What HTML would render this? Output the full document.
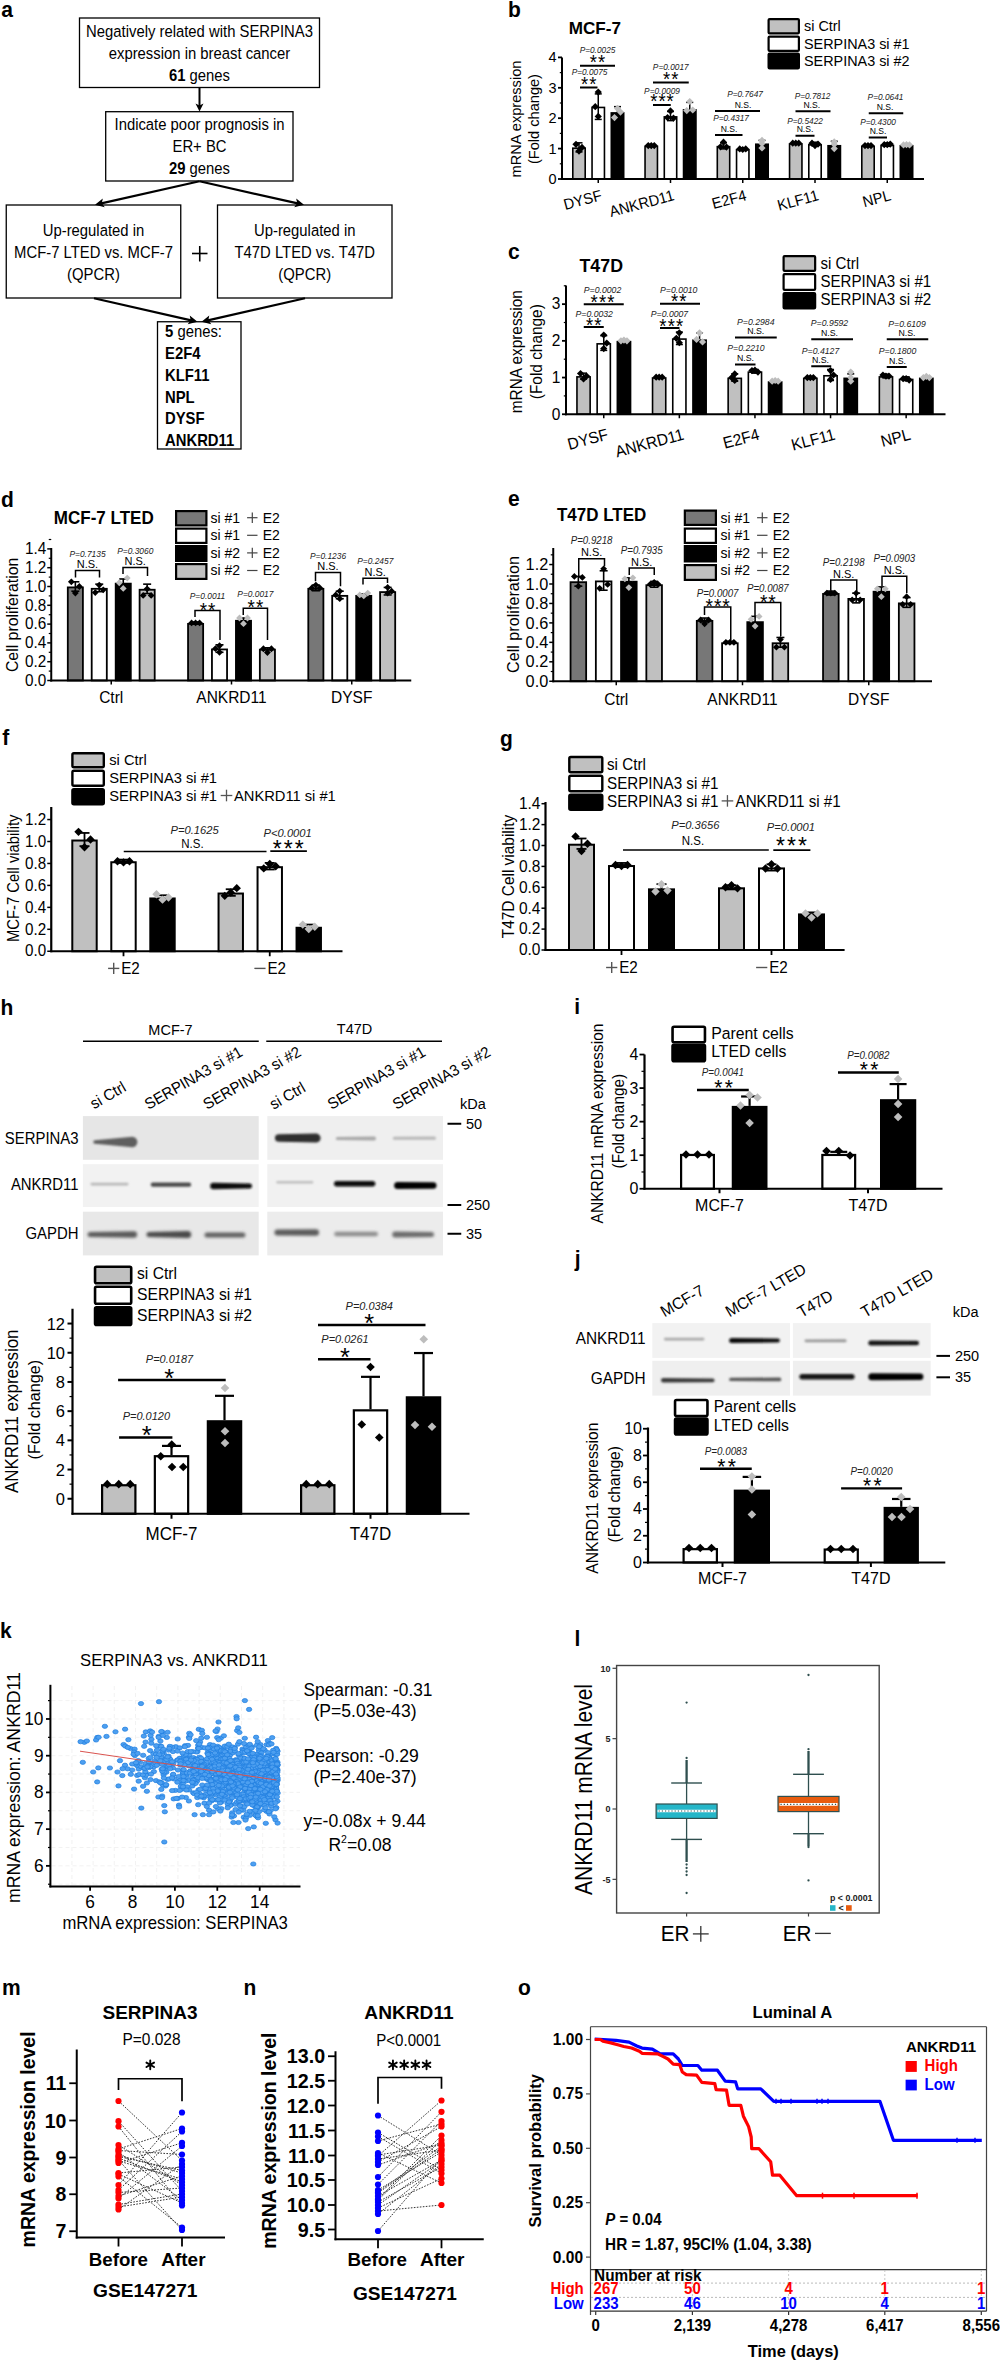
<!DOCTYPE html><html><head><meta charset="utf-8"><title>Figure</title><style>html,body{margin:0;padding:0;background:#fff;}body{width:1000px;height:2363px;overflow:hidden;font-family:"Liberation Sans",sans-serif;}svg{display:block;}</style></head><body><svg width="1000" height="2363" viewBox="0 0 1000 2363" font-family="'Liberation Sans', sans-serif"><defs><filter id="bl8" x="-20%" y="-100%" width="140%" height="300%"><feGaussianBlur stdDeviation="0.8"/></filter><filter id="bl9" x="-20%" y="-100%" width="140%" height="300%"><feGaussianBlur stdDeviation="0.9"/></filter><filter id="bl10" x="-20%" y="-100%" width="140%" height="300%"><feGaussianBlur stdDeviation="1.0"/></filter><filter id="bl12" x="-20%" y="-100%" width="140%" height="300%"><feGaussianBlur stdDeviation="1.2"/></filter><filter id="bl14" x="-20%" y="-100%" width="140%" height="300%"><feGaussianBlur stdDeviation="1.4"/></filter><filter id="bl15" x="-20%" y="-100%" width="140%" height="300%"><feGaussianBlur stdDeviation="1.5"/></filter><filter id="bl16" x="-20%" y="-100%" width="140%" height="300%"><feGaussianBlur stdDeviation="1.6"/></filter></defs><text x="1.20" y="16.80" font-size="21" font-weight="bold" transform="matrix(1 0 0 1.05 0 -0.840)">a</text>
<rect x="79.50" y="18.00" width="240.00" height="69.50" fill="none" stroke="#000" stroke-width="1.3"/>
<text x="199.50" y="37.50" font-size="14.85" text-anchor="middle" transform="matrix(1 0 0 1.05 0 -1.875)">Negatively related with SERPINA3</text>
<text x="199.50" y="59.50" font-size="14.85" text-anchor="middle" transform="matrix(1 0 0 1.05 0 -2.975)">expression in breast cancer</text>
<text x="199.5" y="81.5" font-size="14.85" text-anchor="middle" transform="matrix(1 0 0 1.05 0 -4.075)"><tspan font-weight="bold">61</tspan> genes</text>
<line x1="199.50" y1="87.50" x2="199.50" y2="106.70" stroke="#000" stroke-width="2"/>
<path d="M199.50 111.50L195.50 103.50L199.50 105.50L203.50 103.50Z" fill="#000"/>
<rect x="105.70" y="111.70" width="187.30" height="69.30" fill="none" stroke="#000" stroke-width="1.3"/>
<text x="199.50" y="130.50" font-size="14.85" text-anchor="middle" transform="matrix(1 0 0 1.05 0 -6.525)">Indicate poor prognosis in</text>
<text x="199.50" y="152.50" font-size="14.85" text-anchor="middle" transform="matrix(1 0 0 1.05 0 -7.625)">ER+ BC</text>
<text x="199.5" y="174.3" font-size="14.85" text-anchor="middle" transform="matrix(1 0 0 1.05 0 -8.715)"><tspan font-weight="bold">29</tspan> genes</text>
<line x1="199.50" y1="181.30" x2="100.27" y2="203.62" stroke="#000" stroke-width="2.2"/>
<path d="M95.00 204.80L102.79 198.44L101.83 203.26L104.77 207.22Z" fill="#000"/>
<line x1="199.50" y1="181.30" x2="298.73" y2="203.62" stroke="#000" stroke-width="2.2"/>
<path d="M304.00 204.80L294.23 207.22L297.17 203.26L296.21 198.44Z" fill="#000"/>
<rect x="6.25" y="205.00" width="174.50" height="93.00" fill="none" stroke="#000" stroke-width="1.3"/>
<rect x="217.50" y="205.00" width="174.50" height="93.00" fill="none" stroke="#000" stroke-width="1.3"/>
<text x="93.50" y="236.00" font-size="14.85" text-anchor="middle" transform="matrix(1 0 0 1.05 0 -11.800)">Up-regulated in</text>
<text x="93.50" y="258.00" font-size="14.85" text-anchor="middle" transform="matrix(1 0 0 1.05 0 -12.900)">MCF-7 LTED vs. MCF-7</text>
<text x="93.50" y="280.00" font-size="14.85" text-anchor="middle" transform="matrix(1 0 0 1.05 0 -14.000)">(QPCR)</text>
<text x="304.75" y="236.00" font-size="14.85" text-anchor="middle" transform="matrix(1 0 0 1.05 0 -11.800)">Up-regulated in</text>
<text x="304.75" y="258.00" font-size="14.85" text-anchor="middle" transform="matrix(1 0 0 1.05 0 -12.900)">T47D LTED vs. T47D</text>
<text x="304.75" y="280.00" font-size="14.85" text-anchor="middle" transform="matrix(1 0 0 1.05 0 -14.000)">(QPCR)</text>
<line x1="192.00" y1="253.50" x2="207.50" y2="253.50" stroke="#000" stroke-width="1.6"/>
<line x1="199.75" y1="246.00" x2="199.75" y2="261.50" stroke="#000" stroke-width="1.6"/>
<line x1="94.00" y1="298.20" x2="192.24" y2="320.60" stroke="#000" stroke-width="2.2"/>
<path d="M197.50 321.80L187.72 324.19L190.68 320.24L189.73 315.41Z" fill="#000"/>
<line x1="305.00" y1="298.20" x2="206.76" y2="320.60" stroke="#000" stroke-width="2.2"/>
<path d="M201.50 321.80L209.27 315.41L208.32 320.24L211.28 324.19Z" fill="#000"/>
<rect x="157.50" y="321.75" width="83.50" height="127.25" fill="none" stroke="#000" stroke-width="1.3"/>
<text x="165" y="337" font-size="14.85" transform="matrix(1 0 0 1.05 0 -16.850)"><tspan font-weight="bold">5</tspan> genes:</text>
<text x="165.00" y="359.00" font-size="14.85" font-weight="bold" transform="matrix(1 0 0 1.05 0 -17.950)">E2F4</text>
<text x="165.00" y="380.80" font-size="14.85" font-weight="bold" transform="matrix(1 0 0 1.05 0 -19.040)">KLF11</text>
<text x="165.00" y="402.60" font-size="14.85" font-weight="bold" transform="matrix(1 0 0 1.05 0 -20.130)">NPL</text>
<text x="165.00" y="424.40" font-size="14.85" font-weight="bold" transform="matrix(1 0 0 1.05 0 -21.220)">DYSF</text>
<text x="165.00" y="446.20" font-size="14.85" font-weight="bold" transform="matrix(1 0 0 1.05 0 -22.310)">ANKRD11</text>
<rect x="572.80" y="148.18" width="12.40" height="30.82" fill="#c0c0c0" stroke="#000" stroke-width="1.6"/>
<line x1="579.00" y1="151.94" x2="579.00" y2="142.82" stroke="#000" stroke-width="1.5"/>
<line x1="575.50" y1="142.82" x2="582.50" y2="142.82" stroke="#000" stroke-width="1.5"/>
<line x1="575.50" y1="151.94" x2="582.50" y2="151.94" stroke="#000" stroke-width="1.5"/>
<path d="M576.00 140.74L579.60 144.34L576.00 147.94L572.40 144.34Z" fill="#000"/>
<path d="M582.00 143.78L585.60 147.38L582.00 150.98L578.40 147.38Z" fill="#000"/>
<path d="M579.00 147.43L582.60 151.03L579.00 154.63L575.40 151.03Z" fill="#000"/>
<rect x="592.05" y="107.45" width="12.40" height="71.55" fill="#fff" stroke="#000" stroke-width="1.6"/>
<line x1="598.25" y1="119.42" x2="598.25" y2="93.88" stroke="#000" stroke-width="1.5"/>
<line x1="594.75" y1="93.88" x2="601.75" y2="93.88" stroke="#000" stroke-width="1.5"/>
<line x1="594.75" y1="119.42" x2="601.75" y2="119.42" stroke="#000" stroke-width="1.5"/>
<path d="M598.25 88.46L601.85 92.06L598.25 95.66L594.65 92.06Z" fill="#000"/>
<path d="M595.25 103.05L598.85 106.65L595.25 110.25L591.65 106.65Z" fill="#000"/>
<path d="M598.25 112.78L601.85 116.38L598.25 119.98L594.65 116.38Z" fill="#000"/>
<rect x="611.30" y="112.92" width="12.40" height="66.08" fill="#000" stroke="#000" stroke-width="1.6"/>
<line x1="617.50" y1="117.59" x2="617.50" y2="106.65" stroke="#000" stroke-width="1.5"/>
<line x1="614.00" y1="106.65" x2="621.00" y2="106.65" stroke="#000" stroke-width="1.5"/>
<line x1="614.00" y1="117.59" x2="621.00" y2="117.59" stroke="#000" stroke-width="1.5"/>
<path d="M617.50 104.87L621.10 108.47L617.50 112.07L613.90 108.47Z" fill="#bdbdbd"/>
<path d="M620.50 108.52L624.10 112.12L620.50 115.72L616.90 112.12Z" fill="#bdbdbd"/>
<path d="M614.50 113.99L618.10 117.59L614.50 121.19L610.90 117.59Z" fill="#bdbdbd"/>
<rect x="645.05" y="146.36" width="12.40" height="32.64" fill="#c0c0c0" stroke="#000" stroke-width="1.6"/>
<line x1="651.25" y1="146.17" x2="651.25" y2="144.95" stroke="#000" stroke-width="1.5"/>
<line x1="647.75" y1="144.95" x2="654.75" y2="144.95" stroke="#000" stroke-width="1.5"/>
<line x1="647.75" y1="146.17" x2="654.75" y2="146.17" stroke="#000" stroke-width="1.5"/>
<path d="M648.25 141.96L651.85 145.56L648.25 149.16L644.65 145.56Z" fill="#000"/>
<path d="M651.25 141.96L654.85 145.56L651.25 149.16L647.65 145.56Z" fill="#000"/>
<path d="M654.25 141.96L657.85 145.56L654.25 149.16L650.65 145.56Z" fill="#000"/>
<rect x="664.30" y="116.87" width="12.40" height="62.13" fill="#fff" stroke="#000" stroke-width="1.6"/>
<line x1="670.50" y1="120.63" x2="670.50" y2="111.51" stroke="#000" stroke-width="1.5"/>
<line x1="667.00" y1="111.51" x2="674.00" y2="111.51" stroke="#000" stroke-width="1.5"/>
<line x1="667.00" y1="120.63" x2="674.00" y2="120.63" stroke="#000" stroke-width="1.5"/>
<path d="M670.50 107.30L674.10 110.90L670.50 114.50L666.90 110.90Z" fill="#000"/>
<path d="M667.50 113.99L671.10 117.59L667.50 121.19L663.90 117.59Z" fill="#000"/>
<path d="M673.50 114.60L677.10 118.20L673.50 121.80L669.90 118.20Z" fill="#000"/>
<rect x="683.55" y="109.88" width="12.40" height="69.12" fill="#000" stroke="#000" stroke-width="1.6"/>
<line x1="689.75" y1="115.77" x2="689.75" y2="102.39" stroke="#000" stroke-width="1.5"/>
<line x1="686.25" y1="102.39" x2="693.25" y2="102.39" stroke="#000" stroke-width="1.5"/>
<line x1="686.25" y1="115.77" x2="693.25" y2="115.77" stroke="#000" stroke-width="1.5"/>
<path d="M689.75 97.88L693.35 101.48L689.75 105.08L686.15 101.48Z" fill="#bdbdbd"/>
<path d="M686.75 107.00L690.35 110.60L686.75 114.20L683.15 110.60Z" fill="#bdbdbd"/>
<path d="M692.75 106.39L696.35 109.99L692.75 113.59L689.15 109.99Z" fill="#bdbdbd"/>
<rect x="717.30" y="146.66" width="12.40" height="32.34" fill="#c0c0c0" stroke="#000" stroke-width="1.6"/>
<line x1="723.50" y1="148.90" x2="723.50" y2="142.82" stroke="#000" stroke-width="1.5"/>
<line x1="720.00" y1="142.82" x2="727.00" y2="142.82" stroke="#000" stroke-width="1.5"/>
<line x1="720.00" y1="148.90" x2="727.00" y2="148.90" stroke="#000" stroke-width="1.5"/>
<path d="M723.50 138.62L727.10 142.22L723.50 145.82L719.90 142.22Z" fill="#000"/>
<path d="M720.50 143.18L724.10 146.78L720.50 150.38L716.90 146.78Z" fill="#000"/>
<path d="M726.50 143.48L730.10 147.08L726.50 150.68L722.90 147.08Z" fill="#000"/>
<rect x="736.55" y="149.70" width="12.40" height="29.30" fill="#fff" stroke="#000" stroke-width="1.6"/>
<line x1="742.75" y1="149.82" x2="742.75" y2="147.99" stroke="#000" stroke-width="1.5"/>
<line x1="739.25" y1="147.99" x2="746.25" y2="147.99" stroke="#000" stroke-width="1.5"/>
<line x1="739.25" y1="149.82" x2="746.25" y2="149.82" stroke="#000" stroke-width="1.5"/>
<path d="M739.75 145.30L743.35 148.90L739.75 152.50L736.15 148.90Z" fill="#000"/>
<path d="M742.75 145.91L746.35 149.51L742.75 153.11L739.15 149.51Z" fill="#000"/>
<path d="M745.75 145.30L749.35 148.90L745.75 152.50L742.15 148.90Z" fill="#000"/>
<rect x="755.80" y="144.23" width="12.40" height="34.77" fill="#000" stroke="#000" stroke-width="1.6"/>
<line x1="762.00" y1="146.47" x2="762.00" y2="140.39" stroke="#000" stroke-width="1.5"/>
<line x1="758.50" y1="140.39" x2="765.50" y2="140.39" stroke="#000" stroke-width="1.5"/>
<line x1="758.50" y1="146.47" x2="765.50" y2="146.47" stroke="#000" stroke-width="1.5"/>
<path d="M762.00 136.79L765.60 140.39L762.00 143.99L758.40 140.39Z" fill="#bdbdbd"/>
<path d="M762.00 144.39L765.60 147.99L762.00 151.59L758.40 147.99Z" fill="#bdbdbd"/>
<path d="M762.00 139.83L765.60 143.43L762.00 147.03L758.40 143.43Z" fill="#bdbdbd"/>
<rect x="789.55" y="143.93" width="12.40" height="35.07" fill="#c0c0c0" stroke="#000" stroke-width="1.6"/>
<line x1="795.75" y1="144.04" x2="795.75" y2="142.22" stroke="#000" stroke-width="1.5"/>
<line x1="792.25" y1="142.22" x2="799.25" y2="142.22" stroke="#000" stroke-width="1.5"/>
<line x1="792.25" y1="144.04" x2="799.25" y2="144.04" stroke="#000" stroke-width="1.5"/>
<path d="M792.75 139.53L796.35 143.13L792.75 146.73L789.15 143.13Z" fill="#000"/>
<path d="M795.75 139.53L799.35 143.13L795.75 146.73L792.15 143.13Z" fill="#000"/>
<path d="M798.75 139.53L802.35 143.13L798.75 146.73L795.15 143.13Z" fill="#000"/>
<rect x="808.80" y="144.84" width="12.40" height="34.16" fill="#fff" stroke="#000" stroke-width="1.6"/>
<line x1="815.00" y1="145.86" x2="815.00" y2="142.22" stroke="#000" stroke-width="1.5"/>
<line x1="811.50" y1="142.22" x2="818.50" y2="142.22" stroke="#000" stroke-width="1.5"/>
<line x1="811.50" y1="145.86" x2="818.50" y2="145.86" stroke="#000" stroke-width="1.5"/>
<path d="M812.00 139.53L815.60 143.13L812.00 146.73L808.40 143.13Z" fill="#000"/>
<path d="M815.00 141.96L818.60 145.56L815.00 149.16L811.40 145.56Z" fill="#000"/>
<path d="M818.00 140.44L821.60 144.04L818.00 147.64L814.40 144.04Z" fill="#000"/>
<rect x="828.05" y="145.75" width="12.40" height="33.25" fill="#000" stroke="#000" stroke-width="1.6"/>
<line x1="834.25" y1="148.60" x2="834.25" y2="141.30" stroke="#000" stroke-width="1.5"/>
<line x1="830.75" y1="141.30" x2="837.75" y2="141.30" stroke="#000" stroke-width="1.5"/>
<line x1="830.75" y1="148.60" x2="837.75" y2="148.60" stroke="#000" stroke-width="1.5"/>
<path d="M834.25 138.31L837.85 141.91L834.25 145.51L830.65 141.91Z" fill="#bdbdbd"/>
<path d="M834.25 145.00L837.85 148.60L834.25 152.20L830.65 148.60Z" fill="#bdbdbd"/>
<path d="M834.25 140.74L837.85 144.34L834.25 147.94L830.65 144.34Z" fill="#bdbdbd"/>
<rect x="861.80" y="146.36" width="12.40" height="32.64" fill="#c0c0c0" stroke="#000" stroke-width="1.6"/>
<line x1="868.00" y1="146.47" x2="868.00" y2="144.65" stroke="#000" stroke-width="1.5"/>
<line x1="864.50" y1="144.65" x2="871.50" y2="144.65" stroke="#000" stroke-width="1.5"/>
<line x1="864.50" y1="146.47" x2="871.50" y2="146.47" stroke="#000" stroke-width="1.5"/>
<path d="M865.00 141.96L868.60 145.56L865.00 149.16L861.40 145.56Z" fill="#000"/>
<path d="M868.00 141.96L871.60 145.56L868.00 149.16L864.40 145.56Z" fill="#000"/>
<path d="M871.00 141.96L874.60 145.56L871.00 149.16L867.40 145.56Z" fill="#000"/>
<rect x="881.05" y="145.45" width="12.40" height="33.55" fill="#fff" stroke="#000" stroke-width="1.6"/>
<line x1="887.25" y1="146.17" x2="887.25" y2="143.13" stroke="#000" stroke-width="1.5"/>
<line x1="883.75" y1="143.13" x2="890.75" y2="143.13" stroke="#000" stroke-width="1.5"/>
<line x1="883.75" y1="146.17" x2="890.75" y2="146.17" stroke="#000" stroke-width="1.5"/>
<path d="M884.25 141.05L887.85 144.65L884.25 148.25L880.65 144.65Z" fill="#000"/>
<path d="M887.25 141.05L890.85 144.65L887.25 148.25L883.65 144.65Z" fill="#000"/>
<path d="M890.25 140.44L893.85 144.04L890.25 147.64L886.65 144.04Z" fill="#000"/>
<rect x="900.30" y="145.75" width="12.40" height="33.25" fill="#000" stroke="#000" stroke-width="1.6"/>
<line x1="906.50" y1="145.86" x2="906.50" y2="144.04" stroke="#000" stroke-width="1.5"/>
<line x1="903.00" y1="144.04" x2="910.00" y2="144.04" stroke="#000" stroke-width="1.5"/>
<line x1="903.00" y1="145.86" x2="910.00" y2="145.86" stroke="#000" stroke-width="1.5"/>
<path d="M903.50 141.35L907.10 144.95L903.50 148.55L899.90 144.95Z" fill="#bdbdbd"/>
<path d="M906.50 141.05L910.10 144.65L906.50 148.25L902.90 144.65Z" fill="#bdbdbd"/>
<path d="M909.50 141.35L913.10 144.95L909.50 148.55L905.90 144.95Z" fill="#bdbdbd"/>
<line x1="562.00" y1="57.50" x2="562.00" y2="180.00" stroke="#000" stroke-width="2"/>
<line x1="561.00" y1="179.00" x2="924.00" y2="179.00" stroke="#000" stroke-width="2"/>
<line x1="558.00" y1="179.00" x2="562.00" y2="179.00" stroke="#000" stroke-width="1.8"/>
<text x="556.50" y="183.99" font-size="14.5" text-anchor="end" transform="matrix(1 0 0 1.05 0 -9.199)">0</text>
<line x1="559.80" y1="163.80" x2="562.00" y2="163.80" stroke="#000" stroke-width="1.2"/>
<line x1="558.00" y1="148.60" x2="562.00" y2="148.60" stroke="#000" stroke-width="1.8"/>
<text x="556.50" y="153.59" font-size="14.5" text-anchor="end" transform="matrix(1 0 0 1.05 0 -7.679)">1</text>
<line x1="559.80" y1="133.40" x2="562.00" y2="133.40" stroke="#000" stroke-width="1.2"/>
<line x1="558.00" y1="118.20" x2="562.00" y2="118.20" stroke="#000" stroke-width="1.8"/>
<text x="556.50" y="123.19" font-size="14.5" text-anchor="end" transform="matrix(1 0 0 1.05 0 -6.159)">2</text>
<line x1="559.80" y1="103.00" x2="562.00" y2="103.00" stroke="#000" stroke-width="1.2"/>
<line x1="558.00" y1="87.80" x2="562.00" y2="87.80" stroke="#000" stroke-width="1.8"/>
<text x="556.50" y="92.79" font-size="14.5" text-anchor="end" transform="matrix(1 0 0 1.05 0 -4.639)">3</text>
<line x1="559.80" y1="72.60" x2="562.00" y2="72.60" stroke="#000" stroke-width="1.2"/>
<line x1="558.00" y1="57.40" x2="562.00" y2="57.40" stroke="#000" stroke-width="1.8"/>
<text x="556.50" y="62.39" font-size="14.5" text-anchor="end" transform="matrix(1 0 0 1.05 0 -3.119)">4</text>
<line x1="598.25" y1="179.00" x2="598.25" y2="183.00" stroke="#000" stroke-width="1.5"/>
<line x1="670.50" y1="179.00" x2="670.50" y2="183.00" stroke="#000" stroke-width="1.5"/>
<line x1="742.75" y1="179.00" x2="742.75" y2="183.00" stroke="#000" stroke-width="1.5"/>
<line x1="815.00" y1="179.00" x2="815.00" y2="183.00" stroke="#000" stroke-width="1.5"/>
<line x1="887.25" y1="179.00" x2="887.25" y2="183.00" stroke="#000" stroke-width="1.5"/>
<text x="602.75" y="200.00" font-size="14.6" text-anchor="end" transform="rotate(-15 602.75 200.00) matrix(1 0 0 1.05 0 -10.000)">DYSF</text>
<text x="675.00" y="200.00" font-size="14.6" text-anchor="end" transform="rotate(-15 675.00 200.00) matrix(1 0 0 1.05 0 -10.000)">ANKRD11</text>
<text x="747.25" y="200.00" font-size="14.6" text-anchor="end" transform="rotate(-15 747.25 200.00) matrix(1 0 0 1.05 0 -10.000)">E2F4</text>
<text x="819.50" y="200.00" font-size="14.6" text-anchor="end" transform="rotate(-15 819.50 200.00) matrix(1 0 0 1.05 0 -10.000)">KLF11</text>
<text x="891.75" y="200.00" font-size="14.6" text-anchor="end" transform="rotate(-15 891.75 200.00) matrix(1 0 0 1.05 0 -10.000)">NPL</text>
<text x="521.00" y="119.00" font-size="14.6" text-anchor="middle" textLength="116.75" lengthAdjust="spacingAndGlyphs" transform="rotate(-90 521.00 119.00) matrix(1 0 0 1.05 0 -5.950)">mRNA expression</text>
<text x="539.50" y="119.00" font-size="14.6" text-anchor="middle" textLength="90.00" lengthAdjust="spacingAndGlyphs" transform="rotate(-90 539.50 119.00) matrix(1 0 0 1.05 0 -5.950)">(Fold change)</text>
<line x1="580.00" y1="87.50" x2="597.50" y2="87.50" stroke="#000" stroke-width="2"/>
<text x="589.25" y="90.58" font-size="18.4" text-anchor="middle" transform="matrix(1 0 0 1.05 0 -4.529)" letter-spacing="1.0">**</text>
<text x="589.50" y="75.50" font-size="8.3" text-anchor="middle" fill="#222" font-style="italic" transform="matrix(1 0 0 1.05 0 -3.775)">P=0.0075</text>
<line x1="580.00" y1="65.75" x2="615.00" y2="65.75" stroke="#000" stroke-width="2"/>
<text x="598.00" y="68.83" font-size="18.4" text-anchor="middle" transform="matrix(1 0 0 1.05 0 -3.441)" letter-spacing="1.0">**</text>
<text x="597.50" y="53.50" font-size="8.3" text-anchor="middle" fill="#222" font-style="italic" transform="matrix(1 0 0 1.05 0 -2.675)">P=0.0025</text>
<line x1="653.00" y1="105.00" x2="670.75" y2="105.00" stroke="#000" stroke-width="2"/>
<text x="662.50" y="108.08" font-size="18.4" text-anchor="middle" transform="matrix(1 0 0 1.05 0 -5.404)" letter-spacing="1.0">***</text>
<text x="662.00" y="94.00" font-size="8.3" text-anchor="middle" fill="#222" font-style="italic" transform="matrix(1 0 0 1.05 0 -4.700)">P=0.0009</text>
<line x1="653.00" y1="82.50" x2="688.75" y2="82.50" stroke="#000" stroke-width="2"/>
<text x="671.25" y="85.58" font-size="18.4" text-anchor="middle" transform="matrix(1 0 0 1.05 0 -4.279)" letter-spacing="1.0">**</text>
<text x="670.75" y="70.00" font-size="8.3" text-anchor="middle" fill="#222" font-style="italic" transform="matrix(1 0 0 1.05 0 -3.500)">P=0.0017</text>
<line x1="715.00" y1="135.00" x2="742.50" y2="135.00" stroke="#000" stroke-width="2"/>
<text x="729.00" y="132.00" font-size="8.6" text-anchor="middle" transform="matrix(1 0 0 1.05 0 -6.600)">N.S.</text>
<text x="731.00" y="121.50" font-size="8.3" text-anchor="middle" fill="#222" font-style="italic" transform="matrix(1 0 0 1.05 0 -6.075)">P=0.4317</text>
<line x1="715.00" y1="111.00" x2="760.00" y2="111.00" stroke="#000" stroke-width="2"/>
<text x="743.00" y="108.00" font-size="8.6" text-anchor="middle" transform="matrix(1 0 0 1.05 0 -5.400)">N.S.</text>
<text x="745.00" y="97.00" font-size="8.3" text-anchor="middle" fill="#222" font-style="italic" transform="matrix(1 0 0 1.05 0 -4.850)">P=0.7647</text>
<line x1="795.50" y1="135.75" x2="814.50" y2="135.75" stroke="#000" stroke-width="2"/>
<text x="805.00" y="132.50" font-size="8.6" text-anchor="middle" transform="matrix(1 0 0 1.05 0 -6.625)">N.S.</text>
<text x="805.00" y="123.75" font-size="8.3" text-anchor="middle" fill="#222" font-style="italic" transform="matrix(1 0 0 1.05 0 -6.188)">P=0.5422</text>
<line x1="795.50" y1="111.25" x2="830.50" y2="111.25" stroke="#000" stroke-width="2"/>
<text x="811.75" y="108.00" font-size="8.6" text-anchor="middle" transform="matrix(1 0 0 1.05 0 -5.400)">N.S.</text>
<text x="812.50" y="98.75" font-size="8.3" text-anchor="middle" fill="#222" font-style="italic" transform="matrix(1 0 0 1.05 0 -4.938)">P=0.7812</text>
<line x1="868.75" y1="137.50" x2="887.00" y2="137.50" stroke="#000" stroke-width="2"/>
<text x="878.00" y="134.25" font-size="8.6" text-anchor="middle" transform="matrix(1 0 0 1.05 0 -6.713)">N.S.</text>
<text x="878.00" y="125.00" font-size="8.3" text-anchor="middle" fill="#222" font-style="italic" transform="matrix(1 0 0 1.05 0 -6.250)">P=0.4300</text>
<line x1="868.75" y1="113.25" x2="903.25" y2="113.25" stroke="#000" stroke-width="2"/>
<text x="885.00" y="110.00" font-size="8.6" text-anchor="middle" transform="matrix(1 0 0 1.05 0 -5.500)">N.S.</text>
<text x="885.50" y="100.50" font-size="8.3" text-anchor="middle" fill="#222" font-style="italic" transform="matrix(1 0 0 1.05 0 -5.025)">P=0.0641</text>
<text x="508.10" y="16.90" font-size="21" font-weight="bold" transform="matrix(1 0 0 1.05 0 -0.845)">b</text>
<text x="568.75" y="33.75" font-size="16.5" font-weight="bold" textLength="52.25" lengthAdjust="spacingAndGlyphs" transform="matrix(1 0 0 1.05 0 -1.688)">MCF-7</text>
<rect x="768.60" y="19.10" width="30.30" height="14.30" fill="#c0c0c0" stroke="#000" stroke-width="2.2" rx="1"/>
<rect x="768.60" y="36.60" width="30.30" height="14.30" fill="#fff" stroke="#000" stroke-width="2.2" rx="1"/>
<rect x="768.60" y="53.60" width="30.30" height="14.80" fill="#000" stroke="#000" stroke-width="2.2" rx="1"/>
<text x="804.00" y="31.25" font-size="14.4" transform="matrix(1 0 0 1.05 0 -1.563)">si Ctrl</text>
<text x="804.00" y="48.75" font-size="14.4" transform="matrix(1 0 0 1.05 0 -2.438)">SERPINA3 si #1</text>
<text x="804.00" y="66.25" font-size="14.4" transform="matrix(1 0 0 1.05 0 -3.313)">SERPINA3 si #2</text>
<rect x="576.95" y="376.88" width="13.20" height="37.37" fill="#c0c0c0" stroke="#000" stroke-width="1.6"/>
<line x1="583.55" y1="379.02" x2="583.55" y2="373.15" stroke="#000" stroke-width="1.5"/>
<line x1="580.05" y1="373.15" x2="587.05" y2="373.15" stroke="#000" stroke-width="1.5"/>
<line x1="580.05" y1="379.02" x2="587.05" y2="379.02" stroke="#000" stroke-width="1.5"/>
<path d="M580.55 369.91L584.15 373.51L580.55 377.11L576.95 373.51Z" fill="#000"/>
<path d="M586.55 372.48L590.15 376.08L586.55 379.68L582.95 376.08Z" fill="#000"/>
<path d="M583.55 375.42L587.15 379.02L583.55 382.62L579.95 379.02Z" fill="#000"/>
<rect x="597.15" y="343.85" width="13.20" height="70.40" fill="#fff" stroke="#000" stroke-width="1.6"/>
<line x1="603.75" y1="350.39" x2="603.75" y2="335.71" stroke="#000" stroke-width="1.5"/>
<line x1="600.25" y1="335.71" x2="607.25" y2="335.71" stroke="#000" stroke-width="1.5"/>
<line x1="600.25" y1="350.39" x2="607.25" y2="350.39" stroke="#000" stroke-width="1.5"/>
<path d="M603.75 331.38L607.35 334.98L603.75 338.58L600.15 334.98Z" fill="#000"/>
<path d="M603.75 344.96L607.35 348.56L603.75 352.16L600.15 348.56Z" fill="#000"/>
<path d="M606.75 339.45L610.35 343.05L606.75 346.65L603.15 343.05Z" fill="#000"/>
<rect x="617.35" y="341.65" width="13.20" height="72.60" fill="#000" stroke="#000" stroke-width="1.6"/>
<line x1="623.95" y1="341.95" x2="623.95" y2="339.75" stroke="#000" stroke-width="1.5"/>
<line x1="620.45" y1="339.75" x2="627.45" y2="339.75" stroke="#000" stroke-width="1.5"/>
<line x1="620.45" y1="341.95" x2="627.45" y2="341.95" stroke="#000" stroke-width="1.5"/>
<path d="M623.95 336.52L627.55 340.12L623.95 343.72L620.35 340.12Z" fill="#bdbdbd"/>
<path d="M620.95 337.25L624.55 340.85L620.95 344.45L617.35 340.85Z" fill="#bdbdbd"/>
<path d="M626.95 337.25L630.55 340.85L626.95 344.45L623.35 340.85Z" fill="#bdbdbd"/>
<rect x="652.55" y="377.98" width="13.20" height="36.27" fill="#c0c0c0" stroke="#000" stroke-width="1.6"/>
<line x1="659.15" y1="377.92" x2="659.15" y2="376.45" stroke="#000" stroke-width="1.5"/>
<line x1="655.65" y1="376.45" x2="662.65" y2="376.45" stroke="#000" stroke-width="1.5"/>
<line x1="655.65" y1="377.92" x2="662.65" y2="377.92" stroke="#000" stroke-width="1.5"/>
<path d="M656.15 373.58L659.75 377.18L656.15 380.78L652.55 377.18Z" fill="#000"/>
<path d="M659.15 373.58L662.75 377.18L659.15 380.78L655.55 377.18Z" fill="#000"/>
<path d="M662.15 373.58L665.75 377.18L662.15 380.78L658.55 377.18Z" fill="#000"/>
<rect x="672.75" y="339.08" width="13.20" height="75.17" fill="#fff" stroke="#000" stroke-width="1.6"/>
<line x1="679.35" y1="344.52" x2="679.35" y2="332.04" stroke="#000" stroke-width="1.5"/>
<line x1="675.85" y1="332.04" x2="682.85" y2="332.04" stroke="#000" stroke-width="1.5"/>
<line x1="675.85" y1="344.52" x2="682.85" y2="344.52" stroke="#000" stroke-width="1.5"/>
<path d="M679.35 329.18L682.95 332.78L679.35 336.38L675.75 332.78Z" fill="#000"/>
<path d="M676.35 334.68L679.95 338.28L676.35 341.88L672.75 338.28Z" fill="#000"/>
<path d="M679.35 339.08L682.95 342.69L679.35 346.29L675.75 342.69Z" fill="#000"/>
<rect x="692.95" y="340.18" width="13.20" height="74.07" fill="#000" stroke="#000" stroke-width="1.6"/>
<line x1="699.55" y1="345.99" x2="699.55" y2="332.78" stroke="#000" stroke-width="1.5"/>
<line x1="696.05" y1="332.78" x2="703.05" y2="332.78" stroke="#000" stroke-width="1.5"/>
<line x1="696.05" y1="345.99" x2="703.05" y2="345.99" stroke="#000" stroke-width="1.5"/>
<path d="M699.55 329.18L703.15 332.78L699.55 336.38L695.95 332.78Z" fill="#bdbdbd"/>
<path d="M696.55 335.78L700.15 339.38L696.55 342.98L692.95 339.38Z" fill="#bdbdbd"/>
<path d="M702.55 338.35L706.15 341.95L702.55 345.55L698.95 341.95Z" fill="#bdbdbd"/>
<rect x="728.15" y="378.35" width="13.20" height="35.90" fill="#c0c0c0" stroke="#000" stroke-width="1.6"/>
<line x1="734.75" y1="381.22" x2="734.75" y2="373.88" stroke="#000" stroke-width="1.5"/>
<line x1="731.25" y1="373.88" x2="738.25" y2="373.88" stroke="#000" stroke-width="1.5"/>
<line x1="731.25" y1="381.22" x2="738.25" y2="381.22" stroke="#000" stroke-width="1.5"/>
<path d="M734.75 370.28L738.35 373.88L734.75 377.48L731.15 373.88Z" fill="#000"/>
<path d="M731.75 373.95L735.35 377.55L731.75 381.15L728.15 377.55Z" fill="#000"/>
<path d="M734.75 376.89L738.35 380.49L734.75 384.09L731.15 380.49Z" fill="#000"/>
<rect x="748.35" y="372.11" width="13.20" height="42.14" fill="#fff" stroke="#000" stroke-width="1.6"/>
<line x1="754.95" y1="373.15" x2="754.95" y2="369.48" stroke="#000" stroke-width="1.5"/>
<line x1="751.45" y1="369.48" x2="758.45" y2="369.48" stroke="#000" stroke-width="1.5"/>
<line x1="751.45" y1="373.15" x2="758.45" y2="373.15" stroke="#000" stroke-width="1.5"/>
<path d="M751.95 366.98L755.55 370.58L751.95 374.18L748.35 370.58Z" fill="#000"/>
<path d="M754.95 366.61L758.55 370.21L754.95 373.81L751.35 370.21Z" fill="#000"/>
<path d="M757.95 368.44L761.55 372.05L757.95 375.65L754.35 372.05Z" fill="#000"/>
<rect x="768.55" y="382.02" width="13.20" height="32.23" fill="#000" stroke="#000" stroke-width="1.6"/>
<line x1="775.15" y1="382.69" x2="775.15" y2="379.75" stroke="#000" stroke-width="1.5"/>
<line x1="771.65" y1="379.75" x2="778.65" y2="379.75" stroke="#000" stroke-width="1.5"/>
<line x1="771.65" y1="382.69" x2="778.65" y2="382.69" stroke="#000" stroke-width="1.5"/>
<path d="M772.15 377.62L775.75 381.22L772.15 384.82L768.55 381.22Z" fill="#bdbdbd"/>
<path d="M775.15 376.89L778.75 380.49L775.15 384.09L771.55 380.49Z" fill="#bdbdbd"/>
<path d="M778.15 377.62L781.75 381.22L778.15 384.82L774.55 381.22Z" fill="#bdbdbd"/>
<rect x="803.75" y="378.35" width="13.20" height="35.90" fill="#c0c0c0" stroke="#000" stroke-width="1.6"/>
<line x1="810.35" y1="378.28" x2="810.35" y2="376.82" stroke="#000" stroke-width="1.5"/>
<line x1="806.85" y1="376.82" x2="813.85" y2="376.82" stroke="#000" stroke-width="1.5"/>
<line x1="806.85" y1="378.28" x2="813.85" y2="378.28" stroke="#000" stroke-width="1.5"/>
<path d="M807.35 373.95L810.95 377.55L807.35 381.15L803.75 377.55Z" fill="#000"/>
<path d="M810.35 373.95L813.95 377.55L810.35 381.15L806.75 377.55Z" fill="#000"/>
<path d="M813.35 373.95L816.95 377.55L813.35 381.15L809.75 377.55Z" fill="#000"/>
<rect x="823.95" y="375.78" width="13.20" height="38.47" fill="#fff" stroke="#000" stroke-width="1.6"/>
<line x1="830.55" y1="380.49" x2="830.55" y2="369.48" stroke="#000" stroke-width="1.5"/>
<line x1="827.05" y1="369.48" x2="834.05" y2="369.48" stroke="#000" stroke-width="1.5"/>
<line x1="827.05" y1="380.49" x2="834.05" y2="380.49" stroke="#000" stroke-width="1.5"/>
<path d="M830.55 366.98L834.15 370.58L830.55 374.18L826.95 370.58Z" fill="#000"/>
<path d="M833.55 371.38L837.15 374.98L833.55 378.58L829.95 374.98Z" fill="#000"/>
<path d="M830.55 375.78L834.15 379.38L830.55 382.99L826.95 379.38Z" fill="#000"/>
<rect x="844.15" y="378.35" width="13.20" height="35.90" fill="#000" stroke="#000" stroke-width="1.6"/>
<line x1="850.75" y1="381.22" x2="850.75" y2="373.88" stroke="#000" stroke-width="1.5"/>
<line x1="847.25" y1="373.88" x2="854.25" y2="373.88" stroke="#000" stroke-width="1.5"/>
<line x1="847.25" y1="381.22" x2="854.25" y2="381.22" stroke="#000" stroke-width="1.5"/>
<path d="M850.75 368.44L854.35 372.05L850.75 375.65L847.15 372.05Z" fill="#bdbdbd"/>
<path d="M850.75 373.95L854.35 377.55L850.75 381.15L847.15 377.55Z" fill="#bdbdbd"/>
<path d="M850.75 377.62L854.35 381.22L850.75 384.82L847.15 381.22Z" fill="#bdbdbd"/>
<rect x="879.35" y="376.88" width="13.20" height="37.37" fill="#c0c0c0" stroke="#000" stroke-width="1.6"/>
<line x1="885.95" y1="377.92" x2="885.95" y2="374.25" stroke="#000" stroke-width="1.5"/>
<line x1="882.45" y1="374.25" x2="889.45" y2="374.25" stroke="#000" stroke-width="1.5"/>
<line x1="882.45" y1="377.92" x2="889.45" y2="377.92" stroke="#000" stroke-width="1.5"/>
<path d="M882.95 371.38L886.55 374.98L882.95 378.58L879.35 374.98Z" fill="#000"/>
<path d="M885.95 372.48L889.55 376.08L885.95 379.68L882.35 376.08Z" fill="#000"/>
<path d="M888.95 372.48L892.55 376.08L888.95 379.68L885.35 376.08Z" fill="#000"/>
<rect x="899.55" y="379.45" width="13.20" height="34.80" fill="#fff" stroke="#000" stroke-width="1.6"/>
<line x1="906.15" y1="380.49" x2="906.15" y2="376.82" stroke="#000" stroke-width="1.5"/>
<line x1="902.65" y1="376.82" x2="909.65" y2="376.82" stroke="#000" stroke-width="1.5"/>
<line x1="902.65" y1="380.49" x2="909.65" y2="380.49" stroke="#000" stroke-width="1.5"/>
<path d="M903.15 375.05L906.75 378.65L903.15 382.25L899.55 378.65Z" fill="#000"/>
<path d="M906.15 375.05L909.75 378.65L906.15 382.25L902.55 378.65Z" fill="#000"/>
<path d="M909.15 376.52L912.75 380.12L909.15 383.72L905.55 380.12Z" fill="#000"/>
<rect x="919.75" y="378.35" width="13.20" height="35.90" fill="#000" stroke="#000" stroke-width="1.6"/>
<line x1="926.35" y1="379.02" x2="926.35" y2="376.08" stroke="#000" stroke-width="1.5"/>
<line x1="922.85" y1="376.08" x2="929.85" y2="376.08" stroke="#000" stroke-width="1.5"/>
<line x1="922.85" y1="379.02" x2="929.85" y2="379.02" stroke="#000" stroke-width="1.5"/>
<path d="M923.35 373.95L926.95 377.55L923.35 381.15L919.75 377.55Z" fill="#bdbdbd"/>
<path d="M926.35 372.85L929.95 376.45L926.35 380.05L922.75 376.45Z" fill="#bdbdbd"/>
<path d="M929.35 373.95L932.95 377.55L929.35 381.15L925.75 377.55Z" fill="#bdbdbd"/>
<line x1="566.00" y1="285.50" x2="566.00" y2="415.25" stroke="#000" stroke-width="2"/>
<line x1="565.00" y1="414.25" x2="945.50" y2="414.25" stroke="#000" stroke-width="2"/>
<line x1="562.00" y1="414.25" x2="566.00" y2="414.25" stroke="#000" stroke-width="1.8"/>
<text x="560.50" y="419.58" font-size="15.5" text-anchor="end" transform="matrix(1 0 0 1.05 0 -20.979)">0</text>
<line x1="563.80" y1="395.90" x2="566.00" y2="395.90" stroke="#000" stroke-width="1.2"/>
<line x1="562.00" y1="377.55" x2="566.00" y2="377.55" stroke="#000" stroke-width="1.8"/>
<text x="560.50" y="382.88" font-size="15.5" text-anchor="end" transform="matrix(1 0 0 1.05 0 -19.144)">1</text>
<line x1="563.80" y1="359.20" x2="566.00" y2="359.20" stroke="#000" stroke-width="1.2"/>
<line x1="562.00" y1="340.85" x2="566.00" y2="340.85" stroke="#000" stroke-width="1.8"/>
<text x="560.50" y="346.18" font-size="15.5" text-anchor="end" transform="matrix(1 0 0 1.05 0 -17.309)">2</text>
<line x1="563.80" y1="322.50" x2="566.00" y2="322.50" stroke="#000" stroke-width="1.2"/>
<line x1="562.00" y1="304.15" x2="566.00" y2="304.15" stroke="#000" stroke-width="1.8"/>
<text x="560.50" y="309.48" font-size="15.5" text-anchor="end" transform="matrix(1 0 0 1.05 0 -15.474)">3</text>
<line x1="563.80" y1="285.80" x2="566.00" y2="285.80" stroke="#000" stroke-width="1.2"/>
<line x1="603.75" y1="414.25" x2="603.75" y2="418.25" stroke="#000" stroke-width="1.5"/>
<line x1="679.35" y1="414.25" x2="679.35" y2="418.25" stroke="#000" stroke-width="1.5"/>
<line x1="754.95" y1="414.25" x2="754.95" y2="418.25" stroke="#000" stroke-width="1.5"/>
<line x1="830.55" y1="414.25" x2="830.55" y2="418.25" stroke="#000" stroke-width="1.5"/>
<line x1="906.15" y1="414.25" x2="906.15" y2="418.25" stroke="#000" stroke-width="1.5"/>
<text x="609.25" y="439.25" font-size="15.5" text-anchor="end" transform="rotate(-15 609.25 439.25) matrix(1 0 0 1.05 0 -21.963)">DYSF</text>
<text x="684.85" y="439.25" font-size="15.5" text-anchor="end" transform="rotate(-15 684.85 439.25) matrix(1 0 0 1.05 0 -21.963)">ANKRD11</text>
<text x="760.45" y="439.25" font-size="15.5" text-anchor="end" transform="rotate(-15 760.45 439.25) matrix(1 0 0 1.05 0 -21.963)">E2F4</text>
<text x="836.05" y="439.25" font-size="15.5" text-anchor="end" transform="rotate(-15 836.05 439.25) matrix(1 0 0 1.05 0 -21.963)">KLF11</text>
<text x="911.65" y="439.25" font-size="15.5" text-anchor="end" transform="rotate(-15 911.65 439.25) matrix(1 0 0 1.05 0 -21.963)">NPL</text>
<text x="522.00" y="351.70" font-size="15.5" text-anchor="middle" textLength="123.00" lengthAdjust="spacingAndGlyphs" transform="rotate(-90 522.00 351.70) matrix(1 0 0 1.05 0 -17.585)">mRNA expression</text>
<text x="542.00" y="351.70" font-size="15.5" text-anchor="middle" textLength="95.00" lengthAdjust="spacingAndGlyphs" transform="rotate(-90 542.00 351.70) matrix(1 0 0 1.05 0 -17.585)">(Fold change)</text>
<line x1="583.75" y1="327.00" x2="603.75" y2="327.00" stroke="#000" stroke-width="2"/>
<text x="594.35" y="331.71" font-size="18.5" text-anchor="middle" transform="matrix(1 0 0 1.05 0 -16.586)" letter-spacing="1.2">**</text>
<text x="594.25" y="317.50" font-size="8.7" text-anchor="middle" fill="#222" font-style="italic" transform="matrix(1 0 0 1.05 0 -15.875)">P=0.0032</text>
<line x1="583.75" y1="304.25" x2="623.75" y2="304.25" stroke="#000" stroke-width="2"/>
<text x="603.10" y="308.96" font-size="18.5" text-anchor="middle" transform="matrix(1 0 0 1.05 0 -15.448)" letter-spacing="1.2">***</text>
<text x="602.50" y="293.00" font-size="8.7" text-anchor="middle" fill="#222" font-style="italic" transform="matrix(1 0 0 1.05 0 -14.650)">P=0.0002</text>
<line x1="660.00" y1="328.00" x2="679.50" y2="328.00" stroke="#000" stroke-width="2"/>
<text x="671.85" y="332.71" font-size="18.5" text-anchor="middle" transform="matrix(1 0 0 1.05 0 -16.636)" letter-spacing="1.2">***</text>
<text x="669.50" y="317.50" font-size="8.7" text-anchor="middle" fill="#222" font-style="italic" transform="matrix(1 0 0 1.05 0 -15.875)">P=0.0007</text>
<line x1="660.00" y1="303.75" x2="700.00" y2="303.75" stroke="#000" stroke-width="2"/>
<text x="679.35" y="308.46" font-size="18.5" text-anchor="middle" transform="matrix(1 0 0 1.05 0 -15.423)" letter-spacing="1.2">**</text>
<text x="678.75" y="293.00" font-size="8.7" text-anchor="middle" fill="#222" font-style="italic" transform="matrix(1 0 0 1.05 0 -14.650)">P=0.0010</text>
<line x1="735.00" y1="364.50" x2="755.50" y2="364.50" stroke="#000" stroke-width="2"/>
<text x="745.50" y="361.50" font-size="8.8" text-anchor="middle" transform="matrix(1 0 0 1.05 0 -18.075)">N.S.</text>
<text x="746.00" y="351.25" font-size="8.7" text-anchor="middle" fill="#222" font-style="italic" transform="matrix(1 0 0 1.05 0 -17.563)">P=0.2210</text>
<line x1="735.00" y1="337.50" x2="776.75" y2="337.50" stroke="#000" stroke-width="2"/>
<text x="755.75" y="334.50" font-size="8.8" text-anchor="middle" transform="matrix(1 0 0 1.05 0 -16.725)">N.S.</text>
<text x="755.75" y="325.00" font-size="8.7" text-anchor="middle" fill="#222" font-style="italic" transform="matrix(1 0 0 1.05 0 -16.250)">P=0.2984</text>
<line x1="811.25" y1="366.25" x2="831.25" y2="366.25" stroke="#000" stroke-width="2"/>
<text x="820.50" y="363.00" font-size="8.8" text-anchor="middle" transform="matrix(1 0 0 1.05 0 -18.150)">N.S.</text>
<text x="820.50" y="353.75" font-size="8.7" text-anchor="middle" fill="#222" font-style="italic" transform="matrix(1 0 0 1.05 0 -17.688)">P=0.4127</text>
<line x1="811.25" y1="339.25" x2="853.00" y2="339.25" stroke="#000" stroke-width="2"/>
<text x="829.50" y="336.25" font-size="8.8" text-anchor="middle" transform="matrix(1 0 0 1.05 0 -16.813)">N.S.</text>
<text x="829.50" y="326.25" font-size="8.7" text-anchor="middle" fill="#222" font-style="italic" transform="matrix(1 0 0 1.05 0 -16.313)">P=0.9592</text>
<line x1="886.75" y1="367.00" x2="906.75" y2="367.00" stroke="#000" stroke-width="2"/>
<text x="897.50" y="363.75" font-size="8.8" text-anchor="middle" transform="matrix(1 0 0 1.05 0 -18.188)">N.S.</text>
<text x="897.50" y="354.25" font-size="8.7" text-anchor="middle" fill="#222" font-style="italic" transform="matrix(1 0 0 1.05 0 -17.713)">P=0.1800</text>
<line x1="886.75" y1="339.25" x2="928.25" y2="339.25" stroke="#000" stroke-width="2"/>
<text x="907.00" y="336.25" font-size="8.8" text-anchor="middle" transform="matrix(1 0 0 1.05 0 -16.813)">N.S.</text>
<text x="907.00" y="327.00" font-size="8.7" text-anchor="middle" fill="#222" font-style="italic" transform="matrix(1 0 0 1.05 0 -16.350)">P=0.6109</text>
<text x="507.90" y="259.30" font-size="21" font-weight="bold" transform="matrix(1 0 0 1.05 0 -12.965)">c</text>
<text x="579.50" y="272.50" font-size="17.5" font-weight="bold" textLength="43.50" lengthAdjust="spacingAndGlyphs" transform="matrix(1 0 0 1.05 0 -13.625)">T47D</text>
<rect x="783.60" y="256.10" width="31.55" height="14.80" fill="#c0c0c0" stroke="#000" stroke-width="2.2" rx="1"/>
<rect x="783.60" y="274.10" width="31.55" height="15.80" fill="#fff" stroke="#000" stroke-width="2.2" rx="1"/>
<rect x="783.60" y="293.10" width="31.55" height="15.30" fill="#000" stroke="#000" stroke-width="2.2" rx="1"/>
<text x="820.50" y="268.75" font-size="15.1" transform="matrix(1 0 0 1.05 0 -13.438)">si Ctrl</text>
<text x="820.50" y="287.00" font-size="15.1" transform="matrix(1 0 0 1.05 0 -14.350)">SERPINA3 si #1</text>
<text x="820.50" y="305.00" font-size="15.1" transform="matrix(1 0 0 1.05 0 -15.250)">SERPINA3 si #2</text>
<rect x="67.80" y="587.40" width="15.10" height="93.10" fill="#777777" stroke="#000" stroke-width="1.8"/>
<line x1="75.35" y1="591.20" x2="75.35" y2="581.80" stroke="#000" stroke-width="1.6"/>
<line x1="71.35" y1="581.80" x2="79.35" y2="581.80" stroke="#000" stroke-width="1.6"/>
<line x1="71.35" y1="591.20" x2="79.35" y2="591.20" stroke="#000" stroke-width="1.6"/>
<path d="M71.35 578.40L74.75 581.80L71.35 585.20L67.95 581.80Z" fill="#000"/>
<path d="M75.35 589.68L78.75 593.08L75.35 596.48L71.95 593.08Z" fill="#000"/>
<path d="M79.35 583.10L82.75 586.50L79.35 589.90L75.95 586.50Z" fill="#000"/>
<rect x="91.70" y="588.81" width="15.10" height="91.69" fill="#fff" stroke="#000" stroke-width="1.8"/>
<line x1="99.25" y1="591.67" x2="99.25" y2="584.15" stroke="#000" stroke-width="1.6"/>
<line x1="95.25" y1="584.15" x2="103.25" y2="584.15" stroke="#000" stroke-width="1.6"/>
<line x1="95.25" y1="591.67" x2="103.25" y2="591.67" stroke="#000" stroke-width="1.6"/>
<path d="M95.25 589.21L98.65 592.61L95.25 596.01L91.85 592.61Z" fill="#000"/>
<path d="M99.25 581.69L102.65 585.09L99.25 588.49L95.85 585.09Z" fill="#000"/>
<path d="M103.25 586.39L106.65 589.79L103.25 593.19L99.85 589.79Z" fill="#000"/>
<rect x="115.70" y="583.64" width="15.10" height="96.86" fill="#000" stroke="#000" stroke-width="1.8"/>
<line x1="123.25" y1="586.50" x2="123.25" y2="578.98" stroke="#000" stroke-width="1.6"/>
<line x1="119.25" y1="578.98" x2="127.25" y2="578.98" stroke="#000" stroke-width="1.6"/>
<line x1="119.25" y1="586.50" x2="127.25" y2="586.50" stroke="#000" stroke-width="1.6"/>
<path d="M119.25 579.34L122.65 582.74L119.25 586.14L115.85 582.74Z" fill="#bdbdbd"/>
<path d="M123.25 584.98L126.65 588.38L123.25 591.78L119.85 588.38Z" fill="#bdbdbd"/>
<path d="M127.25 574.64L130.65 578.04L127.25 581.44L123.85 578.04Z" fill="#bdbdbd"/>
<rect x="139.60" y="589.75" width="15.10" height="90.75" fill="#c0c0c0" stroke="#000" stroke-width="1.8"/>
<line x1="147.15" y1="593.55" x2="147.15" y2="584.15" stroke="#000" stroke-width="1.6"/>
<line x1="143.15" y1="584.15" x2="151.15" y2="584.15" stroke="#000" stroke-width="1.6"/>
<line x1="143.15" y1="593.55" x2="151.15" y2="593.55" stroke="#000" stroke-width="1.6"/>
<path d="M143.15 592.03L146.55 595.43L143.15 598.83L139.75 595.43Z" fill="#000"/>
<path d="M147.15 585.45L150.55 588.85L147.15 592.25L143.75 588.85Z" fill="#000"/>
<path d="M151.15 592.03L154.55 595.43L151.15 598.83L147.75 595.43Z" fill="#000"/>
<rect x="188.05" y="623.87" width="15.10" height="56.63" fill="#777777" stroke="#000" stroke-width="1.8"/>
<line x1="195.60" y1="623.91" x2="195.60" y2="622.03" stroke="#000" stroke-width="1.6"/>
<line x1="191.60" y1="622.03" x2="199.60" y2="622.03" stroke="#000" stroke-width="1.6"/>
<line x1="191.60" y1="623.91" x2="199.60" y2="623.91" stroke="#000" stroke-width="1.6"/>
<path d="M191.60 619.57L195.00 622.97L191.60 626.37L188.20 622.97Z" fill="#000"/>
<path d="M195.60 619.57L199.00 622.97L195.60 626.37L192.20 622.97Z" fill="#000"/>
<path d="M199.60 619.57L203.00 622.97L199.60 626.37L196.20 622.97Z" fill="#000"/>
<rect x="211.95" y="649.44" width="15.10" height="31.06" fill="#fff" stroke="#000" stroke-width="1.8"/>
<line x1="219.50" y1="652.30" x2="219.50" y2="644.78" stroke="#000" stroke-width="1.6"/>
<line x1="215.50" y1="644.78" x2="223.50" y2="644.78" stroke="#000" stroke-width="1.6"/>
<line x1="215.50" y1="652.30" x2="223.50" y2="652.30" stroke="#000" stroke-width="1.6"/>
<path d="M219.50 642.32L222.90 645.72L219.50 649.12L216.10 645.72Z" fill="#000"/>
<path d="M215.50 645.14L218.90 648.54L215.50 651.94L212.10 648.54Z" fill="#000"/>
<path d="M219.50 648.90L222.90 652.30L219.50 655.70L216.10 652.30Z" fill="#000"/>
<rect x="235.95" y="620.77" width="15.10" height="59.73" fill="#000" stroke="#000" stroke-width="1.8"/>
<line x1="243.50" y1="621.75" x2="243.50" y2="617.99" stroke="#000" stroke-width="1.6"/>
<line x1="239.50" y1="617.99" x2="247.50" y2="617.99" stroke="#000" stroke-width="1.6"/>
<line x1="239.50" y1="621.75" x2="247.50" y2="621.75" stroke="#000" stroke-width="1.6"/>
<path d="M239.50 614.59L242.90 617.99L239.50 621.39L236.10 617.99Z" fill="#bdbdbd"/>
<path d="M243.50 620.23L246.90 623.63L243.50 627.03L240.10 623.63Z" fill="#bdbdbd"/>
<path d="M247.50 614.59L250.90 617.99L247.50 621.39L244.10 617.99Z" fill="#bdbdbd"/>
<rect x="259.85" y="649.63" width="15.10" height="30.87" fill="#c0c0c0" stroke="#000" stroke-width="1.8"/>
<line x1="267.40" y1="649.67" x2="267.40" y2="647.79" stroke="#000" stroke-width="1.6"/>
<line x1="263.40" y1="647.79" x2="271.40" y2="647.79" stroke="#000" stroke-width="1.6"/>
<line x1="263.40" y1="649.67" x2="271.40" y2="649.67" stroke="#000" stroke-width="1.6"/>
<path d="M263.40 645.33L266.80 648.73L263.40 652.13L260.00 648.73Z" fill="#000"/>
<path d="M267.40 649.09L270.80 652.49L267.40 655.89L264.00 652.49Z" fill="#000"/>
<path d="M271.40 645.33L274.80 648.73L271.40 652.13L268.00 648.73Z" fill="#000"/>
<rect x="308.30" y="588.81" width="15.10" height="91.69" fill="#777777" stroke="#000" stroke-width="1.8"/>
<line x1="315.85" y1="590.73" x2="315.85" y2="585.09" stroke="#000" stroke-width="1.6"/>
<line x1="311.85" y1="585.09" x2="319.85" y2="585.09" stroke="#000" stroke-width="1.6"/>
<line x1="311.85" y1="590.73" x2="319.85" y2="590.73" stroke="#000" stroke-width="1.6"/>
<path d="M311.85 584.51L315.25 587.91L311.85 591.31L308.45 587.91Z" fill="#000"/>
<path d="M315.85 581.69L319.25 585.09L315.85 588.49L312.45 585.09Z" fill="#000"/>
<path d="M319.85 584.51L323.25 587.91L319.85 591.31L316.45 587.91Z" fill="#000"/>
<rect x="332.20" y="595.86" width="15.10" height="84.64" fill="#fff" stroke="#000" stroke-width="1.8"/>
<line x1="339.75" y1="598.72" x2="339.75" y2="591.20" stroke="#000" stroke-width="1.6"/>
<line x1="335.75" y1="591.20" x2="343.75" y2="591.20" stroke="#000" stroke-width="1.6"/>
<line x1="335.75" y1="598.72" x2="343.75" y2="598.72" stroke="#000" stroke-width="1.6"/>
<path d="M339.75 587.80L343.15 591.20L339.75 594.60L336.35 591.20Z" fill="#000"/>
<path d="M335.75 591.56L339.15 594.96L335.75 598.36L332.35 594.96Z" fill="#000"/>
<path d="M339.75 595.32L343.15 598.72L339.75 602.12L336.35 598.72Z" fill="#000"/>
<rect x="356.20" y="595.86" width="15.10" height="84.64" fill="#000" stroke="#000" stroke-width="1.8"/>
<line x1="363.75" y1="595.90" x2="363.75" y2="594.02" stroke="#000" stroke-width="1.6"/>
<line x1="359.75" y1="594.02" x2="367.75" y2="594.02" stroke="#000" stroke-width="1.6"/>
<line x1="359.75" y1="595.90" x2="367.75" y2="595.90" stroke="#000" stroke-width="1.6"/>
<path d="M359.75 591.56L363.15 594.96L359.75 598.36L356.35 594.96Z" fill="#bdbdbd"/>
<path d="M363.75 592.50L367.15 595.90L363.75 599.30L360.35 595.90Z" fill="#bdbdbd"/>
<path d="M367.75 589.68L371.15 593.08L367.75 596.48L364.35 593.08Z" fill="#bdbdbd"/>
<rect x="380.10" y="592.10" width="15.10" height="88.40" fill="#c0c0c0" stroke="#000" stroke-width="1.8"/>
<line x1="387.65" y1="594.96" x2="387.65" y2="587.44" stroke="#000" stroke-width="1.6"/>
<line x1="383.65" y1="587.44" x2="391.65" y2="587.44" stroke="#000" stroke-width="1.6"/>
<line x1="383.65" y1="594.96" x2="391.65" y2="594.96" stroke="#000" stroke-width="1.6"/>
<path d="M387.65 584.04L391.05 587.44L387.65 590.84L384.25 587.44Z" fill="#000"/>
<path d="M387.65 589.68L391.05 593.08L387.65 596.48L384.25 593.08Z" fill="#000"/>
<path d="M391.65 587.80L395.05 591.20L391.65 594.60L388.25 591.20Z" fill="#000"/>
<line x1="51.25" y1="548.00" x2="51.25" y2="681.50" stroke="#000" stroke-width="2"/>
<line x1="50.25" y1="680.50" x2="411.25" y2="680.50" stroke="#000" stroke-width="2"/>
<line x1="47.25" y1="680.50" x2="51.25" y2="680.50" stroke="#000" stroke-width="1.5"/>
<text x="46.25" y="685.76" font-size="15.3" text-anchor="end" transform="matrix(1 0 0 1.05 0 -34.288)">0.0</text>
<line x1="48.75" y1="671.10" x2="51.25" y2="671.10" stroke="#000" stroke-width="1.2"/>
<line x1="47.25" y1="661.70" x2="51.25" y2="661.70" stroke="#000" stroke-width="1.5"/>
<text x="46.25" y="666.96" font-size="15.3" text-anchor="end" transform="matrix(1 0 0 1.05 0 -33.348)">0.2</text>
<line x1="48.75" y1="652.30" x2="51.25" y2="652.30" stroke="#000" stroke-width="1.2"/>
<line x1="47.25" y1="642.90" x2="51.25" y2="642.90" stroke="#000" stroke-width="1.5"/>
<text x="46.25" y="648.16" font-size="15.3" text-anchor="end" transform="matrix(1 0 0 1.05 0 -32.408)">0.4</text>
<line x1="48.75" y1="633.50" x2="51.25" y2="633.50" stroke="#000" stroke-width="1.2"/>
<line x1="47.25" y1="624.10" x2="51.25" y2="624.10" stroke="#000" stroke-width="1.5"/>
<text x="46.25" y="629.36" font-size="15.3" text-anchor="end" transform="matrix(1 0 0 1.05 0 -31.468)">0.6</text>
<line x1="48.75" y1="614.70" x2="51.25" y2="614.70" stroke="#000" stroke-width="1.2"/>
<line x1="47.25" y1="605.30" x2="51.25" y2="605.30" stroke="#000" stroke-width="1.5"/>
<text x="46.25" y="610.56" font-size="15.3" text-anchor="end" transform="matrix(1 0 0 1.05 0 -30.528)">0.8</text>
<line x1="48.75" y1="595.90" x2="51.25" y2="595.90" stroke="#000" stroke-width="1.2"/>
<line x1="47.25" y1="586.50" x2="51.25" y2="586.50" stroke="#000" stroke-width="1.5"/>
<text x="46.25" y="591.76" font-size="15.3" text-anchor="end" transform="matrix(1 0 0 1.05 0 -29.588)">1.0</text>
<line x1="48.75" y1="577.10" x2="51.25" y2="577.10" stroke="#000" stroke-width="1.2"/>
<line x1="47.25" y1="567.70" x2="51.25" y2="567.70" stroke="#000" stroke-width="1.5"/>
<text x="46.25" y="572.96" font-size="15.3" text-anchor="end" transform="matrix(1 0 0 1.05 0 -28.648)">1.2</text>
<line x1="48.75" y1="558.30" x2="51.25" y2="558.30" stroke="#000" stroke-width="1.2"/>
<line x1="47.25" y1="548.90" x2="51.25" y2="548.90" stroke="#000" stroke-width="1.5"/>
<text x="46.25" y="554.16" font-size="15.3" text-anchor="end" transform="matrix(1 0 0 1.05 0 -27.708)">1.4</text>
<line x1="48.75" y1="539.50" x2="51.25" y2="539.50" stroke="#000" stroke-width="1.2"/>
<line x1="111.25" y1="680.50" x2="111.25" y2="684.50" stroke="#000" stroke-width="1.5"/>
<text x="111.25" y="703.40" font-size="15.5" text-anchor="middle" transform="matrix(1 0 0 1.05 0 -35.170)">Ctrl</text>
<line x1="231.50" y1="680.50" x2="231.50" y2="684.50" stroke="#000" stroke-width="1.5"/>
<text x="231.50" y="703.40" font-size="15.5" text-anchor="middle" transform="matrix(1 0 0 1.05 0 -35.170)">ANKRD11</text>
<line x1="351.75" y1="680.50" x2="351.75" y2="684.50" stroke="#000" stroke-width="1.5"/>
<text x="351.75" y="703.40" font-size="15.5" text-anchor="middle" transform="matrix(1 0 0 1.05 0 -35.170)">DYSF</text>
<text x="18.10" y="614.85" font-size="15.8" text-anchor="middle" textLength="114.50" lengthAdjust="spacingAndGlyphs" transform="rotate(-90 18.10 614.85) matrix(1 0 0 1.05 0 -30.743)">Cell proliferation</text>
<path d="M75.50 577.50V570.50H99.50V577.50" fill="none" stroke="#000" stroke-width="1.5"/>
<text x="87.50" y="568.00" font-size="11" text-anchor="middle" transform="matrix(1 0 0 1.05 0 -28.400)">N.S.</text>
<text x="87.50" y="557.50" font-size="8.4" text-anchor="middle" fill="#222" font-style="italic" transform="matrix(1 0 0 1.05 0 -27.875)">P=0.7135</text>
<path d="M123.00 574.00V567.50H147.50V576.00" fill="none" stroke="#000" stroke-width="1.5"/>
<text x="135.25" y="565.00" font-size="11" text-anchor="middle" transform="matrix(1 0 0 1.05 0 -28.250)">N.S.</text>
<text x="135.25" y="554.50" font-size="8.4" text-anchor="middle" fill="#222" font-style="italic" transform="matrix(1 0 0 1.05 0 -27.725)">P=0.3060</text>
<path d="M195.00 617.00V610.50H220.00V640.00" fill="none" stroke="#000" stroke-width="1.5"/>
<text x="208.00" y="616.72" font-size="18.8" text-anchor="middle" transform="matrix(1 0 0 1.05 0 -30.836)" letter-spacing="1.0">**</text>
<text x="207.50" y="599.50" font-size="8.4" text-anchor="middle" fill="#222" font-style="italic" transform="matrix(1 0 0 1.05 0 -29.975)">P=0.0011</text>
<path d="M243.25 615.00V608.25H267.50V640.00" fill="none" stroke="#000" stroke-width="1.5"/>
<text x="255.88" y="614.47" font-size="18.8" text-anchor="middle" transform="matrix(1 0 0 1.05 0 -30.723)" letter-spacing="1.0">**</text>
<text x="255.38" y="597.50" font-size="8.4" text-anchor="middle" fill="#222" font-style="italic" transform="matrix(1 0 0 1.05 0 -29.875)">P=0.0017</text>
<path d="M315.50 581.25V572.50H340.50V586.25" fill="none" stroke="#000" stroke-width="1.5"/>
<text x="328.00" y="570.50" font-size="11" text-anchor="middle" transform="matrix(1 0 0 1.05 0 -28.525)">N.S.</text>
<text x="328.00" y="559.50" font-size="8.4" text-anchor="middle" fill="#222" font-style="italic" transform="matrix(1 0 0 1.05 0 -27.975)">P=0.1236</text>
<path d="M363.00 584.50V578.25H387.50V583.00" fill="none" stroke="#000" stroke-width="1.5"/>
<text x="375.25" y="576.25" font-size="11" text-anchor="middle" transform="matrix(1 0 0 1.05 0 -28.813)">N.S.</text>
<text x="375.25" y="564.50" font-size="8.4" text-anchor="middle" fill="#222" font-style="italic" transform="matrix(1 0 0 1.05 0 -28.225)">P=0.2457</text>
<text x="1.10" y="507.00" font-size="21" font-weight="bold" transform="matrix(1 0 0 1.05 0 -25.350)">d</text>
<text x="53.75" y="523.75" font-size="17" font-weight="bold" textLength="100.00" lengthAdjust="spacingAndGlyphs" transform="matrix(1 0 0 1.05 0 -26.188)">MCF-7 LTED</text>
<rect x="176.10" y="511.10" width="30.30" height="14.30" fill="#777777" stroke="#000" stroke-width="2.2"/>
<rect x="176.10" y="528.60" width="30.30" height="14.30" fill="#fff" stroke="#000" stroke-width="2.2"/>
<rect x="176.10" y="546.10" width="30.30" height="14.80" fill="#000" stroke="#000" stroke-width="2.2"/>
<rect x="176.10" y="564.10" width="30.30" height="14.80" fill="#c0c0c0" stroke="#000" stroke-width="2.2"/>
<text x="210.50" y="522.60" font-size="14" transform="matrix(1 0 0 1.05 0 -26.130)">si #1</text>
<line x1="247.10" y1="517.70" x2="257.50" y2="517.70" stroke="#444" stroke-width="1.2"/>
<line x1="252.30" y1="512.50" x2="252.30" y2="522.90" stroke="#444" stroke-width="1.2"/>
<text x="262.70" y="522.60" font-size="14" transform="matrix(1 0 0 1.05 0 -26.130)">E2</text>
<text x="210.50" y="540.20" font-size="14" transform="matrix(1 0 0 1.05 0 -27.010)">si #1</text>
<line x1="247.10" y1="535.30" x2="257.50" y2="535.30" stroke="#444" stroke-width="1.2"/>
<text x="262.70" y="540.20" font-size="14" transform="matrix(1 0 0 1.05 0 -27.010)">E2</text>
<text x="210.50" y="557.80" font-size="14" transform="matrix(1 0 0 1.05 0 -27.890)">si #2</text>
<line x1="247.10" y1="552.90" x2="257.50" y2="552.90" stroke="#444" stroke-width="1.2"/>
<line x1="252.30" y1="547.70" x2="252.30" y2="558.10" stroke="#444" stroke-width="1.2"/>
<text x="262.70" y="557.80" font-size="14" transform="matrix(1 0 0 1.05 0 -27.890)">E2</text>
<text x="210.50" y="575.40" font-size="14" transform="matrix(1 0 0 1.05 0 -28.770)">si #2</text>
<line x1="247.10" y1="570.50" x2="257.50" y2="570.50" stroke="#444" stroke-width="1.2"/>
<text x="262.70" y="575.40" font-size="14" transform="matrix(1 0 0 1.05 0 -28.770)">E2</text>
<rect x="570.55" y="582.18" width="15.60" height="99.07" fill="#777777" stroke="#000" stroke-width="1.8"/>
<line x1="578.35" y1="586.14" x2="578.35" y2="576.41" stroke="#000" stroke-width="1.6"/>
<line x1="574.35" y1="576.41" x2="582.35" y2="576.41" stroke="#000" stroke-width="1.6"/>
<line x1="574.35" y1="586.14" x2="582.35" y2="586.14" stroke="#000" stroke-width="1.6"/>
<path d="M574.35 573.01L577.75 576.41L574.35 579.81L570.95 576.41Z" fill="#000"/>
<path d="M578.35 582.74L581.75 586.14L578.35 589.54L574.95 586.14Z" fill="#000"/>
<path d="M582.35 573.99L585.75 577.39L582.35 580.79L578.95 577.39Z" fill="#000"/>
<rect x="595.85" y="581.40" width="15.60" height="99.85" fill="#fff" stroke="#000" stroke-width="1.8"/>
<line x1="603.65" y1="590.22" x2="603.65" y2="570.77" stroke="#000" stroke-width="1.6"/>
<line x1="599.65" y1="570.77" x2="607.65" y2="570.77" stroke="#000" stroke-width="1.6"/>
<line x1="599.65" y1="590.22" x2="607.65" y2="590.22" stroke="#000" stroke-width="1.6"/>
<path d="M599.65 584.88L603.05 588.28L599.65 591.68L596.25 588.28Z" fill="#000"/>
<path d="M607.65 580.99L611.05 584.39L607.65 587.79L604.25 584.39Z" fill="#000"/>
<path d="M603.65 565.43L607.05 568.83L603.65 572.23L600.25 568.83Z" fill="#000"/>
<rect x="621.05" y="581.69" width="15.60" height="99.56" fill="#000" stroke="#000" stroke-width="1.8"/>
<line x1="628.85" y1="583.71" x2="628.85" y2="577.87" stroke="#000" stroke-width="1.6"/>
<line x1="624.85" y1="577.87" x2="632.85" y2="577.87" stroke="#000" stroke-width="1.6"/>
<line x1="624.85" y1="583.71" x2="632.85" y2="583.71" stroke="#000" stroke-width="1.6"/>
<path d="M624.85 575.45L628.25 578.85L624.85 582.25L621.45 578.85Z" fill="#bdbdbd"/>
<path d="M628.85 584.20L632.25 587.60L628.85 591.00L625.45 587.60Z" fill="#bdbdbd"/>
<path d="M632.85 574.47L636.25 577.87L632.85 581.27L629.45 577.87Z" fill="#bdbdbd"/>
<rect x="646.35" y="585.19" width="15.60" height="96.06" fill="#c0c0c0" stroke="#000" stroke-width="1.8"/>
<line x1="654.15" y1="587.21" x2="654.15" y2="581.37" stroke="#000" stroke-width="1.6"/>
<line x1="650.15" y1="581.37" x2="658.15" y2="581.37" stroke="#000" stroke-width="1.6"/>
<line x1="650.15" y1="587.21" x2="658.15" y2="587.21" stroke="#000" stroke-width="1.6"/>
<path d="M650.15 580.89L653.55 584.29L650.15 587.69L646.75 584.29Z" fill="#000"/>
<path d="M654.15 578.95L657.55 582.35L654.15 585.75L650.75 582.35Z" fill="#000"/>
<path d="M658.15 580.89L661.55 584.29L658.15 587.69L654.75 584.29Z" fill="#000"/>
<rect x="696.80" y="620.88" width="15.60" height="60.37" fill="#777777" stroke="#000" stroke-width="1.8"/>
<line x1="704.60" y1="621.93" x2="704.60" y2="618.04" stroke="#000" stroke-width="1.6"/>
<line x1="700.60" y1="618.04" x2="708.60" y2="618.04" stroke="#000" stroke-width="1.6"/>
<line x1="700.60" y1="621.93" x2="708.60" y2="621.93" stroke="#000" stroke-width="1.6"/>
<path d="M700.60 616.58L704.00 619.98L700.60 623.38L697.20 619.98Z" fill="#000"/>
<path d="M704.60 620.47L708.00 623.87L704.60 627.27L701.20 623.87Z" fill="#000"/>
<path d="M708.60 616.58L712.00 619.98L708.60 623.38L705.20 619.98Z" fill="#000"/>
<rect x="722.10" y="643.25" width="15.60" height="38.00" fill="#fff" stroke="#000" stroke-width="1.8"/>
<line x1="729.90" y1="643.32" x2="729.90" y2="641.38" stroke="#000" stroke-width="1.6"/>
<line x1="725.90" y1="641.38" x2="733.90" y2="641.38" stroke="#000" stroke-width="1.6"/>
<line x1="725.90" y1="643.32" x2="733.90" y2="643.32" stroke="#000" stroke-width="1.6"/>
<path d="M725.90 638.95L729.30 642.35L725.90 645.75L722.50 642.35Z" fill="#000"/>
<path d="M729.90 638.95L733.30 642.35L729.90 645.75L726.50 642.35Z" fill="#000"/>
<path d="M733.90 638.95L737.30 642.35L733.90 645.75L730.50 642.35Z" fill="#000"/>
<rect x="747.30" y="622.15" width="15.60" height="59.10" fill="#000" stroke="#000" stroke-width="1.8"/>
<line x1="755.10" y1="626.11" x2="755.10" y2="616.38" stroke="#000" stroke-width="1.6"/>
<line x1="751.10" y1="616.38" x2="759.10" y2="616.38" stroke="#000" stroke-width="1.6"/>
<line x1="751.10" y1="626.11" x2="759.10" y2="626.11" stroke="#000" stroke-width="1.6"/>
<path d="M751.10 615.90L754.50 619.30L751.10 622.70L747.70 619.30Z" fill="#bdbdbd"/>
<path d="M755.10 622.71L758.50 626.11L755.10 629.51L751.70 626.11Z" fill="#bdbdbd"/>
<path d="M759.10 612.98L762.50 616.38L759.10 619.78L755.70 616.38Z" fill="#bdbdbd"/>
<rect x="772.60" y="643.25" width="15.60" height="38.00" fill="#c0c0c0" stroke="#000" stroke-width="1.8"/>
<line x1="780.40" y1="647.21" x2="780.40" y2="637.49" stroke="#000" stroke-width="1.6"/>
<line x1="776.40" y1="637.49" x2="784.40" y2="637.49" stroke="#000" stroke-width="1.6"/>
<line x1="776.40" y1="647.21" x2="784.40" y2="647.21" stroke="#000" stroke-width="1.6"/>
<path d="M776.40 643.81L779.80 647.21L776.40 650.61L773.00 647.21Z" fill="#000"/>
<path d="M780.40 636.03L783.80 639.43L780.40 642.83L777.00 639.43Z" fill="#000"/>
<path d="M784.40 643.81L787.80 647.21L784.40 650.61L781.00 647.21Z" fill="#000"/>
<rect x="823.05" y="593.94" width="15.60" height="87.31" fill="#777777" stroke="#000" stroke-width="1.8"/>
<line x1="830.85" y1="594.99" x2="830.85" y2="591.10" stroke="#000" stroke-width="1.6"/>
<line x1="826.85" y1="591.10" x2="834.85" y2="591.10" stroke="#000" stroke-width="1.6"/>
<line x1="826.85" y1="594.99" x2="834.85" y2="594.99" stroke="#000" stroke-width="1.6"/>
<path d="M826.85 589.64L830.25 593.04L826.85 596.44L823.45 593.04Z" fill="#000"/>
<path d="M830.85 589.64L834.25 593.04L830.85 596.44L827.45 593.04Z" fill="#000"/>
<path d="M834.85 589.64L838.25 593.04L834.85 596.44L831.45 593.04Z" fill="#000"/>
<rect x="848.35" y="598.90" width="15.60" height="82.35" fill="#fff" stroke="#000" stroke-width="1.8"/>
<line x1="856.15" y1="602.87" x2="856.15" y2="593.14" stroke="#000" stroke-width="1.6"/>
<line x1="852.15" y1="593.14" x2="860.15" y2="593.14" stroke="#000" stroke-width="1.6"/>
<line x1="852.15" y1="602.87" x2="860.15" y2="602.87" stroke="#000" stroke-width="1.6"/>
<path d="M856.15 589.74L859.55 593.14L856.15 596.54L852.75 593.14Z" fill="#000"/>
<path d="M852.15 596.55L855.55 599.95L852.15 603.35L848.75 599.95Z" fill="#000"/>
<path d="M860.15 596.55L863.55 599.95L860.15 603.35L856.75 599.95Z" fill="#000"/>
<rect x="873.55" y="591.71" width="15.60" height="89.54" fill="#000" stroke="#000" stroke-width="1.8"/>
<line x1="881.35" y1="594.70" x2="881.35" y2="586.92" stroke="#000" stroke-width="1.6"/>
<line x1="877.35" y1="586.92" x2="885.35" y2="586.92" stroke="#000" stroke-width="1.6"/>
<line x1="877.35" y1="594.70" x2="885.35" y2="594.70" stroke="#000" stroke-width="1.6"/>
<path d="M877.35 585.46L880.75 588.86L877.35 592.26L873.95 588.86Z" fill="#bdbdbd"/>
<path d="M881.35 593.24L884.75 596.64L881.35 600.04L877.95 596.64Z" fill="#bdbdbd"/>
<path d="M885.35 585.46L888.75 588.86L885.35 592.26L881.95 588.86Z" fill="#bdbdbd"/>
<rect x="898.85" y="603.38" width="15.60" height="77.87" fill="#c0c0c0" stroke="#000" stroke-width="1.8"/>
<line x1="906.65" y1="607.34" x2="906.65" y2="597.62" stroke="#000" stroke-width="1.6"/>
<line x1="902.65" y1="597.62" x2="910.65" y2="597.62" stroke="#000" stroke-width="1.6"/>
<line x1="902.65" y1="607.34" x2="910.65" y2="607.34" stroke="#000" stroke-width="1.6"/>
<path d="M906.65 593.24L910.05 596.64L906.65 600.04L903.25 596.64Z" fill="#000"/>
<path d="M902.65 601.02L906.05 604.42L902.65 607.82L899.25 604.42Z" fill="#000"/>
<path d="M910.65 601.02L914.05 604.42L910.65 607.82L907.25 604.42Z" fill="#000"/>
<line x1="553.25" y1="548.00" x2="553.25" y2="682.25" stroke="#000" stroke-width="2"/>
<line x1="552.25" y1="681.25" x2="932.00" y2="681.25" stroke="#000" stroke-width="2"/>
<line x1="549.25" y1="681.25" x2="553.25" y2="681.25" stroke="#000" stroke-width="1.5"/>
<text x="548.25" y="686.86" font-size="16.3" text-anchor="end" transform="matrix(1 0 0 1.05 0 -34.343)">0.0</text>
<line x1="550.75" y1="671.52" x2="553.25" y2="671.52" stroke="#000" stroke-width="1.2"/>
<line x1="549.25" y1="661.80" x2="553.25" y2="661.80" stroke="#000" stroke-width="1.5"/>
<text x="548.25" y="667.41" font-size="16.3" text-anchor="end" transform="matrix(1 0 0 1.05 0 -33.370)">0.2</text>
<line x1="550.75" y1="652.08" x2="553.25" y2="652.08" stroke="#000" stroke-width="1.2"/>
<line x1="549.25" y1="642.35" x2="553.25" y2="642.35" stroke="#000" stroke-width="1.5"/>
<text x="548.25" y="647.96" font-size="16.3" text-anchor="end" transform="matrix(1 0 0 1.05 0 -32.398)">0.4</text>
<line x1="550.75" y1="632.62" x2="553.25" y2="632.62" stroke="#000" stroke-width="1.2"/>
<line x1="549.25" y1="622.90" x2="553.25" y2="622.90" stroke="#000" stroke-width="1.5"/>
<text x="548.25" y="628.51" font-size="16.3" text-anchor="end" transform="matrix(1 0 0 1.05 0 -31.425)">0.6</text>
<line x1="550.75" y1="613.17" x2="553.25" y2="613.17" stroke="#000" stroke-width="1.2"/>
<line x1="549.25" y1="603.45" x2="553.25" y2="603.45" stroke="#000" stroke-width="1.5"/>
<text x="548.25" y="609.06" font-size="16.3" text-anchor="end" transform="matrix(1 0 0 1.05 0 -30.453)">0.8</text>
<line x1="550.75" y1="593.73" x2="553.25" y2="593.73" stroke="#000" stroke-width="1.2"/>
<line x1="549.25" y1="584.00" x2="553.25" y2="584.00" stroke="#000" stroke-width="1.5"/>
<text x="548.25" y="589.61" font-size="16.3" text-anchor="end" transform="matrix(1 0 0 1.05 0 -29.480)">1.0</text>
<line x1="550.75" y1="574.27" x2="553.25" y2="574.27" stroke="#000" stroke-width="1.2"/>
<line x1="549.25" y1="564.55" x2="553.25" y2="564.55" stroke="#000" stroke-width="1.5"/>
<text x="548.25" y="570.16" font-size="16.3" text-anchor="end" transform="matrix(1 0 0 1.05 0 -28.508)">1.2</text>
<line x1="550.75" y1="554.83" x2="553.25" y2="554.83" stroke="#000" stroke-width="1.2"/>
<line x1="616.25" y1="681.25" x2="616.25" y2="685.25" stroke="#000" stroke-width="1.5"/>
<text x="616.25" y="704.60" font-size="15.5" text-anchor="middle" transform="matrix(1 0 0 1.05 0 -35.230)">Ctrl</text>
<line x1="742.50" y1="681.25" x2="742.50" y2="685.25" stroke="#000" stroke-width="1.5"/>
<text x="742.50" y="704.60" font-size="15.5" text-anchor="middle" transform="matrix(1 0 0 1.05 0 -35.230)">ANKRD11</text>
<line x1="868.75" y1="681.25" x2="868.75" y2="685.25" stroke="#000" stroke-width="1.5"/>
<text x="868.75" y="704.60" font-size="15.5" text-anchor="middle" transform="matrix(1 0 0 1.05 0 -35.230)">DYSF</text>
<text x="519.00" y="614.55" font-size="15.8" text-anchor="middle" textLength="117.00" lengthAdjust="spacingAndGlyphs" transform="rotate(-90 519.00 614.55) matrix(1 0 0 1.05 0 -30.728)">Cell proliferation</text>
<path d="M578.75 577.50V558.75H604.50V566.25" fill="none" stroke="#000" stroke-width="1.5"/>
<text x="591.62" y="556.25" font-size="11" text-anchor="middle" transform="matrix(1 0 0 1.05 0 -27.813)">N.S.</text>
<text x="591.62" y="543.75" font-size="9.7" text-anchor="middle" fill="#222" font-style="italic" transform="matrix(1 0 0 1.05 0 -27.188)">P=0.9218</text>
<path d="M629.25 575.00V568.00H654.25V575.00" fill="none" stroke="#000" stroke-width="1.5"/>
<text x="641.75" y="566.25" font-size="11" text-anchor="middle" transform="matrix(1 0 0 1.05 0 -28.313)">N.S.</text>
<text x="641.75" y="553.75" font-size="9.7" text-anchor="middle" fill="#222" font-style="italic" transform="matrix(1 0 0 1.05 0 -27.688)">P=0.7935</text>
<path d="M704.50 615.00V607.00H730.75V640.00" fill="none" stroke="#000" stroke-width="1.5"/>
<text x="718.12" y="613.36" font-size="19.2" text-anchor="middle" transform="matrix(1 0 0 1.05 0 -30.668)" letter-spacing="1.0">***</text>
<text x="717.62" y="597.00" font-size="9.7" text-anchor="middle" fill="#222" font-style="italic" transform="matrix(1 0 0 1.05 0 -29.850)">P=0.0007</text>
<path d="M755.00 616.00V602.50H780.75V636.00" fill="none" stroke="#000" stroke-width="1.5"/>
<text x="768.38" y="608.86" font-size="19.2" text-anchor="middle" transform="matrix(1 0 0 1.05 0 -30.443)" letter-spacing="1.0">**</text>
<text x="767.88" y="592.50" font-size="9.7" text-anchor="middle" fill="#222" font-style="italic" transform="matrix(1 0 0 1.05 0 -29.625)">P=0.0087</text>
<path d="M830.75 590.00V580.00H856.75V591.00" fill="none" stroke="#000" stroke-width="1.5"/>
<text x="843.75" y="578.25" font-size="11" text-anchor="middle" transform="matrix(1 0 0 1.05 0 -28.913)">N.S.</text>
<text x="843.75" y="566.25" font-size="9.7" text-anchor="middle" fill="#222" font-style="italic" transform="matrix(1 0 0 1.05 0 -28.313)">P=0.2198</text>
<path d="M882.00 586.00V576.25H906.75V593.00" fill="none" stroke="#000" stroke-width="1.5"/>
<text x="894.38" y="574.50" font-size="11" text-anchor="middle" transform="matrix(1 0 0 1.05 0 -28.725)">N.S.</text>
<text x="894.38" y="562.50" font-size="9.7" text-anchor="middle" fill="#222" font-style="italic" transform="matrix(1 0 0 1.05 0 -28.125)">P=0.0903</text>
<text x="507.90" y="506.00" font-size="21" font-weight="bold" transform="matrix(1 0 0 1.05 0 -25.300)">e</text>
<text x="557.00" y="520.75" font-size="17" font-weight="bold" textLength="89.25" lengthAdjust="spacingAndGlyphs" transform="matrix(1 0 0 1.05 0 -26.038)">T47D LTED</text>
<rect x="684.85" y="510.60" width="31.05" height="14.30" fill="#777777" stroke="#000" stroke-width="2.2"/>
<rect x="684.85" y="528.60" width="31.05" height="14.30" fill="#fff" stroke="#000" stroke-width="2.2"/>
<rect x="684.85" y="546.10" width="31.05" height="15.30" fill="#000" stroke="#000" stroke-width="2.2"/>
<rect x="684.85" y="565.10" width="31.05" height="14.80" fill="#c0c0c0" stroke="#000" stroke-width="2.2"/>
<text x="720.50" y="522.60" font-size="14" transform="matrix(1 0 0 1.05 0 -26.130)">si #1</text>
<line x1="757.10" y1="517.70" x2="767.50" y2="517.70" stroke="#444" stroke-width="1.2"/>
<line x1="762.30" y1="512.50" x2="762.30" y2="522.90" stroke="#444" stroke-width="1.2"/>
<text x="772.70" y="522.60" font-size="14" transform="matrix(1 0 0 1.05 0 -26.130)">E2</text>
<text x="720.50" y="540.20" font-size="14" transform="matrix(1 0 0 1.05 0 -27.010)">si #1</text>
<line x1="757.10" y1="535.30" x2="767.50" y2="535.30" stroke="#444" stroke-width="1.2"/>
<text x="772.70" y="540.20" font-size="14" transform="matrix(1 0 0 1.05 0 -27.010)">E2</text>
<text x="720.50" y="557.80" font-size="14" transform="matrix(1 0 0 1.05 0 -27.890)">si #2</text>
<line x1="757.10" y1="552.90" x2="767.50" y2="552.90" stroke="#444" stroke-width="1.2"/>
<line x1="762.30" y1="547.70" x2="762.30" y2="558.10" stroke="#444" stroke-width="1.2"/>
<text x="772.70" y="557.80" font-size="14" transform="matrix(1 0 0 1.05 0 -27.890)">E2</text>
<text x="720.50" y="575.40" font-size="14" transform="matrix(1 0 0 1.05 0 -28.770)">si #2</text>
<line x1="757.10" y1="570.50" x2="767.50" y2="570.50" stroke="#444" stroke-width="1.2"/>
<text x="772.70" y="575.40" font-size="14" transform="matrix(1 0 0 1.05 0 -28.770)">E2</text>
<rect x="72.30" y="840.52" width="24.40" height="110.73" fill="#c0c0c0" stroke="#000" stroke-width="2"/>
<line x1="84.50" y1="846.11" x2="84.50" y2="832.94" stroke="#000" stroke-width="1.8"/>
<line x1="79.50" y1="832.94" x2="89.50" y2="832.94" stroke="#000" stroke-width="1.8"/>
<line x1="79.50" y1="846.11" x2="89.50" y2="846.11" stroke="#000" stroke-width="1.8"/>
<path d="M78.50 827.64L82.70 831.84L78.50 836.04L74.30 831.84Z" fill="#000"/>
<path d="M90.50 835.32L94.70 839.52L90.50 843.72L86.30 839.52Z" fill="#000"/>
<path d="M84.50 843.01L88.70 847.21L84.50 851.41L80.30 847.21Z" fill="#000"/>
<rect x="111.30" y="862.25" width="24.40" height="89.00" fill="#fff" stroke="#000" stroke-width="2"/>
<line x1="123.50" y1="862.90" x2="123.50" y2="859.61" stroke="#000" stroke-width="1.8"/>
<line x1="118.50" y1="859.61" x2="128.50" y2="859.61" stroke="#000" stroke-width="1.8"/>
<line x1="118.50" y1="862.90" x2="128.50" y2="862.90" stroke="#000" stroke-width="1.8"/>
<path d="M117.50 857.05L121.70 861.25L117.50 865.46L113.30 861.25Z" fill="#000"/>
<path d="M123.50 858.15L127.70 862.35L123.50 866.55L119.30 862.35Z" fill="#000"/>
<path d="M129.50 857.05L133.70 861.25L129.50 865.46L125.30 861.25Z" fill="#000"/>
<rect x="150.30" y="898.47" width="24.40" height="52.78" fill="#000" stroke="#000" stroke-width="2"/>
<line x1="162.50" y1="899.67" x2="162.50" y2="895.28" stroke="#000" stroke-width="1.8"/>
<line x1="157.50" y1="895.28" x2="167.50" y2="895.28" stroke="#000" stroke-width="1.8"/>
<line x1="157.50" y1="899.67" x2="167.50" y2="899.67" stroke="#000" stroke-width="1.8"/>
<path d="M156.50 889.98L160.70 894.18L156.50 898.38L152.30 894.18Z" fill="#bdbdbd"/>
<path d="M162.50 895.47L166.70 899.67L162.50 903.87L158.30 899.67Z" fill="#bdbdbd"/>
<path d="M168.50 893.27L172.70 897.47L168.50 901.67L164.30 897.47Z" fill="#bdbdbd"/>
<rect x="218.55" y="893.53" width="24.40" height="57.72" fill="#c0c0c0" stroke="#000" stroke-width="2"/>
<line x1="230.75" y1="895.83" x2="230.75" y2="889.24" stroke="#000" stroke-width="1.8"/>
<line x1="225.75" y1="889.24" x2="235.75" y2="889.24" stroke="#000" stroke-width="1.8"/>
<line x1="225.75" y1="895.83" x2="235.75" y2="895.83" stroke="#000" stroke-width="1.8"/>
<path d="M224.75 891.63L228.95 895.83L224.75 900.03L220.55 895.83Z" fill="#000"/>
<path d="M230.75 888.33L234.95 892.53L230.75 896.73L226.55 892.53Z" fill="#000"/>
<path d="M236.75 883.94L240.95 888.14L236.75 892.34L232.55 888.14Z" fill="#000"/>
<rect x="257.55" y="867.19" width="24.40" height="84.06" fill="#fff" stroke="#000" stroke-width="2"/>
<line x1="269.75" y1="869.49" x2="269.75" y2="862.90" stroke="#000" stroke-width="1.8"/>
<line x1="264.75" y1="862.90" x2="274.75" y2="862.90" stroke="#000" stroke-width="1.8"/>
<line x1="264.75" y1="869.49" x2="274.75" y2="869.49" stroke="#000" stroke-width="1.8"/>
<path d="M263.75 864.19L267.95 868.39L263.75 872.59L259.55 868.39Z" fill="#000"/>
<path d="M269.75 859.80L273.95 864.00L269.75 868.20L265.55 864.00Z" fill="#000"/>
<path d="M275.75 861.99L279.95 866.19L275.75 870.39L271.55 866.19Z" fill="#000"/>
<rect x="296.55" y="927.78" width="24.40" height="23.47" fill="#000" stroke="#000" stroke-width="2"/>
<line x1="308.75" y1="928.97" x2="308.75" y2="924.58" stroke="#000" stroke-width="1.8"/>
<line x1="303.75" y1="924.58" x2="313.75" y2="924.58" stroke="#000" stroke-width="1.8"/>
<line x1="303.75" y1="928.97" x2="313.75" y2="928.97" stroke="#000" stroke-width="1.8"/>
<path d="M302.75 920.38L306.95 924.58L302.75 928.78L298.55 924.58Z" fill="#bdbdbd"/>
<path d="M308.75 924.77L312.95 928.97L308.75 933.17L304.55 928.97Z" fill="#bdbdbd"/>
<path d="M314.75 922.58L318.95 926.78L314.75 930.98L310.55 926.78Z" fill="#bdbdbd"/>
<line x1="51.25" y1="807.00" x2="51.25" y2="952.25" stroke="#000" stroke-width="2.2"/>
<line x1="50.25" y1="951.25" x2="342.50" y2="951.25" stroke="#000" stroke-width="2.2"/>
<line x1="47.25" y1="951.25" x2="51.25" y2="951.25" stroke="#000" stroke-width="1.5"/>
<text x="46.25" y="956.48" font-size="15.2" text-anchor="end" transform="matrix(1 0 0 1.05 0 -47.824)">0.0</text>
<line x1="47.25" y1="929.30" x2="51.25" y2="929.30" stroke="#000" stroke-width="1.5"/>
<text x="46.25" y="934.53" font-size="15.2" text-anchor="end" transform="matrix(1 0 0 1.05 0 -46.726)">0.2</text>
<line x1="47.25" y1="907.35" x2="51.25" y2="907.35" stroke="#000" stroke-width="1.5"/>
<text x="46.25" y="912.58" font-size="15.2" text-anchor="end" transform="matrix(1 0 0 1.05 0 -45.629)">0.4</text>
<line x1="47.25" y1="885.40" x2="51.25" y2="885.40" stroke="#000" stroke-width="1.5"/>
<text x="46.25" y="890.63" font-size="15.2" text-anchor="end" transform="matrix(1 0 0 1.05 0 -44.531)">0.6</text>
<line x1="47.25" y1="863.45" x2="51.25" y2="863.45" stroke="#000" stroke-width="1.5"/>
<text x="46.25" y="868.68" font-size="15.2" text-anchor="end" transform="matrix(1 0 0 1.05 0 -43.434)">0.8</text>
<line x1="47.25" y1="841.50" x2="51.25" y2="841.50" stroke="#000" stroke-width="1.5"/>
<text x="46.25" y="846.73" font-size="15.2" text-anchor="end" transform="matrix(1 0 0 1.05 0 -42.336)">1.0</text>
<line x1="47.25" y1="819.55" x2="51.25" y2="819.55" stroke="#000" stroke-width="1.5"/>
<text x="46.25" y="824.78" font-size="15.2" text-anchor="end" transform="matrix(1 0 0 1.05 0 -41.239)">1.2</text>
<line x1="123.50" y1="951.25" x2="123.50" y2="956.25" stroke="#000" stroke-width="1.8"/>
<line x1="108.10" y1="968.40" x2="119.30" y2="968.40" stroke="#555" stroke-width="1.4"/>
<line x1="113.70" y1="962.80" x2="113.70" y2="974.00" stroke="#555" stroke-width="1.4"/>
<text x="121.20" y="973.90" font-size="15.2" transform="matrix(1 0 0 1.05 0 -48.695)">E2</text>
<line x1="269.75" y1="951.25" x2="269.75" y2="956.25" stroke="#000" stroke-width="1.8"/>
<line x1="254.35" y1="968.40" x2="265.55" y2="968.40" stroke="#555" stroke-width="1.4"/>
<text x="267.45" y="973.90" font-size="15.2" transform="matrix(1 0 0 1.05 0 -48.695)">E2</text>
<text x="18.60" y="878.30" font-size="15.0" text-anchor="middle" textLength="127.50" lengthAdjust="spacingAndGlyphs" transform="rotate(-90 18.60 878.30) matrix(1 0 0 1.05 0 -43.915)">MCF-7 Cell viability</text>
<line x1="123.75" y1="851.60" x2="266.50" y2="851.60" stroke="#000" stroke-width="1.5"/>
<text x="192.50" y="848.00" font-size="11.5" text-anchor="middle" transform="matrix(1 0 0 1.05 0 -42.400)">N.S.</text>
<text x="194.60" y="834.50" font-size="11.2" text-anchor="middle" fill="#222" font-style="italic" transform="matrix(1 0 0 1.05 0 -41.725)">P=0.1625</text>
<line x1="270.30" y1="851.20" x2="306.90" y2="851.20" stroke="#000" stroke-width="1.8"/>
<text x="289.30" y="857.50" font-size="23" text-anchor="middle" transform="matrix(1 0 0 1.05 0 -42.875)" letter-spacing="2.0">***</text>
<text x="287.70" y="837.10" font-size="11.2" text-anchor="middle" fill="#222" font-style="italic" transform="matrix(1 0 0 1.05 0 -41.855)">P&lt;0.0001</text>
<text x="2.20" y="745.20" font-size="21" font-weight="bold" transform="matrix(1 0 0 1.05 0 -37.260)">f</text>
<rect x="72.40" y="753.20" width="31.40" height="14.10" fill="#c0c0c0" stroke="#000" stroke-width="2.4" rx="1.5"/>
<rect x="72.40" y="770.70" width="31.40" height="15.10" fill="#fff" stroke="#000" stroke-width="2.4" rx="1.5"/>
<rect x="72.40" y="789.20" width="31.40" height="15.10" fill="#000" stroke="#000" stroke-width="2.4" rx="1.5"/>
<text x="109.20" y="764.60" font-size="14.7" transform="matrix(1 0 0 1.05 0 -38.230)">si Ctrl</text>
<text x="109.20" y="782.80" font-size="14.7" transform="matrix(1 0 0 1.05 0 -39.140)">SERPINA3 si #1</text>
<text x="109.20" y="801.20" font-size="14.7" transform="matrix(1 0 0 1.05 0 -40.060)">SERPINA3 si #1</text>
<text x="234.00" y="801.20" font-size="14.7" transform="matrix(1 0 0 1.05 0 -40.060)">ANKRD11 si #1</text>
<line x1="220.70" y1="795.50" x2="232.30" y2="795.50" stroke="#555" stroke-width="1.3"/>
<line x1="226.50" y1="789.70" x2="226.50" y2="801.30" stroke="#555" stroke-width="1.3"/>
<rect x="569.00" y="844.72" width="25.00" height="105.28" fill="#c0c0c0" stroke="#000" stroke-width="2"/>
<line x1="581.50" y1="848.95" x2="581.50" y2="838.50" stroke="#000" stroke-width="1.8"/>
<line x1="576.50" y1="838.50" x2="586.50" y2="838.50" stroke="#000" stroke-width="1.8"/>
<line x1="576.50" y1="848.95" x2="586.50" y2="848.95" stroke="#000" stroke-width="1.8"/>
<path d="M575.50 832.21L579.70 836.41L575.50 840.61L571.30 836.41Z" fill="#000"/>
<path d="M587.50 839.52L591.70 843.72L587.50 847.92L583.30 843.72Z" fill="#000"/>
<path d="M581.50 846.84L585.70 851.04L581.50 855.24L577.30 851.04Z" fill="#000"/>
<rect x="609.00" y="866.04" width="25.00" height="83.96" fill="#fff" stroke="#000" stroke-width="2"/>
<line x1="621.50" y1="867.13" x2="621.50" y2="862.95" stroke="#000" stroke-width="1.8"/>
<line x1="616.50" y1="862.95" x2="626.50" y2="862.95" stroke="#000" stroke-width="1.8"/>
<line x1="616.50" y1="867.13" x2="626.50" y2="867.13" stroke="#000" stroke-width="1.8"/>
<path d="M615.50 860.84L619.70 865.04L615.50 869.24L611.30 865.04Z" fill="#000"/>
<path d="M621.50 861.89L625.70 866.09L621.50 870.29L617.30 866.09Z" fill="#000"/>
<path d="M627.50 860.84L631.70 865.04L627.50 869.24L623.30 865.04Z" fill="#000"/>
<rect x="649.00" y="889.35" width="25.00" height="60.65" fill="#000" stroke="#000" stroke-width="2"/>
<line x1="661.50" y1="892.52" x2="661.50" y2="884.16" stroke="#000" stroke-width="1.8"/>
<line x1="656.50" y1="884.16" x2="666.50" y2="884.16" stroke="#000" stroke-width="1.8"/>
<line x1="656.50" y1="892.52" x2="666.50" y2="892.52" stroke="#000" stroke-width="1.8"/>
<path d="M661.50 879.96L665.70 884.16L661.50 888.37L657.30 884.16Z" fill="#bdbdbd"/>
<path d="M655.50 887.28L659.70 891.48L655.50 895.68L651.30 891.48Z" fill="#bdbdbd"/>
<path d="M667.50 886.23L671.70 890.43L667.50 894.63L663.30 890.43Z" fill="#bdbdbd"/>
<rect x="719.00" y="888.30" width="25.00" height="61.70" fill="#c0c0c0" stroke="#000" stroke-width="2"/>
<line x1="731.50" y1="889.39" x2="731.50" y2="885.21" stroke="#000" stroke-width="1.8"/>
<line x1="726.50" y1="885.21" x2="736.50" y2="885.21" stroke="#000" stroke-width="1.8"/>
<line x1="726.50" y1="889.39" x2="736.50" y2="889.39" stroke="#000" stroke-width="1.8"/>
<path d="M725.50 883.10L729.70 887.30L725.50 891.50L721.30 887.30Z" fill="#000"/>
<path d="M731.50 881.01L735.70 885.21L731.50 889.41L727.30 885.21Z" fill="#000"/>
<path d="M737.50 884.14L741.70 888.35L737.50 892.55L733.30 888.35Z" fill="#000"/>
<rect x="759.00" y="868.44" width="25.00" height="81.56" fill="#fff" stroke="#000" stroke-width="2"/>
<line x1="771.50" y1="870.58" x2="771.50" y2="864.31" stroke="#000" stroke-width="1.8"/>
<line x1="766.50" y1="864.31" x2="776.50" y2="864.31" stroke="#000" stroke-width="1.8"/>
<line x1="766.50" y1="870.58" x2="776.50" y2="870.58" stroke="#000" stroke-width="1.8"/>
<path d="M771.50 860.11L775.70 864.31L771.50 868.51L767.30 864.31Z" fill="#000"/>
<path d="M765.50 864.29L769.70 868.49L765.50 872.69L761.30 868.49Z" fill="#000"/>
<path d="M777.50 864.29L781.70 868.49L777.50 872.69L773.30 868.49Z" fill="#000"/>
<rect x="799.00" y="914.42" width="25.00" height="35.58" fill="#000" stroke="#000" stroke-width="2"/>
<line x1="811.50" y1="914.47" x2="811.50" y2="912.38" stroke="#000" stroke-width="1.8"/>
<line x1="806.50" y1="912.38" x2="816.50" y2="912.38" stroke="#000" stroke-width="1.8"/>
<line x1="806.50" y1="914.47" x2="816.50" y2="914.47" stroke="#000" stroke-width="1.8"/>
<path d="M805.50 909.22L809.70 913.42L805.50 917.62L801.30 913.42Z" fill="#bdbdbd"/>
<path d="M811.50 913.40L815.70 917.61L811.50 921.81L807.30 917.61Z" fill="#bdbdbd"/>
<path d="M817.50 909.22L821.70 913.42L817.50 917.62L813.30 913.42Z" fill="#bdbdbd"/>
<line x1="545.50" y1="802.00" x2="545.50" y2="951.00" stroke="#000" stroke-width="2.2"/>
<line x1="544.50" y1="950.00" x2="844.60" y2="950.00" stroke="#000" stroke-width="2.2"/>
<line x1="541.50" y1="950.00" x2="545.50" y2="950.00" stroke="#000" stroke-width="1.5"/>
<text x="540.50" y="955.33" font-size="15.5" text-anchor="end" transform="matrix(1 0 0 1.05 0 -47.767)">0.0</text>
<line x1="541.50" y1="929.10" x2="545.50" y2="929.10" stroke="#000" stroke-width="1.5"/>
<text x="540.50" y="934.43" font-size="15.5" text-anchor="end" transform="matrix(1 0 0 1.05 0 -46.722)">0.2</text>
<line x1="541.50" y1="908.20" x2="545.50" y2="908.20" stroke="#000" stroke-width="1.5"/>
<text x="540.50" y="913.53" font-size="15.5" text-anchor="end" transform="matrix(1 0 0 1.05 0 -45.677)">0.4</text>
<line x1="541.50" y1="887.30" x2="545.50" y2="887.30" stroke="#000" stroke-width="1.5"/>
<text x="540.50" y="892.63" font-size="15.5" text-anchor="end" transform="matrix(1 0 0 1.05 0 -44.632)">0.6</text>
<line x1="541.50" y1="866.40" x2="545.50" y2="866.40" stroke="#000" stroke-width="1.5"/>
<text x="540.50" y="871.73" font-size="15.5" text-anchor="end" transform="matrix(1 0 0 1.05 0 -43.587)">0.8</text>
<line x1="541.50" y1="845.50" x2="545.50" y2="845.50" stroke="#000" stroke-width="1.5"/>
<text x="540.50" y="850.83" font-size="15.5" text-anchor="end" transform="matrix(1 0 0 1.05 0 -42.542)">1.0</text>
<line x1="541.50" y1="824.60" x2="545.50" y2="824.60" stroke="#000" stroke-width="1.5"/>
<text x="540.50" y="829.93" font-size="15.5" text-anchor="end" transform="matrix(1 0 0 1.05 0 -41.497)">1.2</text>
<line x1="541.50" y1="803.70" x2="545.50" y2="803.70" stroke="#000" stroke-width="1.5"/>
<text x="540.50" y="809.03" font-size="15.5" text-anchor="end" transform="matrix(1 0 0 1.05 0 -40.452)">1.4</text>
<line x1="621.50" y1="950.00" x2="621.50" y2="955.00" stroke="#000" stroke-width="1.8"/>
<line x1="606.10" y1="967.50" x2="617.30" y2="967.50" stroke="#555" stroke-width="1.4"/>
<line x1="611.70" y1="961.90" x2="611.70" y2="973.10" stroke="#555" stroke-width="1.4"/>
<text x="619.20" y="973.00" font-size="15.2" transform="matrix(1 0 0 1.05 0 -48.650)">E2</text>
<line x1="771.50" y1="950.00" x2="771.50" y2="955.00" stroke="#000" stroke-width="1.8"/>
<line x1="756.10" y1="967.50" x2="767.30" y2="967.50" stroke="#555" stroke-width="1.4"/>
<text x="769.20" y="973.00" font-size="15.2" transform="matrix(1 0 0 1.05 0 -48.650)">E2</text>
<text x="514.00" y="876.50" font-size="15.4" text-anchor="middle" textLength="123.40" lengthAdjust="spacingAndGlyphs" transform="rotate(-90 514.00 876.50) matrix(1 0 0 1.05 0 -43.825)">T47D Cell viability</text>
<line x1="623.00" y1="849.90" x2="768.80" y2="849.90" stroke="#000" stroke-width="1.5"/>
<text x="693.00" y="845.10" font-size="11.5" text-anchor="middle" transform="matrix(1 0 0 1.05 0 -42.255)">N.S.</text>
<text x="695.35" y="828.60" font-size="11.2" text-anchor="middle" fill="#222" font-style="italic" transform="matrix(1 0 0 1.05 0 -41.430)">P=0.3656</text>
<line x1="773.30" y1="850.20" x2="810.40" y2="850.20" stroke="#000" stroke-width="1.8"/>
<text x="792.45" y="853.80" font-size="23" text-anchor="middle" transform="matrix(1 0 0 1.05 0 -42.690)" letter-spacing="2.0">***</text>
<text x="790.95" y="831.00" font-size="11.2" text-anchor="middle" fill="#222" font-style="italic" transform="matrix(1 0 0 1.05 0 -41.550)">P=0.0001</text>
<text x="499.90" y="745.90" font-size="21" font-weight="bold" transform="matrix(1 0 0 1.05 0 -37.295)">g</text>
<rect x="569.30" y="757.00" width="33.00" height="15.30" fill="#c0c0c0" stroke="#000" stroke-width="2.4" rx="1.5"/>
<rect x="569.30" y="775.70" width="33.00" height="15.60" fill="#fff" stroke="#000" stroke-width="2.4" rx="1.5"/>
<rect x="569.30" y="794.70" width="33.00" height="15.10" fill="#000" stroke="#000" stroke-width="2.4" rx="1.5"/>
<text x="607.00" y="769.70" font-size="15.2" transform="matrix(1 0 0 1.05 0 -38.485)">si Ctrl</text>
<text x="607.00" y="788.60" font-size="15.2" transform="matrix(1 0 0 1.05 0 -39.430)">SERPINA3 si #1</text>
<text x="607.00" y="806.60" font-size="15.2" transform="matrix(1 0 0 1.05 0 -40.330)">SERPINA3 si #1</text>
<text x="735.50" y="806.60" font-size="15.2" transform="matrix(1 0 0 1.05 0 -40.330)">ANKRD11 si #1</text>
<line x1="721.65" y1="800.90" x2="733.25" y2="800.90" stroke="#555" stroke-width="1.3"/>
<line x1="727.45" y1="795.10" x2="727.45" y2="806.70" stroke="#555" stroke-width="1.3"/>
<text x="0.50" y="1015.00" font-size="21" font-weight="bold" transform="matrix(1 0 0 1.05 0 -50.750)">h</text>
<text x="170.50" y="1035.00" font-size="14.5" text-anchor="middle" transform="matrix(1 0 0 1.05 0 -51.750)">MCF-7</text>
<text x="354.50" y="1034.50" font-size="14.5" text-anchor="middle" transform="matrix(1 0 0 1.05 0 -51.725)">T47D</text>
<line x1="83.00" y1="1041.25" x2="258.75" y2="1041.25" stroke="#000" stroke-width="1.5"/>
<line x1="266.25" y1="1041.25" x2="442.00" y2="1041.25" stroke="#000" stroke-width="1.5"/>
<text x="94.00" y="1109.50" font-size="15" transform="rotate(-30 94.00 1109.50) matrix(1 0 0 1.05 0 -55.475)">si Ctrl</text>
<text x="148.50" y="1110.00" font-size="15" transform="rotate(-30 148.50 1110.00) matrix(1 0 0 1.05 0 -55.500)">SERPINA3 si #1</text>
<text x="207.00" y="1110.00" font-size="15" transform="rotate(-30 207.00 1110.00) matrix(1 0 0 1.05 0 -55.500)">SERPINA3 si #2</text>
<text x="273.50" y="1110.00" font-size="15" transform="rotate(-30 273.50 1110.00) matrix(1 0 0 1.05 0 -55.500)">si Ctrl</text>
<text x="331.50" y="1110.00" font-size="15" transform="rotate(-30 331.50 1110.00) matrix(1 0 0 1.05 0 -55.500)">SERPINA3 si #1</text>
<text x="396.50" y="1110.00" font-size="15" transform="rotate(-30 396.50 1110.00) matrix(1 0 0 1.05 0 -55.500)">SERPINA3 si #2</text>
<rect x="82.90" y="1116.10" width="175.80" height="43.70" fill="#e6e6e6"/>
<rect x="267.30" y="1116.10" width="175.70" height="43.70" fill="#efefef"/>
<rect x="82.90" y="1164.20" width="175.80" height="42.80" fill="#f2f2f2"/>
<rect x="267.30" y="1164.20" width="175.70" height="42.80" fill="#f1f1f1"/>
<rect x="82.90" y="1211.70" width="175.80" height="43.70" fill="#e8e8e8"/>
<rect x="267.30" y="1211.70" width="175.70" height="43.70" fill="#ececec"/>
<path d="M95.0 1140.2 L132.2 1136.8 A5.2 5.2 0 0 1 132.2 1147.2 L95.0 1143.8 A1.8 1.8 0 0 1 95.0 1140.2Z" fill="#5e5e5e" filter="url(#bl10)"/>
<path d="M278.1 1134.3 L316.1 1133.6 A4.5 4.5 0 0 1 316.1 1142.6 L278.1 1141.8 A3.8 3.8 0 0 1 278.1 1134.3Z" fill="#2e2e2e" filter="url(#bl9)"/>
<path d="M337.4 1136.9 L374.1 1136.6 A1.9 1.9 0 0 1 374.1 1140.4 L337.4 1140.1 A1.6 1.6 0 0 1 337.4 1136.9Z" fill="#a8a8a8" filter="url(#bl10)"/>
<path d="M394.3 1136.7 L434.4 1136.6 A1.6 1.6 0 0 1 434.4 1139.8 L394.3 1139.7 A1.5 1.5 0 0 1 394.3 1136.7Z" fill="#b8b8b8" filter="url(#bl10)"/>
<path d="M91.8 1182.8 L127.2 1182.8 A1.3 1.3 0 0 1 127.2 1185.4 L91.8 1185.4 A1.3 1.3 0 0 1 91.8 1182.8Z" fill="#b8b8b8" filter="url(#bl9)"/>
<path d="M152.8 1182.6 L189.1 1182.6 A2.1 2.1 0 0 1 189.1 1186.8 L152.8 1186.8 A2.1 2.1 0 0 1 152.8 1182.6Z" fill="#4a4a4a" filter="url(#bl9)"/>
<path d="M213.4 1182.8 L249.5 1183.5 A2.5 2.5 0 0 1 249.5 1188.5 L213.4 1189.2 A3.2 3.2 0 0 1 213.4 1182.8Z" fill="#0c0c0c" filter="url(#bl9)"/>
<path d="M277.5 1181.0 L312.1 1181.0 A1.2 1.2 0 0 1 312.1 1183.4 L277.5 1183.4 A1.2 1.2 0 0 1 277.5 1181.0Z" fill="#bdbdbd" filter="url(#bl9)"/>
<path d="M336.1 1181.0 L373.2 1181.0 A2.8 2.8 0 0 1 373.2 1186.5 L336.1 1186.5 A2.8 2.8 0 0 1 336.1 1181.0Z" fill="#0a0a0a" filter="url(#bl8)"/>
<path d="M397.6 1182.0 L433.2 1182.2 A3.2 3.2 0 0 1 433.2 1188.8 L397.6 1189.0 A3.5 3.5 0 0 1 397.6 1182.0Z" fill="#000" filter="url(#bl8)"/>
<path d="M90.1 1232.0 L133.8 1231.2 A3.2 3.2 0 0 1 133.8 1237.8 L90.1 1237.0 A2.5 2.5 0 0 1 90.1 1232.0Z" fill="#5a5a5a" filter="url(#bl15)"/>
<path d="M149.0 1232.0 L187.7 1231.0 A3.5 3.5 0 0 1 187.7 1238.0 L149.0 1237.0 A2.5 2.5 0 0 1 149.0 1232.0Z" fill="#4a4a4a" filter="url(#bl15)"/>
<path d="M207.0 1232.5 L242.9 1232.5 A2.5 2.5 0 0 1 242.9 1237.5 L207.0 1237.5 A2.5 2.5 0 0 1 207.0 1232.5Z" fill="#606060" filter="url(#bl15)"/>
<path d="M277.4 1229.6 L315.8 1229.3 A3.2 3.2 0 0 1 315.8 1235.8 L277.4 1235.6 A3.0 3.0 0 0 1 277.4 1229.6Z" fill="#5c5c5c" filter="url(#bl16)"/>
<path d="M336.4 1231.8 L375.8 1231.8 A2.2 2.2 0 0 1 375.8 1236.2 L336.4 1236.2 A2.2 2.2 0 0 1 336.4 1231.8Z" fill="#8c8c8c" filter="url(#bl16)"/>
<path d="M395.2 1231.5 L431.5 1232.0 A2.5 2.5 0 0 1 431.5 1237.0 L395.2 1237.5 A3.0 3.0 0 0 1 395.2 1231.5Z" fill="#6a6a6a" filter="url(#bl16)"/>
<text x="78.50" y="1143.75" font-size="14.9" text-anchor="end" transform="matrix(1 0 0 1.05 0 -57.188)">SERPINA3</text>
<text x="78.50" y="1190.00" font-size="14.9" text-anchor="end" transform="matrix(1 0 0 1.05 0 -59.500)">ANKRD11</text>
<text x="78.50" y="1238.75" font-size="14.9" text-anchor="end" transform="matrix(1 0 0 1.05 0 -61.938)">GAPDH</text>
<text x="460.00" y="1108.75" font-size="14.5" transform="matrix(1 0 0 1.05 0 -55.438)">kDa</text>
<line x1="447.50" y1="1123.75" x2="461.25" y2="1123.75" stroke="#000" stroke-width="2"/>
<text x="466.00" y="1128.75" font-size="14.5" transform="matrix(1 0 0 1.05 0 -56.438)">50</text>
<line x1="447.50" y1="1205.00" x2="461.25" y2="1205.00" stroke="#000" stroke-width="2"/>
<text x="466.00" y="1210.00" font-size="14.5" transform="matrix(1 0 0 1.05 0 -60.500)">250</text>
<line x1="447.50" y1="1233.75" x2="461.25" y2="1233.75" stroke="#000" stroke-width="2"/>
<text x="466.00" y="1238.75" font-size="14.5" transform="matrix(1 0 0 1.05 0 -61.938)">35</text>
<rect x="102.10" y="1485.25" width="33.30" height="28.50" fill="#c0c0c0" stroke="#000" stroke-width="2.2"/>
<rect x="154.85" y="1456.20" width="33.30" height="57.55" fill="#fff" stroke="#000" stroke-width="2.2"/>
<line x1="171.50" y1="1455.10" x2="171.50" y2="1445.90" stroke="#000" stroke-width="2.2"/>
<line x1="162.00" y1="1445.90" x2="181.00" y2="1445.90" stroke="#000" stroke-width="2.2"/>
<rect x="207.85" y="1421.30" width="33.30" height="92.45" fill="#000" stroke="#000" stroke-width="2.2"/>
<line x1="224.50" y1="1420.20" x2="224.50" y2="1395.82" stroke="#000" stroke-width="2.2"/>
<line x1="215.00" y1="1395.82" x2="234.00" y2="1395.82" stroke="#000" stroke-width="2.2"/>
<rect x="301.10" y="1485.25" width="33.30" height="28.50" fill="#c0c0c0" stroke="#000" stroke-width="2.2"/>
<rect x="353.85" y="1410.35" width="33.30" height="103.40" fill="#fff" stroke="#000" stroke-width="2.2"/>
<line x1="370.50" y1="1409.25" x2="370.50" y2="1376.84" stroke="#000" stroke-width="2.2"/>
<line x1="361.00" y1="1376.84" x2="380.00" y2="1376.84" stroke="#000" stroke-width="2.2"/>
<rect x="406.85" y="1397.36" width="33.30" height="116.39" fill="#000" stroke="#000" stroke-width="2.2"/>
<line x1="423.50" y1="1396.26" x2="423.50" y2="1353.04" stroke="#000" stroke-width="2.2"/>
<line x1="414.00" y1="1353.04" x2="433.00" y2="1353.04" stroke="#000" stroke-width="2.2"/>
<path d="M107.25 1479.85L111.55 1484.15L107.25 1488.45L102.95 1484.15Z" fill="#000"/>
<path d="M118.75 1479.85L123.05 1484.15L118.75 1488.45L114.45 1484.15Z" fill="#000"/>
<path d="M130.25 1479.85L134.55 1484.15L130.25 1488.45L125.95 1484.15Z" fill="#000"/>
<path d="M306.25 1479.85L310.55 1484.15L306.25 1488.45L301.95 1484.15Z" fill="#000"/>
<path d="M317.75 1479.85L322.05 1484.15L317.75 1488.45L313.45 1484.15Z" fill="#000"/>
<path d="M329.25 1479.85L333.55 1484.15L329.25 1488.45L324.95 1484.15Z" fill="#000"/>
<path d="M171.75 1440.20L176.05 1444.50L171.75 1448.80L167.45 1444.50Z" fill="#000"/>
<path d="M160.75 1451.95L165.05 1456.25L160.75 1460.55L156.45 1456.25Z" fill="#000"/>
<path d="M172.00 1462.70L176.30 1467.00L172.00 1471.30L167.70 1467.00Z" fill="#000"/>
<path d="M183.25 1462.70L187.55 1467.00L183.25 1471.30L178.95 1467.00Z" fill="#000"/>
<path d="M225.00 1383.70L229.30 1388.00L225.00 1392.30L220.70 1388.00Z" fill="#bdbdbd"/>
<path d="M225.00 1426.95L229.30 1431.25L225.00 1435.55L220.70 1431.25Z" fill="#bdbdbd"/>
<path d="M225.00 1438.70L229.30 1443.00L225.00 1447.30L220.70 1443.00Z" fill="#bdbdbd"/>
<path d="M370.50 1362.70L374.80 1367.00L370.50 1371.30L366.20 1367.00Z" fill="#000"/>
<path d="M361.75 1420.20L366.05 1424.50L361.75 1428.80L357.45 1424.50Z" fill="#000"/>
<path d="M379.25 1433.20L383.55 1437.50L379.25 1441.80L374.95 1437.50Z" fill="#000"/>
<path d="M423.75 1334.95L428.05 1339.25L423.75 1343.55L419.45 1339.25Z" fill="#bdbdbd"/>
<path d="M415.00 1420.70L419.30 1425.00L415.00 1429.30L410.70 1425.00Z" fill="#bdbdbd"/>
<path d="M432.00 1422.45L436.30 1426.75L432.00 1431.05L427.70 1426.75Z" fill="#bdbdbd"/>
<line x1="72.50" y1="1308.75" x2="72.50" y2="1514.75" stroke="#000" stroke-width="2.2"/>
<line x1="71.50" y1="1513.75" x2="469.50" y2="1513.75" stroke="#000" stroke-width="2.2"/>
<line x1="67.50" y1="1498.75" x2="72.50" y2="1498.75" stroke="#000" stroke-width="2"/>
<text x="65.00" y="1504.75" font-size="16.5" text-anchor="end" transform="matrix(1 0 0 1.05 0 -75.238)">0</text>
<line x1="67.50" y1="1469.55" x2="72.50" y2="1469.55" stroke="#000" stroke-width="2"/>
<text x="65.00" y="1475.55" font-size="16.5" text-anchor="end" transform="matrix(1 0 0 1.05 0 -73.778)">2</text>
<line x1="67.50" y1="1440.35" x2="72.50" y2="1440.35" stroke="#000" stroke-width="2"/>
<text x="65.00" y="1446.35" font-size="16.5" text-anchor="end" transform="matrix(1 0 0 1.05 0 -72.318)">4</text>
<line x1="67.50" y1="1411.15" x2="72.50" y2="1411.15" stroke="#000" stroke-width="2"/>
<text x="65.00" y="1417.15" font-size="16.5" text-anchor="end" transform="matrix(1 0 0 1.05 0 -70.858)">6</text>
<line x1="67.50" y1="1381.95" x2="72.50" y2="1381.95" stroke="#000" stroke-width="2"/>
<text x="65.00" y="1387.95" font-size="16.5" text-anchor="end" transform="matrix(1 0 0 1.05 0 -69.398)">8</text>
<line x1="67.50" y1="1352.75" x2="72.50" y2="1352.75" stroke="#000" stroke-width="2"/>
<text x="65.00" y="1358.75" font-size="16.5" text-anchor="end" transform="matrix(1 0 0 1.05 0 -67.938)">10</text>
<line x1="67.50" y1="1323.55" x2="72.50" y2="1323.55" stroke="#000" stroke-width="2"/>
<text x="65.00" y="1329.55" font-size="16.5" text-anchor="end" transform="matrix(1 0 0 1.05 0 -66.478)">12</text>
<line x1="69.50" y1="1484.15" x2="72.50" y2="1484.15" stroke="#000" stroke-width="1.2"/>
<line x1="69.50" y1="1454.95" x2="72.50" y2="1454.95" stroke="#000" stroke-width="1.2"/>
<line x1="69.50" y1="1425.75" x2="72.50" y2="1425.75" stroke="#000" stroke-width="1.2"/>
<line x1="69.50" y1="1396.55" x2="72.50" y2="1396.55" stroke="#000" stroke-width="1.2"/>
<line x1="69.50" y1="1367.35" x2="72.50" y2="1367.35" stroke="#000" stroke-width="1.2"/>
<line x1="69.50" y1="1338.15" x2="72.50" y2="1338.15" stroke="#000" stroke-width="1.2"/>
<line x1="171.50" y1="1513.75" x2="171.50" y2="1518.75" stroke="#000" stroke-width="2"/>
<text x="171.50" y="1540.00" font-size="17" text-anchor="middle" transform="matrix(1 0 0 1.05 0 -77.000)">MCF-7</text>
<line x1="370.50" y1="1513.75" x2="370.50" y2="1518.75" stroke="#000" stroke-width="2"/>
<text x="370.50" y="1540.00" font-size="17" text-anchor="middle" transform="matrix(1 0 0 1.05 0 -77.000)">T47D</text>
<text x="18.30" y="1411.25" font-size="16.9" text-anchor="middle" textLength="163.50" lengthAdjust="spacingAndGlyphs" transform="rotate(-90 18.30 1411.25) matrix(1 0 0 1.05 0 -70.563)">ANKRD11 expression</text>
<text x="39.60" y="1409.70" font-size="16.5" text-anchor="middle" textLength="99.40" lengthAdjust="spacingAndGlyphs" transform="rotate(-90 39.60 1409.70) matrix(1 0 0 1.05 0 -70.485)">(Fold change)</text>
<line x1="119.10" y1="1437.40" x2="172.40" y2="1437.40" stroke="#000" stroke-width="2.5"/>
<text x="146.75" y="1444.04" font-size="25.4" text-anchor="middle" transform="matrix(1 0 0 1.05 0 -72.202)" letter-spacing="0">*</text>
<text x="146.40" y="1420.20" font-size="11" text-anchor="middle" fill="#222" font-style="italic" transform="matrix(1 0 0 1.05 0 -71.010)">P=0.0120</text>
<line x1="118.10" y1="1379.90" x2="225.70" y2="1379.90" stroke="#000" stroke-width="2.5"/>
<text x="169.10" y="1386.54" font-size="25.4" text-anchor="middle" transform="matrix(1 0 0 1.05 0 -69.327)" letter-spacing="0">*</text>
<text x="169.50" y="1363.00" font-size="11" text-anchor="middle" fill="#222" font-style="italic" transform="matrix(1 0 0 1.05 0 -68.150)">P=0.0187</text>
<line x1="318.00" y1="1359.25" x2="370.50" y2="1359.25" stroke="#000" stroke-width="2.5"/>
<text x="345.00" y="1365.89" font-size="25.4" text-anchor="middle" transform="matrix(1 0 0 1.05 0 -68.295)" letter-spacing="0">*</text>
<text x="345.00" y="1343.00" font-size="11" text-anchor="middle" fill="#222" font-style="italic" transform="matrix(1 0 0 1.05 0 -67.150)">P=0.0261</text>
<line x1="318.00" y1="1325.00" x2="425.50" y2="1325.00" stroke="#000" stroke-width="2.5"/>
<text x="369.25" y="1331.64" font-size="25.4" text-anchor="middle" transform="matrix(1 0 0 1.05 0 -66.582)" letter-spacing="0">*</text>
<text x="369.25" y="1310.00" font-size="11" text-anchor="middle" fill="#222" font-style="italic" transform="matrix(1 0 0 1.05 0 -65.500)">P=0.0384</text>
<rect x="95.05" y="1266.80" width="36.15" height="16.40" fill="#c0c0c0" stroke="#000" stroke-width="2.6" rx="1.5"/>
<rect x="95.05" y="1286.80" width="36.15" height="16.90" fill="#fff" stroke="#000" stroke-width="2.6" rx="1.5"/>
<rect x="95.05" y="1307.30" width="36.15" height="17.65" fill="#000" stroke="#000" stroke-width="2.6" rx="1.5"/>
<text x="137.00" y="1279.50" font-size="15.7" transform="matrix(1 0 0 1.05 0 -63.975)">si Ctrl</text>
<text x="137.00" y="1300.00" font-size="15.7" transform="matrix(1 0 0 1.05 0 -65.000)">SERPINA3 si #1</text>
<text x="137.00" y="1320.75" font-size="15.7" transform="matrix(1 0 0 1.05 0 -66.038)">SERPINA3 si #2</text>
<text x="574.20" y="1014.50" font-size="21" font-weight="bold" transform="matrix(1 0 0 1.05 0 -50.725)">i</text>
<rect x="681.10" y="1154.96" width="32.80" height="33.79" fill="#fff" stroke="#000" stroke-width="2.2"/>
<rect x="732.85" y="1106.98" width="33.55" height="81.77" fill="#000" stroke="#000" stroke-width="2.2"/>
<rect x="822.35" y="1154.96" width="32.80" height="33.79" fill="#fff" stroke="#000" stroke-width="2.2"/>
<rect x="881.10" y="1100.27" width="34.05" height="88.48" fill="#000" stroke="#000" stroke-width="2.2"/>
<line x1="749.60" y1="1105.88" x2="749.60" y2="1096.49" stroke="#000" stroke-width="2.2"/>
<line x1="741.10" y1="1096.49" x2="758.10" y2="1096.49" stroke="#000" stroke-width="2.2"/>
<line x1="898.10" y1="1099.17" x2="898.10" y2="1084.07" stroke="#000" stroke-width="2.2"/>
<line x1="889.60" y1="1084.07" x2="906.60" y2="1084.07" stroke="#000" stroke-width="2.2"/>
<line x1="838.75" y1="1153.86" x2="838.75" y2="1151.85" stroke="#000" stroke-width="2.2"/>
<line x1="830.25" y1="1151.85" x2="847.25" y2="1151.85" stroke="#000" stroke-width="2.2"/>
<path d="M686.00 1150.20L690.30 1154.50L686.00 1158.80L681.70 1154.50Z" fill="#000"/>
<path d="M697.50 1150.20L701.80 1154.50L697.50 1158.80L693.20 1154.50Z" fill="#000"/>
<path d="M709.00 1150.20L713.30 1154.50L709.00 1158.80L704.70 1154.50Z" fill="#000"/>
<path d="M740.50 1101.20L744.80 1105.50L740.50 1109.80L736.20 1105.50Z" fill="#bdbdbd"/>
<path d="M749.60 1090.70L753.90 1095.00L749.60 1099.30L745.30 1095.00Z" fill="#bdbdbd"/>
<path d="M757.50 1093.20L761.80 1097.50L757.50 1101.80L753.20 1097.50Z" fill="#bdbdbd"/>
<path d="M749.60 1118.70L753.90 1123.00L749.60 1127.30L745.30 1123.00Z" fill="#bdbdbd"/>
<path d="M826.50 1146.70L830.80 1151.00L826.50 1155.30L822.20 1151.00Z" fill="#000"/>
<path d="M838.75 1146.70L843.05 1151.00L838.75 1155.30L834.45 1151.00Z" fill="#000"/>
<path d="M850.00 1151.20L854.30 1155.50L850.00 1159.80L845.70 1155.50Z" fill="#000"/>
<path d="M898.10 1074.70L902.40 1079.00L898.10 1083.30L893.80 1079.00Z" fill="#bdbdbd"/>
<path d="M898.10 1099.70L902.40 1104.00L898.10 1108.30L893.80 1104.00Z" fill="#bdbdbd"/>
<path d="M898.10 1112.70L902.40 1117.00L898.10 1121.30L893.80 1117.00Z" fill="#bdbdbd"/>
<line x1="644.50" y1="1054.50" x2="644.50" y2="1189.75" stroke="#000" stroke-width="2.2"/>
<line x1="643.50" y1="1188.75" x2="942.50" y2="1188.75" stroke="#000" stroke-width="2.2"/>
<line x1="639.50" y1="1188.75" x2="644.50" y2="1188.75" stroke="#000" stroke-width="1.8"/>
<text x="638.50" y="1194.25" font-size="16" text-anchor="end" transform="matrix(1 0 0 1.05 0 -59.713)">0</text>
<line x1="639.50" y1="1155.20" x2="644.50" y2="1155.20" stroke="#000" stroke-width="1.8"/>
<text x="638.50" y="1160.70" font-size="16" text-anchor="end" transform="matrix(1 0 0 1.05 0 -58.035)">1</text>
<line x1="639.50" y1="1121.65" x2="644.50" y2="1121.65" stroke="#000" stroke-width="1.8"/>
<text x="638.50" y="1127.15" font-size="16" text-anchor="end" transform="matrix(1 0 0 1.05 0 -56.358)">2</text>
<line x1="639.50" y1="1088.10" x2="644.50" y2="1088.10" stroke="#000" stroke-width="1.8"/>
<text x="638.50" y="1093.60" font-size="16" text-anchor="end" transform="matrix(1 0 0 1.05 0 -54.680)">3</text>
<line x1="639.50" y1="1054.55" x2="644.50" y2="1054.55" stroke="#000" stroke-width="1.8"/>
<text x="638.50" y="1060.05" font-size="16" text-anchor="end" transform="matrix(1 0 0 1.05 0 -53.003)">4</text>
<line x1="641.50" y1="1171.97" x2="644.50" y2="1171.97" stroke="#000" stroke-width="1.2"/>
<line x1="641.50" y1="1138.42" x2="644.50" y2="1138.42" stroke="#000" stroke-width="1.2"/>
<line x1="641.50" y1="1104.88" x2="644.50" y2="1104.88" stroke="#000" stroke-width="1.2"/>
<line x1="641.50" y1="1071.33" x2="644.50" y2="1071.33" stroke="#000" stroke-width="1.2"/>
<line x1="719.50" y1="1188.75" x2="719.50" y2="1193.25" stroke="#000" stroke-width="2"/>
<text x="719.50" y="1211.25" font-size="16" text-anchor="middle" transform="matrix(1 0 0 1.05 0 -60.563)">MCF-7</text>
<line x1="868.00" y1="1188.75" x2="868.00" y2="1193.25" stroke="#000" stroke-width="2"/>
<text x="868.00" y="1211.25" font-size="16" text-anchor="middle" transform="matrix(1 0 0 1.05 0 -60.563)">T47D</text>
<text x="603.50" y="1123.50" font-size="15.5" text-anchor="middle" textLength="200.00" lengthAdjust="spacingAndGlyphs" transform="rotate(-90 603.50 1123.50) matrix(1 0 0 1.05 0 -56.175)">ANKRD11 mRNA expression</text>
<text x="624.50" y="1121.20" font-size="15.5" text-anchor="middle" textLength="94.50" lengthAdjust="spacingAndGlyphs" transform="rotate(-90 624.50 1121.20) matrix(1 0 0 1.05 0 -56.060)">(Fold change)</text>
<line x1="697.00" y1="1090.00" x2="748.75" y2="1090.00" stroke="#000" stroke-width="2.4"/>
<text x="724.68" y="1094.99" font-size="21" text-anchor="middle" transform="matrix(1 0 0 1.05 0 -54.750)" letter-spacing="2.2">**</text>
<text x="722.88" y="1076.00" font-size="9.8" text-anchor="middle" fill="#222" font-style="italic" transform="matrix(1 0 0 1.05 0 -53.800)">P=0.0041</text>
<line x1="838.00" y1="1072.50" x2="898.75" y2="1072.50" stroke="#000" stroke-width="2.4"/>
<text x="870.18" y="1077.49" font-size="21" text-anchor="middle" transform="matrix(1 0 0 1.05 0 -53.875)" letter-spacing="2.2">**</text>
<text x="868.38" y="1059.50" font-size="9.8" text-anchor="middle" fill="#222" font-style="italic" transform="matrix(1 0 0 1.05 0 -52.975)">P=0.0082</text>
<rect x="672.55" y="1026.80" width="32.40" height="15.40" fill="#fff" stroke="#000" stroke-width="2.6" rx="1.5"/>
<rect x="672.55" y="1044.80" width="32.40" height="16.40" fill="#000" stroke="#000" stroke-width="2.6" rx="1.5"/>
<text x="711.25" y="1038.75" font-size="15.8" transform="matrix(1 0 0 1.05 0 -51.938)">Parent cells</text>
<text x="711.25" y="1057.50" font-size="15.8" transform="matrix(1 0 0 1.05 0 -52.875)">LTED cells</text>
<text x="574.80" y="1265.60" font-size="21" font-weight="bold" transform="matrix(1 0 0 1.05 0 -63.280)">j</text>
<text x="664.50" y="1317.50" font-size="15.5" transform="rotate(-30 664.50 1317.50) matrix(1 0 0 1.05 0 -65.875)">MCF-7</text>
<text x="729.50" y="1317.50" font-size="15.5" transform="rotate(-30 729.50 1317.50) matrix(1 0 0 1.05 0 -65.875)">MCF-7 LTED</text>
<text x="801.50" y="1318.00" font-size="15.5" transform="rotate(-30 801.50 1318.00) matrix(1 0 0 1.05 0 -65.900)">T47D</text>
<text x="865.00" y="1318.00" font-size="15.5" transform="rotate(-30 865.00 1318.00) matrix(1 0 0 1.05 0 -65.900)">T47D LTED</text>
<rect x="652.30" y="1323.10" width="137.70" height="34.80" fill="#f2f2f2"/>
<rect x="792.90" y="1323.10" width="137.80" height="34.80" fill="#f2f2f2"/>
<rect x="652.30" y="1360.80" width="137.70" height="34.80" fill="#efefef"/>
<rect x="792.90" y="1360.80" width="137.80" height="34.80" fill="#efefef"/>
<path d="M665.3 1337.7 L703.1 1337.7 A1.4 1.4 0 0 1 703.1 1340.5 L665.3 1340.5 A1.4 1.4 0 0 1 665.3 1337.7Z" fill="#a8a8a8" filter="url(#bl9)"/>
<path d="M731.6 1338.0 L777.8 1338.4 A2.1 2.1 0 0 1 777.8 1342.6 L731.6 1343.0 A2.5 2.5 0 0 1 731.6 1338.0Z" fill="#111" filter="url(#bl8)"/>
<path d="M805.9 1339.4 L845.1 1339.3 A1.5 1.5 0 0 1 845.1 1342.3 L805.9 1342.2 A1.4 1.4 0 0 1 805.9 1339.4Z" fill="#999" filter="url(#bl9)"/>
<path d="M870.8 1340.6 L916.8 1340.8 A2.2 2.2 0 0 1 916.8 1345.3 L870.8 1345.6 A2.5 2.5 0 0 1 870.8 1340.6Z" fill="#141414" filter="url(#bl8)"/>
<path d="M663.2 1378.0 L712.7 1378.4 A1.9 1.9 0 0 1 712.7 1382.2 L663.2 1382.5 A2.2 2.2 0 0 1 663.2 1378.0Z" fill="#3a3a3a" filter="url(#bl10)"/>
<path d="M730.7 1377.8 L779.4 1377.5 A1.9 1.9 0 0 1 779.4 1381.3 L730.7 1381.0 A1.6 1.6 0 0 1 730.7 1377.8Z" fill="#585858" filter="url(#bl10)"/>
<path d="M801.5 1374.0 L852.5 1374.0 A2.8 2.8 0 0 1 852.5 1379.5 L801.5 1379.5 A2.8 2.8 0 0 1 801.5 1374.0Z" fill="#151515" filter="url(#bl10)"/>
<path d="M871.8 1373.3 L920.1 1373.5 A3.2 3.2 0 0 1 920.1 1380.0 L871.8 1380.3 A3.5 3.5 0 0 1 871.8 1373.3Z" fill="#000" filter="url(#bl10)"/>
<text x="645.50" y="1344.50" font-size="15.4" text-anchor="end" transform="matrix(1 0 0 1.05 0 -67.225)">ANKRD11</text>
<text x="645.50" y="1384.50" font-size="15.4" text-anchor="end" transform="matrix(1 0 0 1.05 0 -69.225)">GAPDH</text>
<text x="952.70" y="1316.80" font-size="14.5" transform="matrix(1 0 0 1.05 0 -65.840)">kDa</text>
<line x1="936.40" y1="1355.90" x2="950.00" y2="1355.90" stroke="#000" stroke-width="2"/>
<text x="954.90" y="1360.90" font-size="14.5" transform="matrix(1 0 0 1.05 0 -68.045)">250</text>
<line x1="936.40" y1="1377.30" x2="950.00" y2="1377.30" stroke="#000" stroke-width="2"/>
<text x="954.90" y="1382.30" font-size="14.5" transform="matrix(1 0 0 1.05 0 -69.115)">35</text>
<rect x="683.60" y="1549.15" width="33.30" height="13.34" fill="#fff" stroke="#000" stroke-width="2.2"/>
<rect x="734.85" y="1490.71" width="34.05" height="71.79" fill="#000" stroke="#000" stroke-width="2.2"/>
<rect x="824.70" y="1549.56" width="33.10" height="12.94" fill="#fff" stroke="#000" stroke-width="2.2"/>
<rect x="884.70" y="1507.96" width="33.10" height="54.54" fill="#000" stroke="#000" stroke-width="2.2"/>
<line x1="751.90" y1="1489.61" x2="751.90" y2="1476.90" stroke="#000" stroke-width="2.2"/>
<line x1="742.65" y1="1476.90" x2="761.15" y2="1476.90" stroke="#000" stroke-width="2.2"/>
<line x1="901.25" y1="1506.86" x2="901.25" y2="1498.97" stroke="#000" stroke-width="2.2"/>
<line x1="892.00" y1="1498.97" x2="910.50" y2="1498.97" stroke="#000" stroke-width="2.2"/>
<path d="M689.00 1543.70L693.30 1548.00L689.00 1552.30L684.70 1548.00Z" fill="#000"/>
<path d="M700.25 1543.70L704.55 1548.00L700.25 1552.30L695.95 1548.00Z" fill="#000"/>
<path d="M711.50 1543.70L715.80 1548.00L711.50 1552.30L707.20 1548.00Z" fill="#000"/>
<path d="M751.90 1472.20L756.20 1476.50L751.90 1480.80L747.60 1476.50Z" fill="#bdbdbd"/>
<path d="M751.90 1485.20L756.20 1489.50L751.90 1493.80L747.60 1489.50Z" fill="#bdbdbd"/>
<path d="M751.90 1510.20L756.20 1514.50L751.90 1518.80L747.60 1514.50Z" fill="#bdbdbd"/>
<path d="M830.50 1544.70L834.80 1549.00L830.50 1553.30L826.20 1549.00Z" fill="#000"/>
<path d="M841.25 1544.70L845.55 1549.00L841.25 1553.30L836.95 1549.00Z" fill="#000"/>
<path d="M853.00 1544.70L857.30 1549.00L853.00 1553.30L848.70 1549.00Z" fill="#000"/>
<path d="M901.25 1492.70L905.55 1497.00L901.25 1501.30L896.95 1497.00Z" fill="#bdbdbd"/>
<path d="M892.00 1512.70L896.30 1517.00L892.00 1521.30L887.70 1517.00Z" fill="#bdbdbd"/>
<path d="M901.50 1512.70L905.80 1517.00L901.50 1521.30L897.20 1517.00Z" fill="#bdbdbd"/>
<path d="M910.00 1504.70L914.30 1509.00L910.00 1513.30L905.70 1509.00Z" fill="#bdbdbd"/>
<line x1="648.00" y1="1427.50" x2="648.00" y2="1563.50" stroke="#000" stroke-width="2.2"/>
<line x1="647.00" y1="1562.50" x2="945.30" y2="1562.50" stroke="#000" stroke-width="2.2"/>
<line x1="643.00" y1="1562.50" x2="648.00" y2="1562.50" stroke="#000" stroke-width="1.8"/>
<text x="642.00" y="1568.00" font-size="16" text-anchor="end" transform="matrix(1 0 0 1.05 0 -78.400)">0</text>
<line x1="643.00" y1="1535.75" x2="648.00" y2="1535.75" stroke="#000" stroke-width="1.8"/>
<text x="642.00" y="1541.25" font-size="16" text-anchor="end" transform="matrix(1 0 0 1.05 0 -77.063)">2</text>
<line x1="643.00" y1="1509.00" x2="648.00" y2="1509.00" stroke="#000" stroke-width="1.8"/>
<text x="642.00" y="1514.50" font-size="16" text-anchor="end" transform="matrix(1 0 0 1.05 0 -75.725)">4</text>
<line x1="643.00" y1="1482.25" x2="648.00" y2="1482.25" stroke="#000" stroke-width="1.8"/>
<text x="642.00" y="1487.75" font-size="16" text-anchor="end" transform="matrix(1 0 0 1.05 0 -74.388)">6</text>
<line x1="643.00" y1="1455.50" x2="648.00" y2="1455.50" stroke="#000" stroke-width="1.8"/>
<text x="642.00" y="1461.00" font-size="16" text-anchor="end" transform="matrix(1 0 0 1.05 0 -73.050)">8</text>
<line x1="643.00" y1="1428.75" x2="648.00" y2="1428.75" stroke="#000" stroke-width="1.8"/>
<text x="642.00" y="1434.25" font-size="16" text-anchor="end" transform="matrix(1 0 0 1.05 0 -71.713)">10</text>
<line x1="645.00" y1="1549.12" x2="648.00" y2="1549.12" stroke="#000" stroke-width="1.2"/>
<line x1="645.00" y1="1522.38" x2="648.00" y2="1522.38" stroke="#000" stroke-width="1.2"/>
<line x1="645.00" y1="1495.62" x2="648.00" y2="1495.62" stroke="#000" stroke-width="1.2"/>
<line x1="645.00" y1="1468.88" x2="648.00" y2="1468.88" stroke="#000" stroke-width="1.2"/>
<line x1="645.00" y1="1442.12" x2="648.00" y2="1442.12" stroke="#000" stroke-width="1.2"/>
<line x1="722.50" y1="1562.50" x2="722.50" y2="1567.00" stroke="#000" stroke-width="2"/>
<text x="722.50" y="1584.50" font-size="16" text-anchor="middle" transform="matrix(1 0 0 1.05 0 -79.225)">MCF-7</text>
<line x1="870.90" y1="1562.50" x2="870.90" y2="1567.00" stroke="#000" stroke-width="2"/>
<text x="870.90" y="1584.50" font-size="16" text-anchor="middle" transform="matrix(1 0 0 1.05 0 -79.225)">T47D</text>
<text x="598.00" y="1498.10" font-size="15.5" text-anchor="middle" textLength="151.25" lengthAdjust="spacingAndGlyphs" transform="rotate(-90 598.00 1498.10) matrix(1 0 0 1.05 0 -74.905)">ANKRD11 expression</text>
<text x="620.50" y="1494.25" font-size="15.5" text-anchor="middle" textLength="96.50" lengthAdjust="spacingAndGlyphs" transform="rotate(-90 620.50 1494.25) matrix(1 0 0 1.05 0 -74.713)">(Fold change)</text>
<line x1="700.00" y1="1468.75" x2="751.75" y2="1468.75" stroke="#000" stroke-width="2.4"/>
<text x="727.68" y="1473.74" font-size="21" text-anchor="middle" transform="matrix(1 0 0 1.05 0 -73.687)" letter-spacing="2.2">**</text>
<text x="725.88" y="1455.50" font-size="9.8" text-anchor="middle" fill="#222" font-style="italic" transform="matrix(1 0 0 1.05 0 -72.775)">P=0.0083</text>
<line x1="841.10" y1="1488.40" x2="902.10" y2="1488.40" stroke="#000" stroke-width="2.4"/>
<text x="873.40" y="1493.39" font-size="21" text-anchor="middle" transform="matrix(1 0 0 1.05 0 -74.670)" letter-spacing="2.2">**</text>
<text x="871.60" y="1475.20" font-size="9.8" text-anchor="middle" fill="#222" font-style="italic" transform="matrix(1 0 0 1.05 0 -73.760)">P=0.0020</text>
<rect x="675.05" y="1400.05" width="32.40" height="15.90" fill="#fff" stroke="#000" stroke-width="2.6" rx="1.5"/>
<rect x="675.05" y="1418.55" width="32.40" height="15.90" fill="#000" stroke="#000" stroke-width="2.6" rx="1.5"/>
<text x="713.75" y="1412.50" font-size="15.8" transform="matrix(1 0 0 1.05 0 -70.625)">Parent cells</text>
<text x="713.75" y="1431.25" font-size="15.8" transform="matrix(1 0 0 1.05 0 -71.563)">LTED cells</text>
<text x="0.10" y="1637.60" font-size="21" font-weight="bold" transform="matrix(1 0 0 1.05 0 -81.880)">k</text>
<text x="80.10" y="1666.40" font-size="16.2" textLength="187.70" lengthAdjust="spacingAndGlyphs" transform="matrix(1 0 0 1.05 0 -83.320)">SERPINA3 vs. ANKRD11</text>
<line x1="51.50" y1="1884.22" x2="300.00" y2="1884.22" stroke="#efefef" stroke-width="0.8" stroke-dasharray="4 3"/>
<line x1="51.50" y1="1865.86" x2="300.00" y2="1865.86" stroke="#efefef" stroke-width="0.8" stroke-dasharray="4 3"/>
<line x1="51.50" y1="1847.50" x2="300.00" y2="1847.50" stroke="#efefef" stroke-width="0.8" stroke-dasharray="4 3"/>
<line x1="51.50" y1="1829.14" x2="300.00" y2="1829.14" stroke="#efefef" stroke-width="0.8" stroke-dasharray="4 3"/>
<line x1="51.50" y1="1810.78" x2="300.00" y2="1810.78" stroke="#efefef" stroke-width="0.8" stroke-dasharray="4 3"/>
<line x1="51.50" y1="1792.42" x2="300.00" y2="1792.42" stroke="#efefef" stroke-width="0.8" stroke-dasharray="4 3"/>
<line x1="51.50" y1="1774.06" x2="300.00" y2="1774.06" stroke="#efefef" stroke-width="0.8" stroke-dasharray="4 3"/>
<line x1="51.50" y1="1755.70" x2="300.00" y2="1755.70" stroke="#efefef" stroke-width="0.8" stroke-dasharray="4 3"/>
<line x1="51.50" y1="1737.34" x2="300.00" y2="1737.34" stroke="#efefef" stroke-width="0.8" stroke-dasharray="4 3"/>
<line x1="51.50" y1="1718.98" x2="300.00" y2="1718.98" stroke="#efefef" stroke-width="0.8" stroke-dasharray="4 3"/>
<line x1="51.50" y1="1700.62" x2="300.00" y2="1700.62" stroke="#efefef" stroke-width="0.8" stroke-dasharray="4 3"/>
<line x1="71.90" y1="1686.00" x2="71.90" y2="1885.50" stroke="#efefef" stroke-width="0.8" stroke-dasharray="4 3"/>
<line x1="93.10" y1="1686.00" x2="93.10" y2="1885.50" stroke="#efefef" stroke-width="0.8" stroke-dasharray="4 3"/>
<line x1="114.30" y1="1686.00" x2="114.30" y2="1885.50" stroke="#efefef" stroke-width="0.8" stroke-dasharray="4 3"/>
<line x1="135.50" y1="1686.00" x2="135.50" y2="1885.50" stroke="#efefef" stroke-width="0.8" stroke-dasharray="4 3"/>
<line x1="156.70" y1="1686.00" x2="156.70" y2="1885.50" stroke="#efefef" stroke-width="0.8" stroke-dasharray="4 3"/>
<line x1="177.90" y1="1686.00" x2="177.90" y2="1885.50" stroke="#efefef" stroke-width="0.8" stroke-dasharray="4 3"/>
<line x1="199.10" y1="1686.00" x2="199.10" y2="1885.50" stroke="#efefef" stroke-width="0.8" stroke-dasharray="4 3"/>
<line x1="220.30" y1="1686.00" x2="220.30" y2="1885.50" stroke="#efefef" stroke-width="0.8" stroke-dasharray="4 3"/>
<line x1="241.50" y1="1686.00" x2="241.50" y2="1885.50" stroke="#efefef" stroke-width="0.8" stroke-dasharray="4 3"/>
<line x1="262.70" y1="1686.00" x2="262.70" y2="1885.50" stroke="#efefef" stroke-width="0.8" stroke-dasharray="4 3"/>
<line x1="283.90" y1="1686.00" x2="283.90" y2="1885.50" stroke="#efefef" stroke-width="0.8" stroke-dasharray="4 3"/>
<g fill="#4d9ff0" stroke="#1f7ee0" stroke-width="0.7"><ellipse cx="225.7" cy="1755.6" rx="2.7" ry="2.1"/><ellipse cx="220.5" cy="1778.9" rx="2.7" ry="2.1"/><ellipse cx="260.7" cy="1781.0" rx="2.7" ry="2.1"/><ellipse cx="253.4" cy="1776.6" rx="2.7" ry="2.1"/><ellipse cx="263.0" cy="1789.0" rx="2.7" ry="2.1"/><ellipse cx="173.7" cy="1798.9" rx="2.7" ry="2.1"/><ellipse cx="143.8" cy="1736.1" rx="2.7" ry="2.1"/><ellipse cx="245.7" cy="1789.8" rx="2.7" ry="2.1"/><ellipse cx="238.7" cy="1767.8" rx="2.7" ry="2.1"/><ellipse cx="243.5" cy="1757.8" rx="2.7" ry="2.1"/><ellipse cx="223.9" cy="1760.1" rx="2.7" ry="2.1"/><ellipse cx="238.9" cy="1773.5" rx="2.7" ry="2.1"/><ellipse cx="229.8" cy="1769.9" rx="2.7" ry="2.1"/><ellipse cx="228.0" cy="1772.1" rx="2.7" ry="2.1"/><ellipse cx="263.2" cy="1793.4" rx="2.7" ry="2.1"/><ellipse cx="153.9" cy="1771.6" rx="2.7" ry="2.1"/><ellipse cx="237.1" cy="1730.6" rx="2.7" ry="2.1"/><ellipse cx="187.7" cy="1756.4" rx="2.7" ry="2.1"/><ellipse cx="260.4" cy="1780.4" rx="2.7" ry="2.1"/><ellipse cx="270.4" cy="1804.6" rx="2.7" ry="2.1"/><ellipse cx="240.8" cy="1753.5" rx="2.7" ry="2.1"/><ellipse cx="218.2" cy="1784.1" rx="2.7" ry="2.1"/><ellipse cx="212.2" cy="1780.8" rx="2.7" ry="2.1"/><ellipse cx="189.0" cy="1760.9" rx="2.7" ry="2.1"/><ellipse cx="163.6" cy="1768.7" rx="2.7" ry="2.1"/><ellipse cx="208.9" cy="1756.8" rx="2.7" ry="2.1"/><ellipse cx="241.5" cy="1775.7" rx="2.7" ry="2.1"/><ellipse cx="179.7" cy="1758.9" rx="2.7" ry="2.1"/><ellipse cx="276.8" cy="1765.9" rx="2.7" ry="2.1"/><ellipse cx="219.0" cy="1765.9" rx="2.7" ry="2.1"/><ellipse cx="193.2" cy="1792.8" rx="2.7" ry="2.1"/><ellipse cx="266.4" cy="1764.0" rx="2.7" ry="2.1"/><ellipse cx="162.2" cy="1796.0" rx="2.7" ry="2.1"/><ellipse cx="257.7" cy="1769.2" rx="2.7" ry="2.1"/><ellipse cx="196.1" cy="1769.7" rx="2.7" ry="2.1"/><ellipse cx="213.7" cy="1773.8" rx="2.7" ry="2.1"/><ellipse cx="138.7" cy="1781.2" rx="2.7" ry="2.1"/><ellipse cx="192.9" cy="1773.7" rx="2.7" ry="2.1"/><ellipse cx="153.4" cy="1753.6" rx="2.7" ry="2.1"/><ellipse cx="200.2" cy="1794.3" rx="2.7" ry="2.1"/><ellipse cx="254.6" cy="1775.2" rx="2.7" ry="2.1"/><ellipse cx="256.5" cy="1777.8" rx="2.7" ry="2.1"/><ellipse cx="248.4" cy="1765.7" rx="2.7" ry="2.1"/><ellipse cx="242.5" cy="1778.3" rx="2.7" ry="2.1"/><ellipse cx="268.6" cy="1778.9" rx="2.7" ry="2.1"/><ellipse cx="251.4" cy="1786.0" rx="2.7" ry="2.1"/><ellipse cx="244.1" cy="1765.1" rx="2.7" ry="2.1"/><ellipse cx="164.8" cy="1811.8" rx="2.7" ry="2.1"/><ellipse cx="251.8" cy="1778.8" rx="2.7" ry="2.1"/><ellipse cx="251.2" cy="1768.2" rx="2.7" ry="2.1"/><ellipse cx="270.7" cy="1779.0" rx="2.7" ry="2.1"/><ellipse cx="243.6" cy="1780.2" rx="2.7" ry="2.1"/><ellipse cx="203.5" cy="1769.3" rx="2.7" ry="2.1"/><ellipse cx="215.7" cy="1794.7" rx="2.7" ry="2.1"/><ellipse cx="252.8" cy="1772.0" rx="2.7" ry="2.1"/><ellipse cx="173.1" cy="1774.8" rx="2.7" ry="2.1"/><ellipse cx="258.8" cy="1749.5" rx="2.7" ry="2.1"/><ellipse cx="210.8" cy="1798.9" rx="2.7" ry="2.1"/><ellipse cx="274.9" cy="1795.1" rx="2.7" ry="2.1"/><ellipse cx="268.5" cy="1778.6" rx="2.7" ry="2.1"/><ellipse cx="269.0" cy="1768.8" rx="2.7" ry="2.1"/><ellipse cx="213.3" cy="1779.3" rx="2.7" ry="2.1"/><ellipse cx="125.0" cy="1765.2" rx="2.7" ry="2.1"/><ellipse cx="269.6" cy="1769.9" rx="2.7" ry="2.1"/><ellipse cx="253.4" cy="1756.6" rx="2.7" ry="2.1"/><ellipse cx="239.9" cy="1794.6" rx="2.7" ry="2.1"/><ellipse cx="269.8" cy="1789.0" rx="2.7" ry="2.1"/><ellipse cx="187.2" cy="1786.8" rx="2.7" ry="2.1"/><ellipse cx="239.5" cy="1776.4" rx="2.7" ry="2.1"/><ellipse cx="223.0" cy="1748.7" rx="2.7" ry="2.1"/><ellipse cx="228.3" cy="1765.7" rx="2.7" ry="2.1"/><ellipse cx="271.8" cy="1792.8" rx="2.7" ry="2.1"/><ellipse cx="200.1" cy="1742.0" rx="2.7" ry="2.1"/><ellipse cx="207.9" cy="1747.8" rx="2.7" ry="2.1"/><ellipse cx="246.3" cy="1792.2" rx="2.7" ry="2.1"/><ellipse cx="270.6" cy="1780.0" rx="2.7" ry="2.1"/><ellipse cx="233.4" cy="1794.1" rx="2.7" ry="2.1"/><ellipse cx="163.7" cy="1753.2" rx="2.7" ry="2.1"/><ellipse cx="266.4" cy="1768.8" rx="2.7" ry="2.1"/><ellipse cx="272.9" cy="1759.6" rx="2.7" ry="2.1"/><ellipse cx="249.3" cy="1774.8" rx="2.7" ry="2.1"/><ellipse cx="236.4" cy="1762.3" rx="2.7" ry="2.1"/><ellipse cx="224.8" cy="1786.0" rx="2.7" ry="2.1"/><ellipse cx="202.0" cy="1772.9" rx="2.7" ry="2.1"/><ellipse cx="212.0" cy="1771.9" rx="2.7" ry="2.1"/><ellipse cx="167.6" cy="1767.1" rx="2.7" ry="2.1"/><ellipse cx="180.3" cy="1765.1" rx="2.7" ry="2.1"/><ellipse cx="243.6" cy="1759.9" rx="2.7" ry="2.1"/><ellipse cx="271.5" cy="1790.3" rx="2.7" ry="2.1"/><ellipse cx="277.3" cy="1769.2" rx="2.7" ry="2.1"/><ellipse cx="198.8" cy="1773.3" rx="2.7" ry="2.1"/><ellipse cx="221.0" cy="1785.1" rx="2.7" ry="2.1"/><ellipse cx="204.1" cy="1773.7" rx="2.7" ry="2.1"/><ellipse cx="205.2" cy="1766.8" rx="2.7" ry="2.1"/><ellipse cx="188.8" cy="1780.5" rx="2.7" ry="2.1"/><ellipse cx="233.2" cy="1781.7" rx="2.7" ry="2.1"/><ellipse cx="167.4" cy="1779.4" rx="2.7" ry="2.1"/><ellipse cx="229.8" cy="1763.6" rx="2.7" ry="2.1"/><ellipse cx="276.3" cy="1776.3" rx="2.7" ry="2.1"/><ellipse cx="250.0" cy="1815.3" rx="2.7" ry="2.1"/><ellipse cx="258.6" cy="1805.3" rx="2.7" ry="2.1"/><ellipse cx="158.4" cy="1797.0" rx="2.7" ry="2.1"/><ellipse cx="218.5" cy="1780.1" rx="2.7" ry="2.1"/><ellipse cx="161.7" cy="1769.2" rx="2.7" ry="2.1"/><ellipse cx="210.4" cy="1765.2" rx="2.7" ry="2.1"/><ellipse cx="259.7" cy="1766.4" rx="2.7" ry="2.1"/><ellipse cx="200.2" cy="1769.7" rx="2.7" ry="2.1"/><ellipse cx="222.9" cy="1773.8" rx="2.7" ry="2.1"/><ellipse cx="255.4" cy="1780.6" rx="2.7" ry="2.1"/><ellipse cx="238.5" cy="1822.5" rx="2.7" ry="2.1"/><ellipse cx="276.0" cy="1778.0" rx="2.7" ry="2.1"/><ellipse cx="273.6" cy="1773.6" rx="2.7" ry="2.1"/><ellipse cx="181.2" cy="1786.7" rx="2.7" ry="2.1"/><ellipse cx="196.2" cy="1740.6" rx="2.7" ry="2.1"/><ellipse cx="269.6" cy="1789.1" rx="2.7" ry="2.1"/><ellipse cx="253.2" cy="1796.6" rx="2.7" ry="2.1"/><ellipse cx="197.0" cy="1781.2" rx="2.7" ry="2.1"/><ellipse cx="173.0" cy="1751.6" rx="2.7" ry="2.1"/><ellipse cx="233.7" cy="1791.5" rx="2.7" ry="2.1"/><ellipse cx="144.9" cy="1777.7" rx="2.7" ry="2.1"/><ellipse cx="226.0" cy="1760.7" rx="2.7" ry="2.1"/><ellipse cx="249.5" cy="1772.8" rx="2.7" ry="2.1"/><ellipse cx="261.9" cy="1766.7" rx="2.7" ry="2.1"/><ellipse cx="274.7" cy="1797.0" rx="2.7" ry="2.1"/><ellipse cx="252.9" cy="1765.4" rx="2.7" ry="2.1"/><ellipse cx="277.7" cy="1780.1" rx="2.7" ry="2.1"/><ellipse cx="239.9" cy="1781.5" rx="2.7" ry="2.1"/><ellipse cx="251.0" cy="1782.7" rx="2.7" ry="2.1"/><ellipse cx="212.3" cy="1765.8" rx="2.7" ry="2.1"/><ellipse cx="220.5" cy="1762.5" rx="2.7" ry="2.1"/><ellipse cx="221.7" cy="1777.2" rx="2.7" ry="2.1"/><ellipse cx="254.2" cy="1803.5" rx="2.7" ry="2.1"/><ellipse cx="265.9" cy="1776.8" rx="2.7" ry="2.1"/><ellipse cx="186.5" cy="1758.3" rx="2.7" ry="2.1"/><ellipse cx="264.3" cy="1775.1" rx="2.7" ry="2.1"/><ellipse cx="214.8" cy="1793.1" rx="2.7" ry="2.1"/><ellipse cx="275.2" cy="1768.5" rx="2.7" ry="2.1"/><ellipse cx="241.1" cy="1762.4" rx="2.7" ry="2.1"/><ellipse cx="117.5" cy="1772.0" rx="2.7" ry="2.1"/><ellipse cx="272.2" cy="1737.6" rx="2.7" ry="2.1"/><ellipse cx="276.0" cy="1782.3" rx="2.7" ry="2.1"/><ellipse cx="206.0" cy="1770.0" rx="2.7" ry="2.1"/><ellipse cx="271.6" cy="1782.4" rx="2.7" ry="2.1"/><ellipse cx="225.2" cy="1766.6" rx="2.7" ry="2.1"/><ellipse cx="225.9" cy="1773.9" rx="2.7" ry="2.1"/><ellipse cx="212.9" cy="1785.0" rx="2.7" ry="2.1"/><ellipse cx="224.2" cy="1798.6" rx="2.7" ry="2.1"/><ellipse cx="235.7" cy="1767.5" rx="2.7" ry="2.1"/><ellipse cx="219.5" cy="1752.7" rx="2.7" ry="2.1"/><ellipse cx="165.3" cy="1758.7" rx="2.7" ry="2.1"/><ellipse cx="208.0" cy="1793.7" rx="2.7" ry="2.1"/><ellipse cx="229.7" cy="1760.4" rx="2.7" ry="2.1"/><ellipse cx="221.2" cy="1802.2" rx="2.7" ry="2.1"/><ellipse cx="165.5" cy="1786.0" rx="2.7" ry="2.1"/><ellipse cx="262.2" cy="1792.7" rx="2.7" ry="2.1"/><ellipse cx="238.7" cy="1765.6" rx="2.7" ry="2.1"/><ellipse cx="237.4" cy="1796.5" rx="2.7" ry="2.1"/><ellipse cx="212.5" cy="1792.7" rx="2.7" ry="2.1"/><ellipse cx="167.8" cy="1767.3" rx="2.7" ry="2.1"/><ellipse cx="201.6" cy="1773.0" rx="2.7" ry="2.1"/><ellipse cx="185.8" cy="1759.1" rx="2.7" ry="2.1"/><ellipse cx="234.6" cy="1771.1" rx="2.7" ry="2.1"/><ellipse cx="249.7" cy="1752.1" rx="2.7" ry="2.1"/><ellipse cx="217.4" cy="1774.2" rx="2.7" ry="2.1"/><ellipse cx="235.3" cy="1804.2" rx="2.7" ry="2.1"/><ellipse cx="262.3" cy="1786.4" rx="2.7" ry="2.1"/><ellipse cx="275.2" cy="1754.4" rx="2.7" ry="2.1"/><ellipse cx="268.9" cy="1783.1" rx="2.7" ry="2.1"/><ellipse cx="266.9" cy="1756.1" rx="2.7" ry="2.1"/><ellipse cx="254.8" cy="1792.8" rx="2.7" ry="2.1"/><ellipse cx="210.5" cy="1769.6" rx="2.7" ry="2.1"/><ellipse cx="245.5" cy="1785.8" rx="2.7" ry="2.1"/><ellipse cx="267.1" cy="1783.0" rx="2.7" ry="2.1"/><ellipse cx="209.1" cy="1814.7" rx="2.7" ry="2.1"/><ellipse cx="272.8" cy="1770.7" rx="2.7" ry="2.1"/><ellipse cx="257.9" cy="1758.3" rx="2.7" ry="2.1"/><ellipse cx="127.6" cy="1768.8" rx="2.7" ry="2.1"/><ellipse cx="246.4" cy="1797.4" rx="2.7" ry="2.1"/><ellipse cx="264.8" cy="1793.4" rx="2.7" ry="2.1"/><ellipse cx="264.0" cy="1780.9" rx="2.7" ry="2.1"/><ellipse cx="122.3" cy="1775.6" rx="2.7" ry="2.1"/><ellipse cx="261.8" cy="1789.3" rx="2.7" ry="2.1"/><ellipse cx="233.2" cy="1748.2" rx="2.7" ry="2.1"/><ellipse cx="276.6" cy="1754.3" rx="2.7" ry="2.1"/><ellipse cx="181.6" cy="1758.2" rx="2.7" ry="2.1"/><ellipse cx="248.2" cy="1828.6" rx="2.7" ry="2.1"/><ellipse cx="137.2" cy="1775.4" rx="2.7" ry="2.1"/><ellipse cx="227.8" cy="1768.6" rx="2.7" ry="2.1"/><ellipse cx="269.2" cy="1791.0" rx="2.7" ry="2.1"/><ellipse cx="137.3" cy="1765.7" rx="2.7" ry="2.1"/><ellipse cx="204.5" cy="1803.2" rx="2.7" ry="2.1"/><ellipse cx="167.9" cy="1758.7" rx="2.7" ry="2.1"/><ellipse cx="197.4" cy="1751.7" rx="2.7" ry="2.1"/><ellipse cx="249.5" cy="1752.6" rx="2.7" ry="2.1"/><ellipse cx="247.2" cy="1778.5" rx="2.7" ry="2.1"/><ellipse cx="189.3" cy="1733.3" rx="2.7" ry="2.1"/><ellipse cx="235.1" cy="1792.9" rx="2.7" ry="2.1"/><ellipse cx="267.9" cy="1785.1" rx="2.7" ry="2.1"/><ellipse cx="109.9" cy="1768.0" rx="2.7" ry="2.1"/><ellipse cx="234.5" cy="1785.4" rx="2.7" ry="2.1"/><ellipse cx="254.8" cy="1770.2" rx="2.7" ry="2.1"/><ellipse cx="148.7" cy="1758.3" rx="2.7" ry="2.1"/><ellipse cx="146.3" cy="1774.0" rx="2.7" ry="2.1"/><ellipse cx="267.3" cy="1768.4" rx="2.7" ry="2.1"/><ellipse cx="247.4" cy="1778.1" rx="2.7" ry="2.1"/><ellipse cx="230.3" cy="1754.8" rx="2.7" ry="2.1"/><ellipse cx="211.1" cy="1792.0" rx="2.7" ry="2.1"/><ellipse cx="239.1" cy="1781.1" rx="2.7" ry="2.1"/><ellipse cx="259.0" cy="1771.8" rx="2.7" ry="2.1"/><ellipse cx="271.3" cy="1805.9" rx="2.7" ry="2.1"/><ellipse cx="188.6" cy="1772.5" rx="2.7" ry="2.1"/><ellipse cx="231.7" cy="1817.1" rx="2.7" ry="2.1"/><ellipse cx="226.8" cy="1773.6" rx="2.7" ry="2.1"/><ellipse cx="268.5" cy="1791.1" rx="2.7" ry="2.1"/><ellipse cx="151.2" cy="1765.9" rx="2.7" ry="2.1"/><ellipse cx="277.1" cy="1754.2" rx="2.7" ry="2.1"/><ellipse cx="226.7" cy="1763.3" rx="2.7" ry="2.1"/><ellipse cx="269.7" cy="1770.2" rx="2.7" ry="2.1"/><ellipse cx="216.1" cy="1748.9" rx="2.7" ry="2.1"/><ellipse cx="242.4" cy="1776.5" rx="2.7" ry="2.1"/><ellipse cx="210.0" cy="1744.6" rx="2.7" ry="2.1"/><ellipse cx="251.3" cy="1757.7" rx="2.7" ry="2.1"/><ellipse cx="235.0" cy="1768.1" rx="2.7" ry="2.1"/><ellipse cx="244.0" cy="1781.2" rx="2.7" ry="2.1"/><ellipse cx="249.3" cy="1801.8" rx="2.7" ry="2.1"/><ellipse cx="265.3" cy="1777.6" rx="2.7" ry="2.1"/><ellipse cx="106.5" cy="1736.4" rx="2.7" ry="2.1"/><ellipse cx="192.2" cy="1777.7" rx="2.7" ry="2.1"/><ellipse cx="233.3" cy="1775.1" rx="2.7" ry="2.1"/><ellipse cx="184.6" cy="1776.9" rx="2.7" ry="2.1"/><ellipse cx="206.2" cy="1770.5" rx="2.7" ry="2.1"/><ellipse cx="236.2" cy="1771.0" rx="2.7" ry="2.1"/><ellipse cx="238.4" cy="1783.3" rx="2.7" ry="2.1"/><ellipse cx="244.0" cy="1763.2" rx="2.7" ry="2.1"/><ellipse cx="242.5" cy="1749.1" rx="2.7" ry="2.1"/><ellipse cx="236.1" cy="1777.8" rx="2.7" ry="2.1"/><ellipse cx="234.7" cy="1747.6" rx="2.7" ry="2.1"/><ellipse cx="259.2" cy="1751.9" rx="2.7" ry="2.1"/><ellipse cx="209.0" cy="1779.7" rx="2.7" ry="2.1"/><ellipse cx="267.1" cy="1764.0" rx="2.7" ry="2.1"/><ellipse cx="244.9" cy="1781.7" rx="2.7" ry="2.1"/><ellipse cx="239.4" cy="1732.5" rx="2.7" ry="2.1"/><ellipse cx="257.2" cy="1778.4" rx="2.7" ry="2.1"/><ellipse cx="175.4" cy="1790.4" rx="2.7" ry="2.1"/><ellipse cx="135.3" cy="1764.1" rx="2.7" ry="2.1"/><ellipse cx="220.9" cy="1738.1" rx="2.7" ry="2.1"/><ellipse cx="188.7" cy="1765.8" rx="2.7" ry="2.1"/><ellipse cx="239.0" cy="1766.8" rx="2.7" ry="2.1"/><ellipse cx="227.9" cy="1776.0" rx="2.7" ry="2.1"/><ellipse cx="247.4" cy="1781.4" rx="2.7" ry="2.1"/><ellipse cx="262.4" cy="1765.4" rx="2.7" ry="2.1"/><ellipse cx="249.1" cy="1795.7" rx="2.7" ry="2.1"/><ellipse cx="219.2" cy="1772.3" rx="2.7" ry="2.1"/><ellipse cx="257.2" cy="1764.9" rx="2.7" ry="2.1"/><ellipse cx="215.6" cy="1771.2" rx="2.7" ry="2.1"/><ellipse cx="275.9" cy="1787.9" rx="2.7" ry="2.1"/><ellipse cx="150.1" cy="1750.6" rx="2.7" ry="2.1"/><ellipse cx="275.5" cy="1819.8" rx="2.7" ry="2.1"/><ellipse cx="256.1" cy="1737.2" rx="2.7" ry="2.1"/><ellipse cx="270.3" cy="1754.8" rx="2.7" ry="2.1"/><ellipse cx="276.9" cy="1781.6" rx="2.7" ry="2.1"/><ellipse cx="202.3" cy="1785.0" rx="2.7" ry="2.1"/><ellipse cx="233.4" cy="1775.1" rx="2.7" ry="2.1"/><ellipse cx="130.8" cy="1774.3" rx="2.7" ry="2.1"/><ellipse cx="277.3" cy="1764.8" rx="2.7" ry="2.1"/><ellipse cx="242.6" cy="1783.1" rx="2.7" ry="2.1"/><ellipse cx="269.5" cy="1814.0" rx="2.7" ry="2.1"/><ellipse cx="234.9" cy="1786.8" rx="2.7" ry="2.1"/><ellipse cx="208.3" cy="1750.6" rx="2.7" ry="2.1"/><ellipse cx="244.3" cy="1751.2" rx="2.7" ry="2.1"/><ellipse cx="262.9" cy="1779.3" rx="2.7" ry="2.1"/><ellipse cx="198.8" cy="1729.3" rx="2.7" ry="2.1"/><ellipse cx="229.6" cy="1777.5" rx="2.7" ry="2.1"/><ellipse cx="218.3" cy="1763.4" rx="2.7" ry="2.1"/><ellipse cx="235.3" cy="1773.2" rx="2.7" ry="2.1"/><ellipse cx="210.7" cy="1791.6" rx="2.7" ry="2.1"/><ellipse cx="225.7" cy="1796.9" rx="2.7" ry="2.1"/><ellipse cx="250.0" cy="1791.4" rx="2.7" ry="2.1"/><ellipse cx="207.5" cy="1753.2" rx="2.7" ry="2.1"/><ellipse cx="277.0" cy="1770.1" rx="2.7" ry="2.1"/><ellipse cx="217.4" cy="1789.9" rx="2.7" ry="2.1"/><ellipse cx="125.1" cy="1729.2" rx="2.7" ry="2.1"/><ellipse cx="264.7" cy="1750.2" rx="2.7" ry="2.1"/><ellipse cx="249.2" cy="1779.7" rx="2.7" ry="2.1"/><ellipse cx="228.2" cy="1806.3" rx="2.7" ry="2.1"/><ellipse cx="228.1" cy="1772.7" rx="2.7" ry="2.1"/><ellipse cx="216.5" cy="1731.6" rx="2.7" ry="2.1"/><ellipse cx="224.0" cy="1782.8" rx="2.7" ry="2.1"/><ellipse cx="232.4" cy="1772.7" rx="2.7" ry="2.1"/><ellipse cx="250.3" cy="1782.1" rx="2.7" ry="2.1"/><ellipse cx="246.3" cy="1787.1" rx="2.7" ry="2.1"/><ellipse cx="251.5" cy="1770.5" rx="2.7" ry="2.1"/><ellipse cx="205.3" cy="1787.8" rx="2.7" ry="2.1"/><ellipse cx="223.1" cy="1774.5" rx="2.7" ry="2.1"/><ellipse cx="256.6" cy="1766.5" rx="2.7" ry="2.1"/><ellipse cx="256.0" cy="1801.0" rx="2.7" ry="2.1"/><ellipse cx="228.1" cy="1766.0" rx="2.7" ry="2.1"/><ellipse cx="260.5" cy="1786.6" rx="2.7" ry="2.1"/><ellipse cx="256.5" cy="1796.9" rx="2.7" ry="2.1"/><ellipse cx="223.9" cy="1735.8" rx="2.7" ry="2.1"/><ellipse cx="224.9" cy="1782.4" rx="2.7" ry="2.1"/><ellipse cx="141.3" cy="1808.1" rx="2.7" ry="2.1"/><ellipse cx="245.4" cy="1752.4" rx="2.7" ry="2.1"/><ellipse cx="145.4" cy="1763.5" rx="2.7" ry="2.1"/><ellipse cx="250.9" cy="1795.4" rx="2.7" ry="2.1"/><ellipse cx="242.2" cy="1775.7" rx="2.7" ry="2.1"/><ellipse cx="194.3" cy="1779.5" rx="2.7" ry="2.1"/><ellipse cx="205.0" cy="1760.3" rx="2.7" ry="2.1"/><ellipse cx="243.2" cy="1778.7" rx="2.7" ry="2.1"/><ellipse cx="138.8" cy="1769.1" rx="2.7" ry="2.1"/><ellipse cx="166.8" cy="1765.9" rx="2.7" ry="2.1"/><ellipse cx="267.3" cy="1773.2" rx="2.7" ry="2.1"/><ellipse cx="208.0" cy="1776.5" rx="2.7" ry="2.1"/><ellipse cx="223.2" cy="1783.3" rx="2.7" ry="2.1"/><ellipse cx="194.3" cy="1793.7" rx="2.7" ry="2.1"/><ellipse cx="268.0" cy="1793.7" rx="2.7" ry="2.1"/><ellipse cx="211.9" cy="1800.7" rx="2.7" ry="2.1"/><ellipse cx="265.4" cy="1764.4" rx="2.7" ry="2.1"/><ellipse cx="254.3" cy="1774.0" rx="2.7" ry="2.1"/><ellipse cx="257.1" cy="1816.7" rx="2.7" ry="2.1"/><ellipse cx="182.1" cy="1781.0" rx="2.7" ry="2.1"/><ellipse cx="261.5" cy="1788.3" rx="2.7" ry="2.1"/><ellipse cx="195.6" cy="1779.3" rx="2.7" ry="2.1"/><ellipse cx="206.5" cy="1762.3" rx="2.7" ry="2.1"/><ellipse cx="241.5" cy="1793.9" rx="2.7" ry="2.1"/><ellipse cx="193.2" cy="1768.0" rx="2.7" ry="2.1"/><ellipse cx="268.1" cy="1752.6" rx="2.7" ry="2.1"/><ellipse cx="240.4" cy="1775.2" rx="2.7" ry="2.1"/><ellipse cx="252.5" cy="1774.0" rx="2.7" ry="2.1"/><ellipse cx="222.0" cy="1765.3" rx="2.7" ry="2.1"/><ellipse cx="193.1" cy="1765.2" rx="2.7" ry="2.1"/><ellipse cx="266.7" cy="1811.4" rx="2.7" ry="2.1"/><ellipse cx="209.1" cy="1766.8" rx="2.7" ry="2.1"/><ellipse cx="246.0" cy="1781.6" rx="2.7" ry="2.1"/><ellipse cx="178.0" cy="1770.0" rx="2.7" ry="2.1"/><ellipse cx="217.5" cy="1729.0" rx="2.7" ry="2.1"/><ellipse cx="145.9" cy="1775.2" rx="2.7" ry="2.1"/><ellipse cx="243.8" cy="1817.2" rx="2.7" ry="2.1"/><ellipse cx="216.5" cy="1751.3" rx="2.7" ry="2.1"/><ellipse cx="238.5" cy="1786.1" rx="2.7" ry="2.1"/><ellipse cx="232.7" cy="1760.9" rx="2.7" ry="2.1"/><ellipse cx="265.3" cy="1768.4" rx="2.7" ry="2.1"/><ellipse cx="270.6" cy="1777.9" rx="2.7" ry="2.1"/><ellipse cx="201.3" cy="1738.2" rx="2.7" ry="2.1"/><ellipse cx="248.1" cy="1785.5" rx="2.7" ry="2.1"/><ellipse cx="221.0" cy="1761.3" rx="2.7" ry="2.1"/><ellipse cx="198.2" cy="1745.1" rx="2.7" ry="2.1"/><ellipse cx="166.2" cy="1784.9" rx="2.7" ry="2.1"/><ellipse cx="191.1" cy="1772.2" rx="2.7" ry="2.1"/><ellipse cx="263.5" cy="1794.1" rx="2.7" ry="2.1"/><ellipse cx="226.3" cy="1783.7" rx="2.7" ry="2.1"/><ellipse cx="241.9" cy="1774.4" rx="2.7" ry="2.1"/><ellipse cx="169.1" cy="1758.6" rx="2.7" ry="2.1"/><ellipse cx="164.3" cy="1805.6" rx="2.7" ry="2.1"/><ellipse cx="250.2" cy="1792.2" rx="2.7" ry="2.1"/><ellipse cx="84.4" cy="1742.3" rx="2.7" ry="2.1"/><ellipse cx="209.1" cy="1810.2" rx="2.7" ry="2.1"/><ellipse cx="267.3" cy="1778.1" rx="2.7" ry="2.1"/><ellipse cx="189.2" cy="1754.7" rx="2.7" ry="2.1"/><ellipse cx="276.8" cy="1790.7" rx="2.7" ry="2.1"/><ellipse cx="243.5" cy="1788.3" rx="2.7" ry="2.1"/><ellipse cx="255.7" cy="1789.3" rx="2.7" ry="2.1"/><ellipse cx="272.5" cy="1782.1" rx="2.7" ry="2.1"/><ellipse cx="242.8" cy="1800.9" rx="2.7" ry="2.1"/><ellipse cx="182.7" cy="1781.0" rx="2.7" ry="2.1"/><ellipse cx="134.9" cy="1755.6" rx="2.7" ry="2.1"/><ellipse cx="225.5" cy="1755.9" rx="2.7" ry="2.1"/><ellipse cx="185.4" cy="1781.2" rx="2.7" ry="2.1"/><ellipse cx="262.6" cy="1784.0" rx="2.7" ry="2.1"/><ellipse cx="240.1" cy="1770.9" rx="2.7" ry="2.1"/><ellipse cx="276.0" cy="1785.6" rx="2.7" ry="2.1"/><ellipse cx="246.0" cy="1782.2" rx="2.7" ry="2.1"/><ellipse cx="220.8" cy="1788.2" rx="2.7" ry="2.1"/><ellipse cx="262.9" cy="1791.0" rx="2.7" ry="2.1"/><ellipse cx="271.7" cy="1777.2" rx="2.7" ry="2.1"/><ellipse cx="257.7" cy="1807.2" rx="2.7" ry="2.1"/><ellipse cx="151.4" cy="1766.3" rx="2.7" ry="2.1"/><ellipse cx="209.0" cy="1785.4" rx="2.7" ry="2.1"/><ellipse cx="264.8" cy="1780.8" rx="2.7" ry="2.1"/><ellipse cx="260.5" cy="1780.8" rx="2.7" ry="2.1"/><ellipse cx="183.0" cy="1773.3" rx="2.7" ry="2.1"/><ellipse cx="230.8" cy="1804.7" rx="2.7" ry="2.1"/><ellipse cx="235.3" cy="1779.7" rx="2.7" ry="2.1"/><ellipse cx="190.0" cy="1763.7" rx="2.7" ry="2.1"/><ellipse cx="153.8" cy="1766.8" rx="2.7" ry="2.1"/><ellipse cx="232.7" cy="1750.1" rx="2.7" ry="2.1"/><ellipse cx="243.1" cy="1767.1" rx="2.7" ry="2.1"/><ellipse cx="240.2" cy="1757.6" rx="2.7" ry="2.1"/><ellipse cx="230.1" cy="1800.9" rx="2.7" ry="2.1"/><ellipse cx="130.5" cy="1748.5" rx="2.7" ry="2.1"/><ellipse cx="197.3" cy="1797.6" rx="2.7" ry="2.1"/><ellipse cx="239.8" cy="1782.1" rx="2.7" ry="2.1"/><ellipse cx="238.0" cy="1744.2" rx="2.7" ry="2.1"/><ellipse cx="214.2" cy="1766.3" rx="2.7" ry="2.1"/><ellipse cx="272.8" cy="1787.8" rx="2.7" ry="2.1"/><ellipse cx="249.6" cy="1753.7" rx="2.7" ry="2.1"/><ellipse cx="253.3" cy="1789.0" rx="2.7" ry="2.1"/><ellipse cx="182.8" cy="1783.8" rx="2.7" ry="2.1"/><ellipse cx="246.3" cy="1763.4" rx="2.7" ry="2.1"/><ellipse cx="160.4" cy="1741.1" rx="2.7" ry="2.1"/><ellipse cx="177.1" cy="1760.1" rx="2.7" ry="2.1"/><ellipse cx="251.7" cy="1746.9" rx="2.7" ry="2.1"/><ellipse cx="252.1" cy="1801.1" rx="2.7" ry="2.1"/><ellipse cx="192.0" cy="1773.1" rx="2.7" ry="2.1"/><ellipse cx="250.3" cy="1778.8" rx="2.7" ry="2.1"/><ellipse cx="236.1" cy="1780.6" rx="2.7" ry="2.1"/><ellipse cx="271.9" cy="1787.9" rx="2.7" ry="2.1"/><ellipse cx="182.2" cy="1789.1" rx="2.7" ry="2.1"/><ellipse cx="134.6" cy="1749.1" rx="2.7" ry="2.1"/><ellipse cx="209.1" cy="1789.4" rx="2.7" ry="2.1"/><ellipse cx="243.5" cy="1793.8" rx="2.7" ry="2.1"/><ellipse cx="198.9" cy="1765.1" rx="2.7" ry="2.1"/><ellipse cx="158.0" cy="1762.1" rx="2.7" ry="2.1"/><ellipse cx="98.3" cy="1767.9" rx="2.7" ry="2.1"/><ellipse cx="272.0" cy="1782.6" rx="2.7" ry="2.1"/><ellipse cx="168.1" cy="1766.3" rx="2.7" ry="2.1"/><ellipse cx="221.0" cy="1774.8" rx="2.7" ry="2.1"/><ellipse cx="267.9" cy="1740.5" rx="2.7" ry="2.1"/><ellipse cx="256.8" cy="1754.2" rx="2.7" ry="2.1"/><ellipse cx="210.3" cy="1758.2" rx="2.7" ry="2.1"/><ellipse cx="255.3" cy="1806.0" rx="2.7" ry="2.1"/><ellipse cx="237.7" cy="1789.3" rx="2.7" ry="2.1"/><ellipse cx="175.8" cy="1746.7" rx="2.7" ry="2.1"/><ellipse cx="267.1" cy="1784.2" rx="2.7" ry="2.1"/><ellipse cx="266.8" cy="1744.6" rx="2.7" ry="2.1"/><ellipse cx="185.1" cy="1745.7" rx="2.7" ry="2.1"/><ellipse cx="204.3" cy="1767.8" rx="2.7" ry="2.1"/><ellipse cx="276.1" cy="1807.8" rx="2.7" ry="2.1"/><ellipse cx="261.2" cy="1772.0" rx="2.7" ry="2.1"/><ellipse cx="224.6" cy="1800.0" rx="2.7" ry="2.1"/><ellipse cx="179.5" cy="1758.4" rx="2.7" ry="2.1"/><ellipse cx="229.6" cy="1762.8" rx="2.7" ry="2.1"/><ellipse cx="274.7" cy="1771.5" rx="2.7" ry="2.1"/><ellipse cx="243.4" cy="1810.2" rx="2.7" ry="2.1"/><ellipse cx="251.9" cy="1768.8" rx="2.7" ry="2.1"/><ellipse cx="241.7" cy="1779.6" rx="2.7" ry="2.1"/><ellipse cx="215.5" cy="1731.0" rx="2.7" ry="2.1"/><ellipse cx="151.4" cy="1739.3" rx="2.7" ry="2.1"/><ellipse cx="145.8" cy="1731.9" rx="2.7" ry="2.1"/><ellipse cx="270.8" cy="1800.6" rx="2.7" ry="2.1"/><ellipse cx="258.8" cy="1786.8" rx="2.7" ry="2.1"/><ellipse cx="265.4" cy="1778.5" rx="2.7" ry="2.1"/><ellipse cx="253.6" cy="1805.5" rx="2.7" ry="2.1"/><ellipse cx="231.5" cy="1791.0" rx="2.7" ry="2.1"/><ellipse cx="227.9" cy="1786.9" rx="2.7" ry="2.1"/><ellipse cx="223.1" cy="1785.6" rx="2.7" ry="2.1"/><ellipse cx="277.4" cy="1801.2" rx="2.7" ry="2.1"/><ellipse cx="255.7" cy="1815.1" rx="2.7" ry="2.1"/><ellipse cx="240.6" cy="1810.1" rx="2.7" ry="2.1"/><ellipse cx="235.1" cy="1792.0" rx="2.7" ry="2.1"/><ellipse cx="258.4" cy="1786.1" rx="2.7" ry="2.1"/><ellipse cx="258.1" cy="1807.2" rx="2.7" ry="2.1"/><ellipse cx="277.7" cy="1765.0" rx="2.7" ry="2.1"/><ellipse cx="232.2" cy="1789.1" rx="2.7" ry="2.1"/><ellipse cx="242.3" cy="1782.9" rx="2.7" ry="2.1"/><ellipse cx="267.0" cy="1798.5" rx="2.7" ry="2.1"/><ellipse cx="260.8" cy="1781.6" rx="2.7" ry="2.1"/><ellipse cx="220.7" cy="1749.8" rx="2.7" ry="2.1"/><ellipse cx="249.5" cy="1780.2" rx="2.7" ry="2.1"/><ellipse cx="183.2" cy="1777.1" rx="2.7" ry="2.1"/><ellipse cx="203.7" cy="1797.8" rx="2.7" ry="2.1"/><ellipse cx="151.3" cy="1743.2" rx="2.7" ry="2.1"/><ellipse cx="253.1" cy="1795.5" rx="2.7" ry="2.1"/><ellipse cx="150.2" cy="1730.9" rx="2.7" ry="2.1"/><ellipse cx="231.6" cy="1772.0" rx="2.7" ry="2.1"/><ellipse cx="213.9" cy="1772.8" rx="2.7" ry="2.1"/><ellipse cx="259.4" cy="1795.9" rx="2.7" ry="2.1"/><ellipse cx="261.5" cy="1752.9" rx="2.7" ry="2.1"/><ellipse cx="235.1" cy="1779.3" rx="2.7" ry="2.1"/><ellipse cx="244.7" cy="1771.1" rx="2.7" ry="2.1"/><ellipse cx="259.1" cy="1811.6" rx="2.7" ry="2.1"/><ellipse cx="200.2" cy="1768.2" rx="2.7" ry="2.1"/><ellipse cx="221.8" cy="1779.0" rx="2.7" ry="2.1"/><ellipse cx="230.4" cy="1805.5" rx="2.7" ry="2.1"/><ellipse cx="256.4" cy="1759.3" rx="2.7" ry="2.1"/><ellipse cx="248.8" cy="1793.1" rx="2.7" ry="2.1"/><ellipse cx="271.2" cy="1765.6" rx="2.7" ry="2.1"/><ellipse cx="242.5" cy="1773.3" rx="2.7" ry="2.1"/><ellipse cx="141.3" cy="1766.8" rx="2.7" ry="2.1"/><ellipse cx="232.5" cy="1795.0" rx="2.7" ry="2.1"/><ellipse cx="269.4" cy="1790.8" rx="2.7" ry="2.1"/><ellipse cx="228.6" cy="1772.8" rx="2.7" ry="2.1"/><ellipse cx="261.0" cy="1755.8" rx="2.7" ry="2.1"/><ellipse cx="217.7" cy="1762.9" rx="2.7" ry="2.1"/><ellipse cx="201.8" cy="1730.3" rx="2.7" ry="2.1"/><ellipse cx="266.8" cy="1781.7" rx="2.7" ry="2.1"/><ellipse cx="249.3" cy="1776.2" rx="2.7" ry="2.1"/><ellipse cx="171.9" cy="1747.0" rx="2.7" ry="2.1"/><ellipse cx="168.7" cy="1750.1" rx="2.7" ry="2.1"/><ellipse cx="165.1" cy="1762.6" rx="2.7" ry="2.1"/><ellipse cx="188.1" cy="1762.9" rx="2.7" ry="2.1"/><ellipse cx="163.6" cy="1774.8" rx="2.7" ry="2.1"/><ellipse cx="206.9" cy="1806.5" rx="2.7" ry="2.1"/><ellipse cx="229.8" cy="1777.7" rx="2.7" ry="2.1"/><ellipse cx="233.0" cy="1783.0" rx="2.7" ry="2.1"/><ellipse cx="276.8" cy="1770.7" rx="2.7" ry="2.1"/><ellipse cx="221.4" cy="1808.7" rx="2.7" ry="2.1"/><ellipse cx="151.1" cy="1774.1" rx="2.7" ry="2.1"/><ellipse cx="193.7" cy="1781.3" rx="2.7" ry="2.1"/><ellipse cx="232.4" cy="1764.2" rx="2.7" ry="2.1"/><ellipse cx="199.8" cy="1761.2" rx="2.7" ry="2.1"/><ellipse cx="194.7" cy="1767.4" rx="2.7" ry="2.1"/><ellipse cx="227.7" cy="1782.7" rx="2.7" ry="2.1"/><ellipse cx="207.1" cy="1774.7" rx="2.7" ry="2.1"/><ellipse cx="182.1" cy="1764.1" rx="2.7" ry="2.1"/><ellipse cx="213.1" cy="1745.1" rx="2.7" ry="2.1"/><ellipse cx="203.6" cy="1769.5" rx="2.7" ry="2.1"/><ellipse cx="261.7" cy="1763.1" rx="2.7" ry="2.1"/><ellipse cx="169.2" cy="1778.9" rx="2.7" ry="2.1"/><ellipse cx="248.4" cy="1794.6" rx="2.7" ry="2.1"/><ellipse cx="267.8" cy="1761.5" rx="2.7" ry="2.1"/><ellipse cx="216.2" cy="1799.9" rx="2.7" ry="2.1"/><ellipse cx="256.5" cy="1766.9" rx="2.7" ry="2.1"/><ellipse cx="206.4" cy="1795.9" rx="2.7" ry="2.1"/><ellipse cx="255.8" cy="1815.5" rx="2.7" ry="2.1"/><ellipse cx="228.3" cy="1771.8" rx="2.7" ry="2.1"/><ellipse cx="97.3" cy="1737.4" rx="2.7" ry="2.1"/><ellipse cx="237.8" cy="1768.4" rx="2.7" ry="2.1"/><ellipse cx="146.9" cy="1783.0" rx="2.7" ry="2.1"/><ellipse cx="219.9" cy="1796.6" rx="2.7" ry="2.1"/><ellipse cx="224.9" cy="1785.4" rx="2.7" ry="2.1"/><ellipse cx="218.7" cy="1766.2" rx="2.7" ry="2.1"/><ellipse cx="254.6" cy="1774.1" rx="2.7" ry="2.1"/><ellipse cx="143.1" cy="1786.3" rx="2.7" ry="2.1"/><ellipse cx="193.8" cy="1783.9" rx="2.7" ry="2.1"/><ellipse cx="259.7" cy="1794.0" rx="2.7" ry="2.1"/><ellipse cx="252.3" cy="1804.9" rx="2.7" ry="2.1"/><ellipse cx="166.3" cy="1772.2" rx="2.7" ry="2.1"/><ellipse cx="270.5" cy="1773.8" rx="2.7" ry="2.1"/><ellipse cx="203.0" cy="1775.6" rx="2.7" ry="2.1"/><ellipse cx="274.3" cy="1816.8" rx="2.7" ry="2.1"/><ellipse cx="198.6" cy="1789.8" rx="2.7" ry="2.1"/><ellipse cx="268.0" cy="1789.2" rx="2.7" ry="2.1"/><ellipse cx="244.2" cy="1776.8" rx="2.7" ry="2.1"/><ellipse cx="277.1" cy="1750.6" rx="2.7" ry="2.1"/><ellipse cx="166.9" cy="1761.6" rx="2.7" ry="2.1"/><ellipse cx="254.1" cy="1782.4" rx="2.7" ry="2.1"/><ellipse cx="232.8" cy="1774.8" rx="2.7" ry="2.1"/><ellipse cx="259.5" cy="1788.3" rx="2.7" ry="2.1"/><ellipse cx="159.9" cy="1745.9" rx="2.7" ry="2.1"/><ellipse cx="234.0" cy="1815.9" rx="2.7" ry="2.1"/><ellipse cx="242.7" cy="1751.6" rx="2.7" ry="2.1"/><ellipse cx="82.8" cy="1762.3" rx="2.7" ry="2.1"/><ellipse cx="267.4" cy="1788.2" rx="2.7" ry="2.1"/><ellipse cx="272.9" cy="1792.8" rx="2.7" ry="2.1"/><ellipse cx="256.2" cy="1779.7" rx="2.7" ry="2.1"/><ellipse cx="218.8" cy="1783.4" rx="2.7" ry="2.1"/><ellipse cx="210.3" cy="1749.5" rx="2.7" ry="2.1"/><ellipse cx="224.6" cy="1795.0" rx="2.7" ry="2.1"/><ellipse cx="196.4" cy="1752.0" rx="2.7" ry="2.1"/><ellipse cx="260.6" cy="1802.6" rx="2.7" ry="2.1"/><ellipse cx="123.6" cy="1744.5" rx="2.7" ry="2.1"/><ellipse cx="251.9" cy="1793.3" rx="2.7" ry="2.1"/><ellipse cx="162.9" cy="1771.9" rx="2.7" ry="2.1"/><ellipse cx="254.3" cy="1762.9" rx="2.7" ry="2.1"/><ellipse cx="211.0" cy="1755.6" rx="2.7" ry="2.1"/><ellipse cx="189.1" cy="1789.9" rx="2.7" ry="2.1"/><ellipse cx="229.7" cy="1776.4" rx="2.7" ry="2.1"/><ellipse cx="181.0" cy="1786.2" rx="2.7" ry="2.1"/><ellipse cx="165.4" cy="1759.0" rx="2.7" ry="2.1"/><ellipse cx="223.9" cy="1792.4" rx="2.7" ry="2.1"/><ellipse cx="211.5" cy="1799.2" rx="2.7" ry="2.1"/><ellipse cx="229.1" cy="1784.6" rx="2.7" ry="2.1"/><ellipse cx="174.1" cy="1779.0" rx="2.7" ry="2.1"/><ellipse cx="277.6" cy="1823.1" rx="2.7" ry="2.1"/><ellipse cx="205.3" cy="1789.3" rx="2.7" ry="2.1"/><ellipse cx="265.0" cy="1768.7" rx="2.7" ry="2.1"/><ellipse cx="260.1" cy="1799.2" rx="2.7" ry="2.1"/><ellipse cx="240.9" cy="1805.9" rx="2.7" ry="2.1"/><ellipse cx="162.7" cy="1784.9" rx="2.7" ry="2.1"/><ellipse cx="208.4" cy="1776.3" rx="2.7" ry="2.1"/><ellipse cx="262.7" cy="1770.6" rx="2.7" ry="2.1"/><ellipse cx="260.1" cy="1796.3" rx="2.7" ry="2.1"/><ellipse cx="217.0" cy="1762.8" rx="2.7" ry="2.1"/><ellipse cx="219.5" cy="1755.9" rx="2.7" ry="2.1"/><ellipse cx="223.9" cy="1762.8" rx="2.7" ry="2.1"/><ellipse cx="208.8" cy="1777.1" rx="2.7" ry="2.1"/><ellipse cx="276.2" cy="1748.4" rx="2.7" ry="2.1"/><ellipse cx="270.3" cy="1794.4" rx="2.7" ry="2.1"/><ellipse cx="258.1" cy="1817.8" rx="2.7" ry="2.1"/><ellipse cx="211.0" cy="1755.3" rx="2.7" ry="2.1"/><ellipse cx="134.1" cy="1752.0" rx="2.7" ry="2.1"/><ellipse cx="268.0" cy="1777.0" rx="2.7" ry="2.1"/><ellipse cx="267.7" cy="1768.6" rx="2.7" ry="2.1"/><ellipse cx="228.3" cy="1771.0" rx="2.7" ry="2.1"/><ellipse cx="265.7" cy="1788.5" rx="2.7" ry="2.1"/><ellipse cx="259.0" cy="1781.6" rx="2.7" ry="2.1"/><ellipse cx="198.5" cy="1747.5" rx="2.7" ry="2.1"/><ellipse cx="253.0" cy="1789.4" rx="2.7" ry="2.1"/><ellipse cx="266.2" cy="1769.4" rx="2.7" ry="2.1"/><ellipse cx="275.5" cy="1783.4" rx="2.7" ry="2.1"/><ellipse cx="220.5" cy="1748.1" rx="2.7" ry="2.1"/><ellipse cx="211.6" cy="1767.9" rx="2.7" ry="2.1"/><ellipse cx="183.6" cy="1764.3" rx="2.7" ry="2.1"/><ellipse cx="275.8" cy="1781.6" rx="2.7" ry="2.1"/><ellipse cx="132.2" cy="1770.0" rx="2.7" ry="2.1"/><ellipse cx="199.3" cy="1760.3" rx="2.7" ry="2.1"/><ellipse cx="244.3" cy="1764.5" rx="2.7" ry="2.1"/><ellipse cx="228.2" cy="1775.6" rx="2.7" ry="2.1"/><ellipse cx="243.6" cy="1751.1" rx="2.7" ry="2.1"/><ellipse cx="270.0" cy="1743.5" rx="2.7" ry="2.1"/><ellipse cx="246.1" cy="1747.1" rx="2.7" ry="2.1"/><ellipse cx="228.0" cy="1764.3" rx="2.7" ry="2.1"/><ellipse cx="226.2" cy="1746.1" rx="2.7" ry="2.1"/><ellipse cx="226.6" cy="1791.1" rx="2.7" ry="2.1"/><ellipse cx="261.2" cy="1804.9" rx="2.7" ry="2.1"/><ellipse cx="265.6" cy="1780.4" rx="2.7" ry="2.1"/><ellipse cx="257.0" cy="1789.4" rx="2.7" ry="2.1"/><ellipse cx="266.4" cy="1783.4" rx="2.7" ry="2.1"/><ellipse cx="214.7" cy="1778.8" rx="2.7" ry="2.1"/><ellipse cx="161.1" cy="1757.1" rx="2.7" ry="2.1"/><ellipse cx="215.6" cy="1767.6" rx="2.7" ry="2.1"/><ellipse cx="260.4" cy="1746.4" rx="2.7" ry="2.1"/><ellipse cx="232.1" cy="1772.1" rx="2.7" ry="2.1"/><ellipse cx="209.7" cy="1774.3" rx="2.7" ry="2.1"/><ellipse cx="236.5" cy="1716.5" rx="2.7" ry="2.1"/><ellipse cx="265.5" cy="1769.8" rx="2.7" ry="2.1"/><ellipse cx="248.5" cy="1753.1" rx="2.7" ry="2.1"/><ellipse cx="242.7" cy="1775.2" rx="2.7" ry="2.1"/><ellipse cx="276.2" cy="1788.1" rx="2.7" ry="2.1"/><ellipse cx="150.4" cy="1757.5" rx="2.7" ry="2.1"/><ellipse cx="251.9" cy="1762.6" rx="2.7" ry="2.1"/><ellipse cx="261.9" cy="1759.0" rx="2.7" ry="2.1"/><ellipse cx="232.9" cy="1750.2" rx="2.7" ry="2.1"/><ellipse cx="269.5" cy="1775.4" rx="2.7" ry="2.1"/><ellipse cx="221.9" cy="1788.2" rx="2.7" ry="2.1"/><ellipse cx="254.6" cy="1757.1" rx="2.7" ry="2.1"/><ellipse cx="247.0" cy="1800.1" rx="2.7" ry="2.1"/><ellipse cx="186.2" cy="1759.2" rx="2.7" ry="2.1"/><ellipse cx="274.0" cy="1788.4" rx="2.7" ry="2.1"/><ellipse cx="217.5" cy="1746.3" rx="2.7" ry="2.1"/><ellipse cx="266.9" cy="1781.5" rx="2.7" ry="2.1"/><ellipse cx="154.4" cy="1761.0" rx="2.7" ry="2.1"/><ellipse cx="232.3" cy="1746.9" rx="2.7" ry="2.1"/><ellipse cx="247.1" cy="1764.7" rx="2.7" ry="2.1"/><ellipse cx="203.3" cy="1772.2" rx="2.7" ry="2.1"/><ellipse cx="246.7" cy="1779.7" rx="2.7" ry="2.1"/><ellipse cx="227.7" cy="1807.8" rx="2.7" ry="2.1"/><ellipse cx="263.2" cy="1797.6" rx="2.7" ry="2.1"/><ellipse cx="162.0" cy="1754.0" rx="2.7" ry="2.1"/><ellipse cx="204.0" cy="1772.3" rx="2.7" ry="2.1"/><ellipse cx="265.5" cy="1782.3" rx="2.7" ry="2.1"/><ellipse cx="271.3" cy="1771.5" rx="2.7" ry="2.1"/><ellipse cx="277.4" cy="1751.3" rx="2.7" ry="2.1"/><ellipse cx="199.4" cy="1757.1" rx="2.7" ry="2.1"/><ellipse cx="195.1" cy="1769.1" rx="2.7" ry="2.1"/><ellipse cx="183.0" cy="1773.9" rx="2.7" ry="2.1"/><ellipse cx="211.1" cy="1794.0" rx="2.7" ry="2.1"/><ellipse cx="226.4" cy="1762.0" rx="2.7" ry="2.1"/><ellipse cx="271.9" cy="1773.7" rx="2.7" ry="2.1"/><ellipse cx="224.1" cy="1758.2" rx="2.7" ry="2.1"/><ellipse cx="229.5" cy="1758.5" rx="2.7" ry="2.1"/><ellipse cx="218.8" cy="1747.3" rx="2.7" ry="2.1"/><ellipse cx="228.6" cy="1764.8" rx="2.7" ry="2.1"/><ellipse cx="216.8" cy="1777.5" rx="2.7" ry="2.1"/><ellipse cx="268.3" cy="1797.3" rx="2.7" ry="2.1"/><ellipse cx="244.2" cy="1762.6" rx="2.7" ry="2.1"/><ellipse cx="232.2" cy="1812.8" rx="2.7" ry="2.1"/><ellipse cx="266.0" cy="1786.2" rx="2.7" ry="2.1"/><ellipse cx="139.2" cy="1774.5" rx="2.7" ry="2.1"/><ellipse cx="200.9" cy="1761.0" rx="2.7" ry="2.1"/><ellipse cx="254.9" cy="1781.3" rx="2.7" ry="2.1"/><ellipse cx="265.1" cy="1781.5" rx="2.7" ry="2.1"/><ellipse cx="173.2" cy="1774.3" rx="2.7" ry="2.1"/><ellipse cx="202.8" cy="1796.1" rx="2.7" ry="2.1"/><ellipse cx="265.5" cy="1784.5" rx="2.7" ry="2.1"/><ellipse cx="268.6" cy="1756.0" rx="2.7" ry="2.1"/><ellipse cx="142.9" cy="1774.8" rx="2.7" ry="2.1"/><ellipse cx="277.4" cy="1762.2" rx="2.7" ry="2.1"/><ellipse cx="229.5" cy="1780.8" rx="2.7" ry="2.1"/><ellipse cx="259.0" cy="1787.6" rx="2.7" ry="2.1"/><ellipse cx="206.7" cy="1779.0" rx="2.7" ry="2.1"/><ellipse cx="203.4" cy="1768.4" rx="2.7" ry="2.1"/><ellipse cx="254.5" cy="1773.5" rx="2.7" ry="2.1"/><ellipse cx="235.5" cy="1769.4" rx="2.7" ry="2.1"/><ellipse cx="211.9" cy="1762.7" rx="2.7" ry="2.1"/><ellipse cx="216.1" cy="1788.9" rx="2.7" ry="2.1"/><ellipse cx="248.5" cy="1753.2" rx="2.7" ry="2.1"/><ellipse cx="196.9" cy="1779.0" rx="2.7" ry="2.1"/><ellipse cx="260.7" cy="1768.9" rx="2.7" ry="2.1"/><ellipse cx="217.5" cy="1776.1" rx="2.7" ry="2.1"/><ellipse cx="220.5" cy="1774.0" rx="2.7" ry="2.1"/><ellipse cx="272.1" cy="1760.4" rx="2.7" ry="2.1"/><ellipse cx="238.2" cy="1727.8" rx="2.7" ry="2.1"/><ellipse cx="272.7" cy="1792.5" rx="2.7" ry="2.1"/><ellipse cx="232.0" cy="1790.3" rx="2.7" ry="2.1"/><ellipse cx="227.3" cy="1764.1" rx="2.7" ry="2.1"/><ellipse cx="243.8" cy="1770.6" rx="2.7" ry="2.1"/><ellipse cx="275.2" cy="1792.8" rx="2.7" ry="2.1"/><ellipse cx="222.4" cy="1754.8" rx="2.7" ry="2.1"/><ellipse cx="210.7" cy="1799.8" rx="2.7" ry="2.1"/><ellipse cx="270.6" cy="1810.6" rx="2.7" ry="2.1"/><ellipse cx="171.2" cy="1763.7" rx="2.7" ry="2.1"/><ellipse cx="250.1" cy="1783.9" rx="2.7" ry="2.1"/><ellipse cx="173.0" cy="1767.9" rx="2.7" ry="2.1"/><ellipse cx="120.0" cy="1760.7" rx="2.7" ry="2.1"/><ellipse cx="184.1" cy="1755.3" rx="2.7" ry="2.1"/><ellipse cx="230.8" cy="1787.2" rx="2.7" ry="2.1"/><ellipse cx="182.6" cy="1762.8" rx="2.7" ry="2.1"/><ellipse cx="217.2" cy="1760.8" rx="2.7" ry="2.1"/><ellipse cx="230.5" cy="1749.3" rx="2.7" ry="2.1"/><ellipse cx="211.1" cy="1773.9" rx="2.7" ry="2.1"/><ellipse cx="266.3" cy="1772.5" rx="2.7" ry="2.1"/><ellipse cx="254.7" cy="1783.6" rx="2.7" ry="2.1"/><ellipse cx="224.7" cy="1746.1" rx="2.7" ry="2.1"/><ellipse cx="237.5" cy="1780.6" rx="2.7" ry="2.1"/><ellipse cx="270.1" cy="1783.5" rx="2.7" ry="2.1"/><ellipse cx="211.5" cy="1782.0" rx="2.7" ry="2.1"/><ellipse cx="266.5" cy="1802.8" rx="2.7" ry="2.1"/><ellipse cx="204.0" cy="1775.2" rx="2.7" ry="2.1"/><ellipse cx="233.3" cy="1766.6" rx="2.7" ry="2.1"/><ellipse cx="189.0" cy="1737.1" rx="2.7" ry="2.1"/><ellipse cx="250.0" cy="1780.6" rx="2.7" ry="2.1"/><ellipse cx="213.6" cy="1761.4" rx="2.7" ry="2.1"/><ellipse cx="162.0" cy="1797.7" rx="2.7" ry="2.1"/><ellipse cx="197.7" cy="1763.2" rx="2.7" ry="2.1"/><ellipse cx="235.9" cy="1759.7" rx="2.7" ry="2.1"/><ellipse cx="252.0" cy="1766.3" rx="2.7" ry="2.1"/><ellipse cx="243.8" cy="1796.8" rx="2.7" ry="2.1"/><ellipse cx="203.6" cy="1789.1" rx="2.7" ry="2.1"/><ellipse cx="149.3" cy="1767.6" rx="2.7" ry="2.1"/><ellipse cx="249.5" cy="1767.4" rx="2.7" ry="2.1"/><ellipse cx="238.0" cy="1778.0" rx="2.7" ry="2.1"/><ellipse cx="220.5" cy="1792.4" rx="2.7" ry="2.1"/><ellipse cx="190.3" cy="1772.0" rx="2.7" ry="2.1"/><ellipse cx="185.8" cy="1754.4" rx="2.7" ry="2.1"/><ellipse cx="275.7" cy="1784.3" rx="2.7" ry="2.1"/><ellipse cx="233.0" cy="1796.2" rx="2.7" ry="2.1"/><ellipse cx="254.0" cy="1760.7" rx="2.7" ry="2.1"/><ellipse cx="268.8" cy="1757.2" rx="2.7" ry="2.1"/><ellipse cx="197.4" cy="1772.4" rx="2.7" ry="2.1"/><ellipse cx="251.8" cy="1772.6" rx="2.7" ry="2.1"/><ellipse cx="255.6" cy="1775.2" rx="2.7" ry="2.1"/><ellipse cx="164.4" cy="1772.0" rx="2.7" ry="2.1"/><ellipse cx="270.1" cy="1787.9" rx="2.7" ry="2.1"/><ellipse cx="270.7" cy="1797.3" rx="2.7" ry="2.1"/><ellipse cx="255.0" cy="1771.7" rx="2.7" ry="2.1"/><ellipse cx="169.8" cy="1746.4" rx="2.7" ry="2.1"/><ellipse cx="238.6" cy="1762.4" rx="2.7" ry="2.1"/><ellipse cx="156.0" cy="1754.1" rx="2.7" ry="2.1"/><ellipse cx="213.7" cy="1779.0" rx="2.7" ry="2.1"/><ellipse cx="277.6" cy="1778.0" rx="2.7" ry="2.1"/><ellipse cx="245.0" cy="1790.5" rx="2.7" ry="2.1"/><ellipse cx="256.7" cy="1793.7" rx="2.7" ry="2.1"/><ellipse cx="208.1" cy="1778.5" rx="2.7" ry="2.1"/><ellipse cx="275.0" cy="1765.7" rx="2.7" ry="2.1"/><ellipse cx="268.3" cy="1767.3" rx="2.7" ry="2.1"/><ellipse cx="169.2" cy="1765.1" rx="2.7" ry="2.1"/><ellipse cx="250.9" cy="1765.0" rx="2.7" ry="2.1"/><ellipse cx="227.6" cy="1778.8" rx="2.7" ry="2.1"/><ellipse cx="220.7" cy="1761.2" rx="2.7" ry="2.1"/><ellipse cx="259.2" cy="1777.0" rx="2.7" ry="2.1"/><ellipse cx="251.5" cy="1793.8" rx="2.7" ry="2.1"/><ellipse cx="259.6" cy="1767.5" rx="2.7" ry="2.1"/><ellipse cx="189.1" cy="1765.3" rx="2.7" ry="2.1"/><ellipse cx="224.1" cy="1753.3" rx="2.7" ry="2.1"/><ellipse cx="263.3" cy="1748.7" rx="2.7" ry="2.1"/><ellipse cx="168.1" cy="1756.5" rx="2.7" ry="2.1"/><ellipse cx="246.7" cy="1765.3" rx="2.7" ry="2.1"/><ellipse cx="166.8" cy="1737.4" rx="2.7" ry="2.1"/><ellipse cx="208.3" cy="1779.8" rx="2.7" ry="2.1"/><ellipse cx="246.6" cy="1776.2" rx="2.7" ry="2.1"/><ellipse cx="268.8" cy="1745.0" rx="2.7" ry="2.1"/><ellipse cx="246.5" cy="1769.3" rx="2.7" ry="2.1"/><ellipse cx="248.6" cy="1745.1" rx="2.7" ry="2.1"/><ellipse cx="201.1" cy="1774.3" rx="2.7" ry="2.1"/><ellipse cx="269.5" cy="1798.9" rx="2.7" ry="2.1"/><ellipse cx="229.4" cy="1782.6" rx="2.7" ry="2.1"/><ellipse cx="244.8" cy="1773.1" rx="2.7" ry="2.1"/><ellipse cx="238.6" cy="1754.8" rx="2.7" ry="2.1"/><ellipse cx="223.8" cy="1781.9" rx="2.7" ry="2.1"/><ellipse cx="271.1" cy="1776.2" rx="2.7" ry="2.1"/><ellipse cx="273.0" cy="1773.6" rx="2.7" ry="2.1"/><ellipse cx="265.1" cy="1764.2" rx="2.7" ry="2.1"/><ellipse cx="257.8" cy="1815.7" rx="2.7" ry="2.1"/><ellipse cx="244.4" cy="1768.3" rx="2.7" ry="2.1"/><ellipse cx="238.9" cy="1800.8" rx="2.7" ry="2.1"/><ellipse cx="200.8" cy="1759.3" rx="2.7" ry="2.1"/><ellipse cx="276.5" cy="1749.6" rx="2.7" ry="2.1"/><ellipse cx="250.9" cy="1787.4" rx="2.7" ry="2.1"/><ellipse cx="192.3" cy="1786.0" rx="2.7" ry="2.1"/><ellipse cx="260.7" cy="1779.6" rx="2.7" ry="2.1"/><ellipse cx="261.0" cy="1767.0" rx="2.7" ry="2.1"/><ellipse cx="226.3" cy="1772.4" rx="2.7" ry="2.1"/><ellipse cx="227.4" cy="1746.4" rx="2.7" ry="2.1"/><ellipse cx="267.9" cy="1794.8" rx="2.7" ry="2.1"/><ellipse cx="254.9" cy="1794.7" rx="2.7" ry="2.1"/><ellipse cx="150.6" cy="1763.2" rx="2.7" ry="2.1"/><ellipse cx="227.9" cy="1761.9" rx="2.7" ry="2.1"/><ellipse cx="211.0" cy="1773.6" rx="2.7" ry="2.1"/><ellipse cx="247.9" cy="1769.5" rx="2.7" ry="2.1"/><ellipse cx="145.6" cy="1742.1" rx="2.7" ry="2.1"/><ellipse cx="228.9" cy="1776.9" rx="2.7" ry="2.1"/><ellipse cx="162.2" cy="1731.9" rx="2.7" ry="2.1"/><ellipse cx="198.1" cy="1748.2" rx="2.7" ry="2.1"/><ellipse cx="237.7" cy="1765.9" rx="2.7" ry="2.1"/><ellipse cx="201.9" cy="1747.5" rx="2.7" ry="2.1"/><ellipse cx="245.9" cy="1818.2" rx="2.7" ry="2.1"/><ellipse cx="267.2" cy="1781.3" rx="2.7" ry="2.1"/><ellipse cx="259.4" cy="1776.0" rx="2.7" ry="2.1"/><ellipse cx="232.8" cy="1752.8" rx="2.7" ry="2.1"/><ellipse cx="261.0" cy="1780.8" rx="2.7" ry="2.1"/><ellipse cx="256.2" cy="1790.0" rx="2.7" ry="2.1"/><ellipse cx="256.0" cy="1762.5" rx="2.7" ry="2.1"/><ellipse cx="204.8" cy="1772.1" rx="2.7" ry="2.1"/><ellipse cx="232.1" cy="1814.9" rx="2.7" ry="2.1"/><ellipse cx="228.9" cy="1787.4" rx="2.7" ry="2.1"/><ellipse cx="156.0" cy="1780.6" rx="2.7" ry="2.1"/><ellipse cx="256.3" cy="1808.0" rx="2.7" ry="2.1"/><ellipse cx="246.7" cy="1790.5" rx="2.7" ry="2.1"/><ellipse cx="205.8" cy="1769.9" rx="2.7" ry="2.1"/><ellipse cx="162.4" cy="1771.2" rx="2.7" ry="2.1"/><ellipse cx="221.4" cy="1762.3" rx="2.7" ry="2.1"/><ellipse cx="259.2" cy="1786.2" rx="2.7" ry="2.1"/><ellipse cx="213.8" cy="1783.1" rx="2.7" ry="2.1"/><ellipse cx="216.0" cy="1771.3" rx="2.7" ry="2.1"/><ellipse cx="163.6" cy="1761.6" rx="2.7" ry="2.1"/><ellipse cx="193.3" cy="1757.7" rx="2.7" ry="2.1"/><ellipse cx="250.5" cy="1782.6" rx="2.7" ry="2.1"/><ellipse cx="241.2" cy="1773.6" rx="2.7" ry="2.1"/><ellipse cx="139.9" cy="1762.0" rx="2.7" ry="2.1"/><ellipse cx="177.8" cy="1798.4" rx="2.7" ry="2.1"/><ellipse cx="277.3" cy="1770.1" rx="2.7" ry="2.1"/><ellipse cx="173.2" cy="1763.5" rx="2.7" ry="2.1"/><ellipse cx="266.4" cy="1771.0" rx="2.7" ry="2.1"/><ellipse cx="198.2" cy="1804.7" rx="2.7" ry="2.1"/><ellipse cx="252.7" cy="1811.4" rx="2.7" ry="2.1"/><ellipse cx="259.5" cy="1770.9" rx="2.7" ry="2.1"/><ellipse cx="252.6" cy="1764.7" rx="2.7" ry="2.1"/><ellipse cx="198.7" cy="1748.4" rx="2.7" ry="2.1"/><ellipse cx="200.8" cy="1766.8" rx="2.7" ry="2.1"/><ellipse cx="236.9" cy="1802.0" rx="2.7" ry="2.1"/><ellipse cx="210.2" cy="1780.6" rx="2.7" ry="2.1"/><ellipse cx="249.2" cy="1767.0" rx="2.7" ry="2.1"/><ellipse cx="195.6" cy="1759.1" rx="2.7" ry="2.1"/><ellipse cx="125.3" cy="1746.1" rx="2.7" ry="2.1"/><ellipse cx="213.6" cy="1769.7" rx="2.7" ry="2.1"/><ellipse cx="276.9" cy="1784.3" rx="2.7" ry="2.1"/><ellipse cx="211.3" cy="1797.9" rx="2.7" ry="2.1"/><ellipse cx="258.9" cy="1755.7" rx="2.7" ry="2.1"/><ellipse cx="228.5" cy="1768.9" rx="2.7" ry="2.1"/><ellipse cx="219.9" cy="1803.0" rx="2.7" ry="2.1"/><ellipse cx="251.4" cy="1767.1" rx="2.7" ry="2.1"/><ellipse cx="225.3" cy="1782.1" rx="2.7" ry="2.1"/><ellipse cx="230.9" cy="1768.9" rx="2.7" ry="2.1"/><ellipse cx="145.4" cy="1771.6" rx="2.7" ry="2.1"/><ellipse cx="122.6" cy="1768.7" rx="2.7" ry="2.1"/><ellipse cx="269.6" cy="1787.7" rx="2.7" ry="2.1"/><ellipse cx="237.8" cy="1786.8" rx="2.7" ry="2.1"/><ellipse cx="210.4" cy="1779.6" rx="2.7" ry="2.1"/><ellipse cx="260.5" cy="1765.7" rx="2.7" ry="2.1"/><ellipse cx="238.6" cy="1775.8" rx="2.7" ry="2.1"/><ellipse cx="253.2" cy="1777.4" rx="2.7" ry="2.1"/><ellipse cx="221.5" cy="1759.0" rx="2.7" ry="2.1"/><ellipse cx="199.8" cy="1776.5" rx="2.7" ry="2.1"/><ellipse cx="248.5" cy="1772.0" rx="2.7" ry="2.1"/><ellipse cx="249.1" cy="1781.7" rx="2.7" ry="2.1"/><ellipse cx="277.1" cy="1775.4" rx="2.7" ry="2.1"/><ellipse cx="277.0" cy="1763.1" rx="2.7" ry="2.1"/><ellipse cx="266.0" cy="1759.3" rx="2.7" ry="2.1"/><ellipse cx="196.1" cy="1773.8" rx="2.7" ry="2.1"/><ellipse cx="257.6" cy="1776.7" rx="2.7" ry="2.1"/><ellipse cx="226.9" cy="1792.6" rx="2.7" ry="2.1"/><ellipse cx="276.4" cy="1791.5" rx="2.7" ry="2.1"/><ellipse cx="272.7" cy="1790.3" rx="2.7" ry="2.1"/><ellipse cx="248.4" cy="1772.5" rx="2.7" ry="2.1"/><ellipse cx="179.8" cy="1781.1" rx="2.7" ry="2.1"/><ellipse cx="274.3" cy="1788.5" rx="2.7" ry="2.1"/><ellipse cx="270.2" cy="1780.0" rx="2.7" ry="2.1"/><ellipse cx="265.8" cy="1767.3" rx="2.7" ry="2.1"/><ellipse cx="162.6" cy="1751.0" rx="2.7" ry="2.1"/><ellipse cx="222.8" cy="1791.5" rx="2.7" ry="2.1"/><ellipse cx="252.1" cy="1787.2" rx="2.7" ry="2.1"/><ellipse cx="221.0" cy="1750.7" rx="2.7" ry="2.1"/><ellipse cx="263.3" cy="1789.0" rx="2.7" ry="2.1"/><ellipse cx="265.8" cy="1823.3" rx="2.7" ry="2.1"/><ellipse cx="197.2" cy="1765.7" rx="2.7" ry="2.1"/><ellipse cx="172.1" cy="1777.9" rx="2.7" ry="2.1"/><ellipse cx="195.5" cy="1783.5" rx="2.7" ry="2.1"/><ellipse cx="254.3" cy="1762.3" rx="2.7" ry="2.1"/><ellipse cx="251.4" cy="1783.7" rx="2.7" ry="2.1"/><ellipse cx="192.8" cy="1751.6" rx="2.7" ry="2.1"/><ellipse cx="229.8" cy="1781.3" rx="2.7" ry="2.1"/><ellipse cx="252.6" cy="1773.1" rx="2.7" ry="2.1"/><ellipse cx="186.4" cy="1776.8" rx="2.7" ry="2.1"/><ellipse cx="268.0" cy="1782.7" rx="2.7" ry="2.1"/><ellipse cx="235.4" cy="1760.8" rx="2.7" ry="2.1"/><ellipse cx="272.6" cy="1786.9" rx="2.7" ry="2.1"/><ellipse cx="239.1" cy="1801.5" rx="2.7" ry="2.1"/><ellipse cx="242.0" cy="1776.7" rx="2.7" ry="2.1"/><ellipse cx="179.8" cy="1747.8" rx="2.7" ry="2.1"/><ellipse cx="228.9" cy="1769.3" rx="2.7" ry="2.1"/><ellipse cx="213.2" cy="1788.5" rx="2.7" ry="2.1"/><ellipse cx="249.6" cy="1765.0" rx="2.7" ry="2.1"/><ellipse cx="223.8" cy="1783.7" rx="2.7" ry="2.1"/><ellipse cx="196.9" cy="1771.1" rx="2.7" ry="2.1"/><ellipse cx="210.1" cy="1771.3" rx="2.7" ry="2.1"/><ellipse cx="244.6" cy="1775.9" rx="2.7" ry="2.1"/><ellipse cx="270.7" cy="1768.5" rx="2.7" ry="2.1"/><ellipse cx="271.7" cy="1760.0" rx="2.7" ry="2.1"/><ellipse cx="93.2" cy="1772.0" rx="2.7" ry="2.1"/><ellipse cx="179.7" cy="1780.6" rx="2.7" ry="2.1"/><ellipse cx="264.5" cy="1805.5" rx="2.7" ry="2.1"/><ellipse cx="245.1" cy="1768.0" rx="2.7" ry="2.1"/><ellipse cx="176.4" cy="1798.4" rx="2.7" ry="2.1"/><ellipse cx="243.0" cy="1750.7" rx="2.7" ry="2.1"/><ellipse cx="190.5" cy="1772.5" rx="2.7" ry="2.1"/><ellipse cx="218.1" cy="1780.4" rx="2.7" ry="2.1"/><ellipse cx="249.4" cy="1766.2" rx="2.7" ry="2.1"/><ellipse cx="219.3" cy="1773.2" rx="2.7" ry="2.1"/><ellipse cx="272.3" cy="1766.5" rx="2.7" ry="2.1"/><ellipse cx="153.4" cy="1764.4" rx="2.7" ry="2.1"/><ellipse cx="202.6" cy="1765.2" rx="2.7" ry="2.1"/><ellipse cx="266.6" cy="1776.0" rx="2.7" ry="2.1"/><ellipse cx="242.1" cy="1752.3" rx="2.7" ry="2.1"/><ellipse cx="225.9" cy="1782.0" rx="2.7" ry="2.1"/><ellipse cx="256.0" cy="1783.7" rx="2.7" ry="2.1"/><ellipse cx="118.5" cy="1785.9" rx="2.7" ry="2.1"/><ellipse cx="267.8" cy="1799.8" rx="2.7" ry="2.1"/><ellipse cx="213.3" cy="1766.0" rx="2.7" ry="2.1"/><ellipse cx="270.0" cy="1769.0" rx="2.7" ry="2.1"/><ellipse cx="252.9" cy="1768.0" rx="2.7" ry="2.1"/><ellipse cx="265.4" cy="1764.4" rx="2.7" ry="2.1"/><ellipse cx="179.7" cy="1790.4" rx="2.7" ry="2.1"/><ellipse cx="244.8" cy="1752.1" rx="2.7" ry="2.1"/><ellipse cx="257.6" cy="1784.5" rx="2.7" ry="2.1"/><ellipse cx="237.9" cy="1788.8" rx="2.7" ry="2.1"/><ellipse cx="248.8" cy="1759.3" rx="2.7" ry="2.1"/><ellipse cx="188.9" cy="1801.0" rx="2.7" ry="2.1"/><ellipse cx="230.3" cy="1751.2" rx="2.7" ry="2.1"/><ellipse cx="201.0" cy="1758.0" rx="2.7" ry="2.1"/><ellipse cx="218.2" cy="1768.6" rx="2.7" ry="2.1"/><ellipse cx="238.8" cy="1788.9" rx="2.7" ry="2.1"/><ellipse cx="239.0" cy="1785.5" rx="2.7" ry="2.1"/><ellipse cx="138.2" cy="1760.5" rx="2.7" ry="2.1"/><ellipse cx="256.9" cy="1780.7" rx="2.7" ry="2.1"/><ellipse cx="268.8" cy="1797.2" rx="2.7" ry="2.1"/><ellipse cx="258.8" cy="1772.6" rx="2.7" ry="2.1"/><ellipse cx="182.5" cy="1753.0" rx="2.7" ry="2.1"/><ellipse cx="198.2" cy="1777.7" rx="2.7" ry="2.1"/><ellipse cx="231.9" cy="1796.4" rx="2.7" ry="2.1"/><ellipse cx="275.1" cy="1796.1" rx="2.7" ry="2.1"/><ellipse cx="268.8" cy="1811.7" rx="2.7" ry="2.1"/><ellipse cx="253.8" cy="1826.9" rx="2.7" ry="2.1"/><ellipse cx="264.5" cy="1760.7" rx="2.7" ry="2.1"/><ellipse cx="272.1" cy="1780.7" rx="2.7" ry="2.1"/><ellipse cx="218.3" cy="1799.6" rx="2.7" ry="2.1"/><ellipse cx="233.6" cy="1777.9" rx="2.7" ry="2.1"/><ellipse cx="265.4" cy="1779.3" rx="2.7" ry="2.1"/><ellipse cx="210.3" cy="1766.3" rx="2.7" ry="2.1"/><ellipse cx="217.2" cy="1737.6" rx="2.7" ry="2.1"/><ellipse cx="255.0" cy="1771.3" rx="2.7" ry="2.1"/><ellipse cx="245.5" cy="1783.6" rx="2.7" ry="2.1"/><ellipse cx="269.7" cy="1794.7" rx="2.7" ry="2.1"/><ellipse cx="190.3" cy="1770.9" rx="2.7" ry="2.1"/><ellipse cx="256.4" cy="1798.4" rx="2.7" ry="2.1"/><ellipse cx="253.6" cy="1784.5" rx="2.7" ry="2.1"/><ellipse cx="196.6" cy="1762.0" rx="2.7" ry="2.1"/><ellipse cx="263.5" cy="1785.8" rx="2.7" ry="2.1"/><ellipse cx="161.3" cy="1746.3" rx="2.7" ry="2.1"/><ellipse cx="247.2" cy="1787.7" rx="2.7" ry="2.1"/><ellipse cx="272.6" cy="1764.1" rx="2.7" ry="2.1"/><ellipse cx="247.7" cy="1751.1" rx="2.7" ry="2.1"/><ellipse cx="218.5" cy="1722.0" rx="2.7" ry="2.1"/><ellipse cx="245.2" cy="1782.9" rx="2.7" ry="2.1"/><ellipse cx="244.7" cy="1788.6" rx="2.7" ry="2.1"/><ellipse cx="255.6" cy="1792.7" rx="2.7" ry="2.1"/><ellipse cx="148.8" cy="1762.0" rx="2.7" ry="2.1"/><ellipse cx="243.7" cy="1799.7" rx="2.7" ry="2.1"/><ellipse cx="165.9" cy="1784.7" rx="2.7" ry="2.1"/><ellipse cx="234.5" cy="1788.1" rx="2.7" ry="2.1"/><ellipse cx="252.2" cy="1787.9" rx="2.7" ry="2.1"/><ellipse cx="226.1" cy="1776.5" rx="2.7" ry="2.1"/><ellipse cx="150.6" cy="1735.4" rx="2.7" ry="2.1"/><ellipse cx="157.0" cy="1750.0" rx="2.7" ry="2.1"/><ellipse cx="196.2" cy="1759.1" rx="2.7" ry="2.1"/><ellipse cx="196.4" cy="1792.5" rx="2.7" ry="2.1"/><ellipse cx="161.3" cy="1731.5" rx="2.7" ry="2.1"/><ellipse cx="161.8" cy="1764.2" rx="2.7" ry="2.1"/><ellipse cx="169.3" cy="1748.3" rx="2.7" ry="2.1"/><ellipse cx="260.5" cy="1788.1" rx="2.7" ry="2.1"/><ellipse cx="265.5" cy="1766.4" rx="2.7" ry="2.1"/><ellipse cx="274.6" cy="1768.2" rx="2.7" ry="2.1"/><ellipse cx="228.9" cy="1786.2" rx="2.7" ry="2.1"/><ellipse cx="260.9" cy="1763.9" rx="2.7" ry="2.1"/><ellipse cx="197.1" cy="1759.7" rx="2.7" ry="2.1"/><ellipse cx="240.5" cy="1764.0" rx="2.7" ry="2.1"/><ellipse cx="249.8" cy="1744.3" rx="2.7" ry="2.1"/><ellipse cx="251.9" cy="1781.1" rx="2.7" ry="2.1"/><ellipse cx="239.7" cy="1773.2" rx="2.7" ry="2.1"/><ellipse cx="270.1" cy="1800.5" rx="2.7" ry="2.1"/><ellipse cx="234.9" cy="1750.9" rx="2.7" ry="2.1"/><ellipse cx="271.5" cy="1803.3" rx="2.7" ry="2.1"/><ellipse cx="256.6" cy="1745.3" rx="2.7" ry="2.1"/><ellipse cx="263.9" cy="1793.4" rx="2.7" ry="2.1"/><ellipse cx="245.9" cy="1761.9" rx="2.7" ry="2.1"/><ellipse cx="267.4" cy="1789.8" rx="2.7" ry="2.1"/><ellipse cx="259.4" cy="1757.0" rx="2.7" ry="2.1"/><ellipse cx="274.9" cy="1783.5" rx="2.7" ry="2.1"/><ellipse cx="193.3" cy="1770.8" rx="2.7" ry="2.1"/><ellipse cx="236.9" cy="1760.8" rx="2.7" ry="2.1"/><ellipse cx="188.0" cy="1745.4" rx="2.7" ry="2.1"/><ellipse cx="248.8" cy="1792.4" rx="2.7" ry="2.1"/><ellipse cx="216.1" cy="1773.9" rx="2.7" ry="2.1"/><ellipse cx="277.2" cy="1770.6" rx="2.7" ry="2.1"/><ellipse cx="219.3" cy="1762.5" rx="2.7" ry="2.1"/><ellipse cx="276.2" cy="1783.7" rx="2.7" ry="2.1"/><ellipse cx="217.8" cy="1791.4" rx="2.7" ry="2.1"/><ellipse cx="231.1" cy="1783.4" rx="2.7" ry="2.1"/><ellipse cx="229.1" cy="1788.2" rx="2.7" ry="2.1"/><ellipse cx="266.0" cy="1785.1" rx="2.7" ry="2.1"/><ellipse cx="143.8" cy="1768.3" rx="2.7" ry="2.1"/><ellipse cx="204.2" cy="1771.3" rx="2.7" ry="2.1"/><ellipse cx="244.2" cy="1799.2" rx="2.7" ry="2.1"/><ellipse cx="264.3" cy="1776.4" rx="2.7" ry="2.1"/><ellipse cx="235.9" cy="1769.0" rx="2.7" ry="2.1"/><ellipse cx="216.3" cy="1757.6" rx="2.7" ry="2.1"/><ellipse cx="162.6" cy="1750.9" rx="2.7" ry="2.1"/><ellipse cx="261.5" cy="1777.3" rx="2.7" ry="2.1"/><ellipse cx="249.0" cy="1779.3" rx="2.7" ry="2.1"/><ellipse cx="249.1" cy="1772.3" rx="2.7" ry="2.1"/><ellipse cx="207.2" cy="1758.7" rx="2.7" ry="2.1"/><ellipse cx="245.3" cy="1785.1" rx="2.7" ry="2.1"/><ellipse cx="214.5" cy="1765.7" rx="2.7" ry="2.1"/><ellipse cx="178.8" cy="1776.5" rx="2.7" ry="2.1"/><ellipse cx="224.5" cy="1774.5" rx="2.7" ry="2.1"/><ellipse cx="218.7" cy="1777.4" rx="2.7" ry="2.1"/><ellipse cx="269.8" cy="1787.4" rx="2.7" ry="2.1"/><ellipse cx="268.6" cy="1784.7" rx="2.7" ry="2.1"/><ellipse cx="229.4" cy="1774.8" rx="2.7" ry="2.1"/><ellipse cx="161.3" cy="1789.4" rx="2.7" ry="2.1"/><ellipse cx="185.9" cy="1797.5" rx="2.7" ry="2.1"/><ellipse cx="227.1" cy="1779.7" rx="2.7" ry="2.1"/><ellipse cx="264.4" cy="1799.6" rx="2.7" ry="2.1"/><ellipse cx="205.8" cy="1794.1" rx="2.7" ry="2.1"/><ellipse cx="229.1" cy="1786.6" rx="2.7" ry="2.1"/><ellipse cx="229.2" cy="1766.4" rx="2.7" ry="2.1"/><ellipse cx="259.5" cy="1784.6" rx="2.7" ry="2.1"/><ellipse cx="220.1" cy="1778.3" rx="2.7" ry="2.1"/><ellipse cx="257.0" cy="1795.6" rx="2.7" ry="2.1"/><ellipse cx="226.1" cy="1752.4" rx="2.7" ry="2.1"/><ellipse cx="217.6" cy="1790.9" rx="2.7" ry="2.1"/><ellipse cx="240.0" cy="1768.4" rx="2.7" ry="2.1"/><ellipse cx="223.9" cy="1761.4" rx="2.7" ry="2.1"/><ellipse cx="235.6" cy="1809.5" rx="2.7" ry="2.1"/><ellipse cx="269.2" cy="1783.0" rx="2.7" ry="2.1"/><ellipse cx="215.5" cy="1783.9" rx="2.7" ry="2.1"/><ellipse cx="207.1" cy="1772.3" rx="2.7" ry="2.1"/><ellipse cx="247.1" cy="1750.8" rx="2.7" ry="2.1"/><ellipse cx="224.9" cy="1751.3" rx="2.7" ry="2.1"/><ellipse cx="223.6" cy="1751.1" rx="2.7" ry="2.1"/><ellipse cx="246.2" cy="1784.6" rx="2.7" ry="2.1"/><ellipse cx="275.5" cy="1802.7" rx="2.7" ry="2.1"/><ellipse cx="237.6" cy="1763.3" rx="2.7" ry="2.1"/><ellipse cx="163.9" cy="1777.9" rx="2.7" ry="2.1"/><ellipse cx="163.4" cy="1749.3" rx="2.7" ry="2.1"/><ellipse cx="273.6" cy="1767.7" rx="2.7" ry="2.1"/><ellipse cx="228.2" cy="1793.3" rx="2.7" ry="2.1"/><ellipse cx="260.2" cy="1778.1" rx="2.7" ry="2.1"/><ellipse cx="203.6" cy="1796.0" rx="2.7" ry="2.1"/><ellipse cx="275.9" cy="1771.3" rx="2.7" ry="2.1"/><ellipse cx="219.8" cy="1779.0" rx="2.7" ry="2.1"/><ellipse cx="196.5" cy="1770.3" rx="2.7" ry="2.1"/><ellipse cx="264.7" cy="1792.3" rx="2.7" ry="2.1"/><ellipse cx="259.0" cy="1782.5" rx="2.7" ry="2.1"/><ellipse cx="216.0" cy="1778.3" rx="2.7" ry="2.1"/><ellipse cx="255.8" cy="1767.8" rx="2.7" ry="2.1"/><ellipse cx="252.7" cy="1753.4" rx="2.7" ry="2.1"/><ellipse cx="221.0" cy="1785.7" rx="2.7" ry="2.1"/><ellipse cx="159.1" cy="1754.7" rx="2.7" ry="2.1"/><ellipse cx="197.4" cy="1762.1" rx="2.7" ry="2.1"/><ellipse cx="262.3" cy="1786.1" rx="2.7" ry="2.1"/><ellipse cx="218.7" cy="1739.7" rx="2.7" ry="2.1"/><ellipse cx="255.1" cy="1799.3" rx="2.7" ry="2.1"/><ellipse cx="254.4" cy="1792.8" rx="2.7" ry="2.1"/><ellipse cx="259.5" cy="1788.9" rx="2.7" ry="2.1"/><ellipse cx="270.1" cy="1774.4" rx="2.7" ry="2.1"/><ellipse cx="245.5" cy="1820.1" rx="2.7" ry="2.1"/><ellipse cx="252.0" cy="1790.8" rx="2.7" ry="2.1"/><ellipse cx="263.7" cy="1790.4" rx="2.7" ry="2.1"/><ellipse cx="271.7" cy="1787.1" rx="2.7" ry="2.1"/><ellipse cx="265.6" cy="1769.4" rx="2.7" ry="2.1"/><ellipse cx="244.7" cy="1758.5" rx="2.7" ry="2.1"/><ellipse cx="231.4" cy="1784.8" rx="2.7" ry="2.1"/><ellipse cx="214.0" cy="1749.1" rx="2.7" ry="2.1"/><ellipse cx="265.4" cy="1778.6" rx="2.7" ry="2.1"/><ellipse cx="250.0" cy="1788.8" rx="2.7" ry="2.1"/><ellipse cx="220.6" cy="1764.5" rx="2.7" ry="2.1"/><ellipse cx="193.9" cy="1760.5" rx="2.7" ry="2.1"/><ellipse cx="262.9" cy="1788.9" rx="2.7" ry="2.1"/><ellipse cx="132.2" cy="1764.0" rx="2.7" ry="2.1"/><ellipse cx="263.3" cy="1765.7" rx="2.7" ry="2.1"/><ellipse cx="136.0" cy="1762.7" rx="2.7" ry="2.1"/><ellipse cx="155.5" cy="1762.9" rx="2.7" ry="2.1"/><ellipse cx="252.1" cy="1781.5" rx="2.7" ry="2.1"/><ellipse cx="260.5" cy="1744.6" rx="2.7" ry="2.1"/><ellipse cx="257.7" cy="1741.6" rx="2.7" ry="2.1"/><ellipse cx="146.9" cy="1791.3" rx="2.7" ry="2.1"/><ellipse cx="193.3" cy="1780.1" rx="2.7" ry="2.1"/><ellipse cx="244.2" cy="1762.2" rx="2.7" ry="2.1"/><ellipse cx="275.9" cy="1793.7" rx="2.7" ry="2.1"/><ellipse cx="270.8" cy="1776.0" rx="2.7" ry="2.1"/><ellipse cx="213.5" cy="1761.9" rx="2.7" ry="2.1"/><ellipse cx="221.3" cy="1786.2" rx="2.7" ry="2.1"/><ellipse cx="250.0" cy="1780.0" rx="2.7" ry="2.1"/><ellipse cx="223.2" cy="1758.9" rx="2.7" ry="2.1"/><ellipse cx="213.7" cy="1756.3" rx="2.7" ry="2.1"/><ellipse cx="206.9" cy="1737.3" rx="2.7" ry="2.1"/><ellipse cx="209.2" cy="1803.0" rx="2.7" ry="2.1"/><ellipse cx="261.5" cy="1774.7" rx="2.7" ry="2.1"/><ellipse cx="224.3" cy="1762.2" rx="2.7" ry="2.1"/><ellipse cx="226.7" cy="1763.0" rx="2.7" ry="2.1"/><ellipse cx="206.4" cy="1777.8" rx="2.7" ry="2.1"/><ellipse cx="257.5" cy="1763.8" rx="2.7" ry="2.1"/><ellipse cx="246.0" cy="1769.6" rx="2.7" ry="2.1"/><ellipse cx="148.4" cy="1765.7" rx="2.7" ry="2.1"/><ellipse cx="211.0" cy="1780.9" rx="2.7" ry="2.1"/><ellipse cx="192.8" cy="1782.7" rx="2.7" ry="2.1"/><ellipse cx="277.7" cy="1793.1" rx="2.7" ry="2.1"/><ellipse cx="217.4" cy="1771.5" rx="2.7" ry="2.1"/><ellipse cx="244.0" cy="1743.5" rx="2.7" ry="2.1"/><ellipse cx="238.2" cy="1783.7" rx="2.7" ry="2.1"/><ellipse cx="257.2" cy="1806.9" rx="2.7" ry="2.1"/><ellipse cx="275.5" cy="1759.5" rx="2.7" ry="2.1"/><ellipse cx="195.2" cy="1765.6" rx="2.7" ry="2.1"/><ellipse cx="255.5" cy="1794.6" rx="2.7" ry="2.1"/><ellipse cx="143.2" cy="1755.3" rx="2.7" ry="2.1"/><ellipse cx="159.4" cy="1781.8" rx="2.7" ry="2.1"/><ellipse cx="244.7" cy="1777.7" rx="2.7" ry="2.1"/><ellipse cx="177.8" cy="1760.1" rx="2.7" ry="2.1"/><ellipse cx="231.8" cy="1772.9" rx="2.7" ry="2.1"/><ellipse cx="236.7" cy="1718.8" rx="2.7" ry="2.1"/><ellipse cx="245.9" cy="1798.8" rx="2.7" ry="2.1"/><ellipse cx="268.6" cy="1757.8" rx="2.7" ry="2.1"/><ellipse cx="221.7" cy="1767.8" rx="2.7" ry="2.1"/><ellipse cx="196.0" cy="1770.1" rx="2.7" ry="2.1"/><ellipse cx="251.4" cy="1785.5" rx="2.7" ry="2.1"/><ellipse cx="248.0" cy="1792.4" rx="2.7" ry="2.1"/><ellipse cx="187.8" cy="1751.5" rx="2.7" ry="2.1"/><ellipse cx="150.3" cy="1766.5" rx="2.7" ry="2.1"/><ellipse cx="161.6" cy="1782.6" rx="2.7" ry="2.1"/><ellipse cx="242.4" cy="1770.8" rx="2.7" ry="2.1"/><ellipse cx="156.2" cy="1745.7" rx="2.7" ry="2.1"/><ellipse cx="259.3" cy="1746.7" rx="2.7" ry="2.1"/><ellipse cx="170.2" cy="1768.7" rx="2.7" ry="2.1"/><ellipse cx="160.4" cy="1760.8" rx="2.7" ry="2.1"/><ellipse cx="213.3" cy="1811.9" rx="2.7" ry="2.1"/><ellipse cx="271.5" cy="1786.5" rx="2.7" ry="2.1"/><ellipse cx="218.3" cy="1767.8" rx="2.7" ry="2.1"/><ellipse cx="188.0" cy="1762.7" rx="2.7" ry="2.1"/><ellipse cx="221.9" cy="1794.3" rx="2.7" ry="2.1"/><ellipse cx="182.0" cy="1797.1" rx="2.7" ry="2.1"/><ellipse cx="212.1" cy="1754.1" rx="2.7" ry="2.1"/><ellipse cx="275.7" cy="1758.6" rx="2.7" ry="2.1"/><ellipse cx="205.7" cy="1788.3" rx="2.7" ry="2.1"/><ellipse cx="236.1" cy="1773.8" rx="2.7" ry="2.1"/><ellipse cx="221.8" cy="1785.9" rx="2.7" ry="2.1"/><ellipse cx="242.9" cy="1781.9" rx="2.7" ry="2.1"/><ellipse cx="183.0" cy="1786.7" rx="2.7" ry="2.1"/><ellipse cx="183.2" cy="1772.1" rx="2.7" ry="2.1"/><ellipse cx="261.4" cy="1775.4" rx="2.7" ry="2.1"/><ellipse cx="232.9" cy="1784.9" rx="2.7" ry="2.1"/><ellipse cx="244.4" cy="1806.7" rx="2.7" ry="2.1"/><ellipse cx="194.6" cy="1814.7" rx="2.7" ry="2.1"/><ellipse cx="277.4" cy="1772.0" rx="2.7" ry="2.1"/><ellipse cx="274.9" cy="1771.7" rx="2.7" ry="2.1"/><ellipse cx="96.1" cy="1740.0" rx="2.7" ry="2.1"/><ellipse cx="170.3" cy="1759.4" rx="2.7" ry="2.1"/><ellipse cx="260.7" cy="1774.4" rx="2.7" ry="2.1"/><ellipse cx="229.9" cy="1792.3" rx="2.7" ry="2.1"/><ellipse cx="160.4" cy="1782.8" rx="2.7" ry="2.1"/><ellipse cx="201.3" cy="1761.5" rx="2.7" ry="2.1"/><ellipse cx="221.5" cy="1779.7" rx="2.7" ry="2.1"/><ellipse cx="237.4" cy="1789.9" rx="2.7" ry="2.1"/><ellipse cx="218.0" cy="1808.6" rx="2.7" ry="2.1"/><ellipse cx="167.6" cy="1732.3" rx="2.7" ry="2.1"/><ellipse cx="230.3" cy="1799.2" rx="2.7" ry="2.1"/><ellipse cx="180.7" cy="1760.4" rx="2.7" ry="2.1"/><ellipse cx="264.2" cy="1809.8" rx="2.7" ry="2.1"/><ellipse cx="262.5" cy="1772.7" rx="2.7" ry="2.1"/><ellipse cx="251.1" cy="1785.6" rx="2.7" ry="2.1"/><ellipse cx="260.9" cy="1783.3" rx="2.7" ry="2.1"/><ellipse cx="276.3" cy="1807.7" rx="2.7" ry="2.1"/><ellipse cx="273.7" cy="1796.9" rx="2.7" ry="2.1"/><ellipse cx="128.4" cy="1739.7" rx="2.7" ry="2.1"/><ellipse cx="246.5" cy="1803.2" rx="2.7" ry="2.1"/><ellipse cx="183.6" cy="1776.4" rx="2.7" ry="2.1"/><ellipse cx="271.4" cy="1772.2" rx="2.7" ry="2.1"/><ellipse cx="227.6" cy="1803.5" rx="2.7" ry="2.1"/><ellipse cx="230.5" cy="1760.6" rx="2.7" ry="2.1"/><ellipse cx="224.9" cy="1751.8" rx="2.7" ry="2.1"/><ellipse cx="270.0" cy="1776.8" rx="2.7" ry="2.1"/><ellipse cx="158.7" cy="1736.4" rx="2.7" ry="2.1"/><ellipse cx="257.4" cy="1766.6" rx="2.7" ry="2.1"/><ellipse cx="260.2" cy="1766.4" rx="2.7" ry="2.1"/><ellipse cx="240.6" cy="1769.6" rx="2.7" ry="2.1"/><ellipse cx="158.7" cy="1737.4" rx="2.7" ry="2.1"/><ellipse cx="239.4" cy="1741.7" rx="2.7" ry="2.1"/><ellipse cx="232.2" cy="1797.8" rx="2.7" ry="2.1"/><ellipse cx="263.7" cy="1772.1" rx="2.7" ry="2.1"/><ellipse cx="200.4" cy="1768.4" rx="2.7" ry="2.1"/><ellipse cx="276.9" cy="1796.9" rx="2.7" ry="2.1"/><ellipse cx="212.2" cy="1784.6" rx="2.7" ry="2.1"/><ellipse cx="245.1" cy="1788.4" rx="2.7" ry="2.1"/><ellipse cx="166.5" cy="1759.5" rx="2.7" ry="2.1"/><ellipse cx="189.3" cy="1738.4" rx="2.7" ry="2.1"/><ellipse cx="276.7" cy="1776.5" rx="2.7" ry="2.1"/><ellipse cx="275.5" cy="1808.8" rx="2.7" ry="2.1"/><ellipse cx="267.1" cy="1789.5" rx="2.7" ry="2.1"/><ellipse cx="179.0" cy="1805.1" rx="2.7" ry="2.1"/><ellipse cx="239.9" cy="1805.8" rx="2.7" ry="2.1"/><ellipse cx="183.5" cy="1780.5" rx="2.7" ry="2.1"/><ellipse cx="190.8" cy="1751.6" rx="2.7" ry="2.1"/><ellipse cx="228.8" cy="1744.2" rx="2.7" ry="2.1"/><ellipse cx="187.1" cy="1774.0" rx="2.7" ry="2.1"/><ellipse cx="240.4" cy="1766.3" rx="2.7" ry="2.1"/><ellipse cx="215.6" cy="1764.0" rx="2.7" ry="2.1"/><ellipse cx="237.9" cy="1797.4" rx="2.7" ry="2.1"/><ellipse cx="233.7" cy="1783.2" rx="2.7" ry="2.1"/><ellipse cx="249.6" cy="1811.3" rx="2.7" ry="2.1"/><ellipse cx="229.0" cy="1801.9" rx="2.7" ry="2.1"/><ellipse cx="172.1" cy="1790.6" rx="2.7" ry="2.1"/><ellipse cx="239.4" cy="1800.4" rx="2.7" ry="2.1"/><ellipse cx="212.6" cy="1754.4" rx="2.7" ry="2.1"/><ellipse cx="240.2" cy="1786.9" rx="2.7" ry="2.1"/><ellipse cx="186.4" cy="1790.0" rx="2.7" ry="2.1"/><ellipse cx="267.7" cy="1769.8" rx="2.7" ry="2.1"/><ellipse cx="202.9" cy="1814.7" rx="2.7" ry="2.1"/><ellipse cx="217.1" cy="1754.1" rx="2.7" ry="2.1"/><ellipse cx="248.9" cy="1792.2" rx="2.7" ry="2.1"/><ellipse cx="133.6" cy="1754.3" rx="2.7" ry="2.1"/><ellipse cx="240.0" cy="1798.6" rx="2.7" ry="2.1"/><ellipse cx="251.5" cy="1748.2" rx="2.7" ry="2.1"/><ellipse cx="249.3" cy="1775.3" rx="2.7" ry="2.1"/><ellipse cx="192.2" cy="1782.2" rx="2.7" ry="2.1"/><ellipse cx="208.1" cy="1770.3" rx="2.7" ry="2.1"/><ellipse cx="237.2" cy="1769.8" rx="2.7" ry="2.1"/><ellipse cx="206.6" cy="1772.6" rx="2.7" ry="2.1"/><ellipse cx="263.2" cy="1786.7" rx="2.7" ry="2.1"/><ellipse cx="267.5" cy="1785.4" rx="2.7" ry="2.1"/><ellipse cx="197.2" cy="1795.0" rx="2.7" ry="2.1"/><ellipse cx="271.5" cy="1743.9" rx="2.7" ry="2.1"/><ellipse cx="127.8" cy="1747.4" rx="2.7" ry="2.1"/><ellipse cx="264.5" cy="1763.6" rx="2.7" ry="2.1"/><ellipse cx="247.3" cy="1804.0" rx="2.7" ry="2.1"/><ellipse cx="251.2" cy="1794.6" rx="2.7" ry="2.1"/><ellipse cx="261.9" cy="1792.5" rx="2.7" ry="2.1"/><ellipse cx="249.0" cy="1781.0" rx="2.7" ry="2.1"/><ellipse cx="203.9" cy="1764.3" rx="2.7" ry="2.1"/><ellipse cx="187.0" cy="1772.8" rx="2.7" ry="2.1"/><ellipse cx="199.3" cy="1744.1" rx="2.7" ry="2.1"/><ellipse cx="260.5" cy="1756.6" rx="2.7" ry="2.1"/><ellipse cx="230.3" cy="1765.8" rx="2.7" ry="2.1"/><ellipse cx="261.7" cy="1762.9" rx="2.7" ry="2.1"/><ellipse cx="203.3" cy="1774.3" rx="2.7" ry="2.1"/><ellipse cx="220.3" cy="1811.1" rx="2.7" ry="2.1"/><ellipse cx="137.6" cy="1753.4" rx="2.7" ry="2.1"/><ellipse cx="267.2" cy="1756.6" rx="2.7" ry="2.1"/><ellipse cx="211.9" cy="1767.5" rx="2.7" ry="2.1"/><ellipse cx="260.2" cy="1777.4" rx="2.7" ry="2.1"/><ellipse cx="209.3" cy="1747.6" rx="2.7" ry="2.1"/><ellipse cx="220.1" cy="1771.2" rx="2.7" ry="2.1"/><ellipse cx="248.7" cy="1798.1" rx="2.7" ry="2.1"/><ellipse cx="249.3" cy="1779.3" rx="2.7" ry="2.1"/><ellipse cx="265.0" cy="1791.7" rx="2.7" ry="2.1"/><ellipse cx="134.1" cy="1789.1" rx="2.7" ry="2.1"/><ellipse cx="239.1" cy="1765.3" rx="2.7" ry="2.1"/><ellipse cx="168.5" cy="1756.1" rx="2.7" ry="2.1"/><ellipse cx="274.3" cy="1784.4" rx="2.7" ry="2.1"/><ellipse cx="272.0" cy="1778.0" rx="2.7" ry="2.1"/><ellipse cx="210.8" cy="1757.5" rx="2.7" ry="2.1"/><ellipse cx="228.9" cy="1787.2" rx="2.7" ry="2.1"/><ellipse cx="200.6" cy="1797.0" rx="2.7" ry="2.1"/><ellipse cx="269.2" cy="1780.4" rx="2.7" ry="2.1"/><ellipse cx="144.2" cy="1746.3" rx="2.7" ry="2.1"/><ellipse cx="227.7" cy="1770.3" rx="2.7" ry="2.1"/><ellipse cx="213.2" cy="1791.9" rx="2.7" ry="2.1"/><ellipse cx="204.9" cy="1747.8" rx="2.7" ry="2.1"/><ellipse cx="237.1" cy="1794.7" rx="2.7" ry="2.1"/><ellipse cx="266.3" cy="1784.5" rx="2.7" ry="2.1"/><ellipse cx="233.4" cy="1784.0" rx="2.7" ry="2.1"/><ellipse cx="212.8" cy="1754.5" rx="2.7" ry="2.1"/><ellipse cx="232.8" cy="1773.3" rx="2.7" ry="2.1"/><ellipse cx="97.2" cy="1781.9" rx="2.7" ry="2.1"/><ellipse cx="209.9" cy="1792.7" rx="2.7" ry="2.1"/><ellipse cx="202.3" cy="1733.5" rx="2.7" ry="2.1"/><ellipse cx="184.3" cy="1764.9" rx="2.7" ry="2.1"/><ellipse cx="273.1" cy="1771.5" rx="2.7" ry="2.1"/><ellipse cx="259.5" cy="1758.3" rx="2.7" ry="2.1"/><ellipse cx="240.5" cy="1778.8" rx="2.7" ry="2.1"/><ellipse cx="242.4" cy="1777.9" rx="2.7" ry="2.1"/><ellipse cx="249.0" cy="1781.9" rx="2.7" ry="2.1"/><ellipse cx="239.4" cy="1767.1" rx="2.7" ry="2.1"/><ellipse cx="214.8" cy="1766.1" rx="2.7" ry="2.1"/><ellipse cx="152.1" cy="1732.1" rx="2.7" ry="2.1"/><ellipse cx="276.0" cy="1774.1" rx="2.7" ry="2.1"/><ellipse cx="212.3" cy="1799.7" rx="2.7" ry="2.1"/><ellipse cx="216.0" cy="1754.2" rx="2.7" ry="2.1"/><ellipse cx="251.9" cy="1781.3" rx="2.7" ry="2.1"/><ellipse cx="273.1" cy="1750.4" rx="2.7" ry="2.1"/><ellipse cx="260.3" cy="1789.3" rx="2.7" ry="2.1"/><ellipse cx="269.5" cy="1777.2" rx="2.7" ry="2.1"/><ellipse cx="215.0" cy="1753.0" rx="2.7" ry="2.1"/><ellipse cx="266.3" cy="1758.4" rx="2.7" ry="2.1"/><ellipse cx="222.3" cy="1770.9" rx="2.7" ry="2.1"/><ellipse cx="254.5" cy="1789.5" rx="2.7" ry="2.1"/><ellipse cx="179.2" cy="1807.0" rx="2.7" ry="2.1"/><ellipse cx="172.1" cy="1761.7" rx="2.7" ry="2.1"/><ellipse cx="276.7" cy="1791.3" rx="2.7" ry="2.1"/><ellipse cx="200.0" cy="1789.4" rx="2.7" ry="2.1"/><ellipse cx="260.4" cy="1803.6" rx="2.7" ry="2.1"/><ellipse cx="167.6" cy="1756.9" rx="2.7" ry="2.1"/><ellipse cx="147.7" cy="1766.0" rx="2.7" ry="2.1"/><ellipse cx="262.7" cy="1770.3" rx="2.7" ry="2.1"/><ellipse cx="224.9" cy="1758.2" rx="2.7" ry="2.1"/><ellipse cx="144.7" cy="1768.3" rx="2.7" ry="2.1"/><ellipse cx="232.5" cy="1785.8" rx="2.7" ry="2.1"/><ellipse cx="233.4" cy="1822.5" rx="2.7" ry="2.1"/><ellipse cx="217.0" cy="1748.1" rx="2.7" ry="2.1"/><ellipse cx="234.7" cy="1748.4" rx="2.7" ry="2.1"/><ellipse cx="274.0" cy="1782.6" rx="2.7" ry="2.1"/><ellipse cx="214.3" cy="1770.0" rx="2.7" ry="2.1"/><ellipse cx="150.5" cy="1779.6" rx="2.7" ry="2.1"/><ellipse cx="184.9" cy="1746.7" rx="2.7" ry="2.1"/><ellipse cx="207.9" cy="1748.0" rx="2.7" ry="2.1"/><ellipse cx="207.4" cy="1784.9" rx="2.7" ry="2.1"/><ellipse cx="235.6" cy="1767.3" rx="2.7" ry="2.1"/><ellipse cx="269.9" cy="1794.7" rx="2.7" ry="2.1"/><ellipse cx="215.9" cy="1806.5" rx="2.7" ry="2.1"/><ellipse cx="203.0" cy="1765.5" rx="2.7" ry="2.1"/><ellipse cx="272.3" cy="1791.2" rx="2.7" ry="2.1"/><ellipse cx="147.5" cy="1766.9" rx="2.7" ry="2.1"/><ellipse cx="180.4" cy="1761.4" rx="2.7" ry="2.1"/><ellipse cx="218.7" cy="1785.4" rx="2.7" ry="2.1"/><ellipse cx="182.9" cy="1769.9" rx="2.7" ry="2.1"/><ellipse cx="230.3" cy="1780.9" rx="2.7" ry="2.1"/><ellipse cx="238.4" cy="1753.6" rx="2.7" ry="2.1"/><ellipse cx="258.1" cy="1793.4" rx="2.7" ry="2.1"/><ellipse cx="208.8" cy="1775.7" rx="2.7" ry="2.1"/><ellipse cx="256.6" cy="1764.0" rx="2.7" ry="2.1"/><ellipse cx="272.4" cy="1767.1" rx="2.7" ry="2.1"/><ellipse cx="231.0" cy="1782.0" rx="2.7" ry="2.1"/><ellipse cx="232.3" cy="1773.4" rx="2.7" ry="2.1"/><ellipse cx="252.3" cy="1801.8" rx="2.7" ry="2.1"/><ellipse cx="226.8" cy="1777.2" rx="2.7" ry="2.1"/><ellipse cx="250.5" cy="1797.3" rx="2.7" ry="2.1"/><ellipse cx="180.6" cy="1763.8" rx="2.7" ry="2.1"/><ellipse cx="239.0" cy="1769.4" rx="2.7" ry="2.1"/><ellipse cx="191.1" cy="1760.0" rx="2.7" ry="2.1"/><ellipse cx="275.3" cy="1769.0" rx="2.7" ry="2.1"/><ellipse cx="202.2" cy="1778.5" rx="2.7" ry="2.1"/><ellipse cx="244.8" cy="1738.3" rx="2.7" ry="2.1"/><ellipse cx="177.4" cy="1782.2" rx="2.7" ry="2.1"/><ellipse cx="212.5" cy="1771.4" rx="2.7" ry="2.1"/><ellipse cx="273.5" cy="1752.3" rx="2.7" ry="2.1"/><ellipse cx="162.6" cy="1768.8" rx="2.7" ry="2.1"/><ellipse cx="244.7" cy="1778.8" rx="2.7" ry="2.1"/><ellipse cx="219.0" cy="1765.1" rx="2.7" ry="2.1"/><ellipse cx="247.8" cy="1782.7" rx="2.7" ry="2.1"/><ellipse cx="219.0" cy="1773.2" rx="2.7" ry="2.1"/><ellipse cx="237.9" cy="1789.9" rx="2.7" ry="2.1"/><ellipse cx="238.7" cy="1812.1" rx="2.7" ry="2.1"/><ellipse cx="255.8" cy="1797.1" rx="2.7" ry="2.1"/><ellipse cx="177.5" cy="1751.1" rx="2.7" ry="2.1"/><ellipse cx="265.6" cy="1807.8" rx="2.7" ry="2.1"/><ellipse cx="253.6" cy="1765.3" rx="2.7" ry="2.1"/><ellipse cx="230.3" cy="1774.4" rx="2.7" ry="2.1"/><ellipse cx="212.0" cy="1759.2" rx="2.7" ry="2.1"/><ellipse cx="253.6" cy="1759.6" rx="2.7" ry="2.1"/><ellipse cx="247.4" cy="1774.0" rx="2.7" ry="2.1"/><ellipse cx="177.7" cy="1739.0" rx="2.7" ry="2.1"/><ellipse cx="163.0" cy="1735.4" rx="2.7" ry="2.1"/><ellipse cx="183.7" cy="1769.5" rx="2.7" ry="2.1"/><ellipse cx="240.2" cy="1776.3" rx="2.7" ry="2.1"/><ellipse cx="252.8" cy="1762.7" rx="2.7" ry="2.1"/><ellipse cx="246.3" cy="1761.9" rx="2.7" ry="2.1"/><ellipse cx="247.3" cy="1771.9" rx="2.7" ry="2.1"/><ellipse cx="190.6" cy="1734.8" rx="2.7" ry="2.1"/><ellipse cx="156.8" cy="1765.3" rx="2.7" ry="2.1"/><ellipse cx="269.5" cy="1785.9" rx="2.7" ry="2.1"/><ellipse cx="276.5" cy="1784.3" rx="2.7" ry="2.1"/><ellipse cx="201.5" cy="1796.1" rx="2.7" ry="2.1"/><ellipse cx="277.2" cy="1764.0" rx="2.7" ry="2.1"/><ellipse cx="190.1" cy="1773.1" rx="2.7" ry="2.1"/><ellipse cx="156.6" cy="1757.4" rx="2.7" ry="2.1"/><ellipse cx="255.4" cy="1810.4" rx="2.7" ry="2.1"/><ellipse cx="201.3" cy="1771.6" rx="2.7" ry="2.1"/><ellipse cx="261.5" cy="1773.8" rx="2.7" ry="2.1"/><ellipse cx="246.8" cy="1814.3" rx="2.7" ry="2.1"/><ellipse cx="204.9" cy="1774.3" rx="2.7" ry="2.1"/><ellipse cx="268.9" cy="1779.9" rx="2.7" ry="2.1"/><ellipse cx="208.1" cy="1754.5" rx="2.7" ry="2.1"/><ellipse cx="254.9" cy="1788.7" rx="2.7" ry="2.1"/><ellipse cx="248.1" cy="1758.8" rx="2.7" ry="2.1"/><ellipse cx="225.1" cy="1779.6" rx="2.7" ry="2.1"/><ellipse cx="227.2" cy="1754.8" rx="2.7" ry="2.1"/><ellipse cx="252.0" cy="1772.3" rx="2.7" ry="2.1"/><ellipse cx="193.6" cy="1771.5" rx="2.7" ry="2.1"/><ellipse cx="202.0" cy="1766.4" rx="2.7" ry="2.1"/><ellipse cx="248.1" cy="1769.3" rx="2.7" ry="2.1"/><ellipse cx="164.3" cy="1842.0" rx="2.7" ry="2.1"/><ellipse cx="253.3" cy="1864.0" rx="2.7" ry="2.1"/><ellipse cx="141.0" cy="1703.6" rx="2.7" ry="2.1"/><ellipse cx="159.0" cy="1701.7" rx="2.7" ry="2.1"/><ellipse cx="244.9" cy="1700.6" rx="2.7" ry="2.1"/><ellipse cx="249.1" cy="1709.4" rx="2.7" ry="2.1"/><ellipse cx="80.6" cy="1741.7" rx="2.7" ry="2.1"/><ellipse cx="86.9" cy="1741.0" rx="2.7" ry="2.1"/><ellipse cx="104.9" cy="1726.3" rx="2.7" ry="2.1"/><ellipse cx="115.5" cy="1731.8" rx="2.7" ry="2.1"/><ellipse cx="98.6" cy="1737.3" rx="2.7" ry="2.1"/></g>
<line x1="80.00" y1="1751.20" x2="276.50" y2="1780.00" stroke="#d9534f" stroke-width="1"/>
<line x1="50.40" y1="1684.80" x2="50.40" y2="1887.40" stroke="#000" stroke-width="2"/>
<line x1="49.40" y1="1886.40" x2="300.50" y2="1886.40" stroke="#000" stroke-width="2"/>
<line x1="46.00" y1="1865.86" x2="50.40" y2="1865.86" stroke="#000" stroke-width="1.8"/>
<text x="43.50" y="1871.86" font-size="17.3" text-anchor="end" transform="matrix(1 0 0 1.05 0 -93.593)">6</text>
<line x1="46.00" y1="1829.14" x2="50.40" y2="1829.14" stroke="#000" stroke-width="1.8"/>
<text x="43.50" y="1835.14" font-size="17.3" text-anchor="end" transform="matrix(1 0 0 1.05 0 -91.757)">7</text>
<line x1="46.00" y1="1792.42" x2="50.40" y2="1792.42" stroke="#000" stroke-width="1.8"/>
<text x="43.50" y="1798.42" font-size="17.3" text-anchor="end" transform="matrix(1 0 0 1.05 0 -89.921)">8</text>
<line x1="46.00" y1="1755.70" x2="50.40" y2="1755.70" stroke="#000" stroke-width="1.8"/>
<text x="43.50" y="1761.70" font-size="17.3" text-anchor="end" transform="matrix(1 0 0 1.05 0 -88.085)">9</text>
<line x1="46.00" y1="1718.98" x2="50.40" y2="1718.98" stroke="#000" stroke-width="1.8"/>
<text x="43.50" y="1724.98" font-size="17.3" text-anchor="end" transform="matrix(1 0 0 1.05 0 -86.249)">10</text>
<line x1="48.00" y1="1884.22" x2="50.40" y2="1884.22" stroke="#000" stroke-width="1.2"/>
<line x1="48.00" y1="1847.50" x2="50.40" y2="1847.50" stroke="#000" stroke-width="1.2"/>
<line x1="48.00" y1="1810.78" x2="50.40" y2="1810.78" stroke="#000" stroke-width="1.2"/>
<line x1="48.00" y1="1774.06" x2="50.40" y2="1774.06" stroke="#000" stroke-width="1.2"/>
<line x1="48.00" y1="1737.34" x2="50.40" y2="1737.34" stroke="#000" stroke-width="1.2"/>
<line x1="48.00" y1="1700.62" x2="50.40" y2="1700.62" stroke="#000" stroke-width="1.2"/>
<line x1="90.10" y1="1886.40" x2="90.10" y2="1890.80" stroke="#000" stroke-width="1.8"/>
<text x="90.10" y="1907.60" font-size="17.3" text-anchor="middle" transform="matrix(1 0 0 1.05 0 -95.380)">6</text>
<line x1="132.50" y1="1886.40" x2="132.50" y2="1890.80" stroke="#000" stroke-width="1.8"/>
<text x="132.50" y="1907.60" font-size="17.3" text-anchor="middle" transform="matrix(1 0 0 1.05 0 -95.380)">8</text>
<line x1="174.90" y1="1886.40" x2="174.90" y2="1890.80" stroke="#000" stroke-width="1.8"/>
<text x="174.90" y="1907.60" font-size="17.3" text-anchor="middle" transform="matrix(1 0 0 1.05 0 -95.380)">10</text>
<line x1="217.30" y1="1886.40" x2="217.30" y2="1890.80" stroke="#000" stroke-width="1.8"/>
<text x="217.30" y="1907.60" font-size="17.3" text-anchor="middle" transform="matrix(1 0 0 1.05 0 -95.380)">12</text>
<line x1="259.70" y1="1886.40" x2="259.70" y2="1890.80" stroke="#000" stroke-width="1.8"/>
<text x="259.70" y="1907.60" font-size="17.3" text-anchor="middle" transform="matrix(1 0 0 1.05 0 -95.380)">14</text>
<text x="62.40" y="1928.60" font-size="16.8" textLength="225.50" lengthAdjust="spacingAndGlyphs" transform="matrix(1 0 0 1.05 0 -96.430)">mRNA expression: SERPINA3</text>
<text x="20.00" y="1787.60" font-size="17.1" text-anchor="middle" textLength="231.00" lengthAdjust="spacingAndGlyphs" transform="rotate(-90 20.00 1787.60) matrix(1 0 0 1.05 0 -89.380)">mRNA expression: ANKRD11</text>
<text x="303.50" y="1696.50" font-size="17.6" textLength="129.00" lengthAdjust="spacingAndGlyphs" transform="matrix(1 0 0 1.05 0 -84.825)">Spearman: -0.31</text>
<text x="313.40" y="1717.50" font-size="17.6" transform="matrix(1 0 0 1.05 0 -85.875)">(P=5.03e-43)</text>
<text x="303.50" y="1761.60" font-size="17.6" transform="matrix(1 0 0 1.05 0 -88.080)">Pearson: -0.29</text>
<text x="313.40" y="1783.50" font-size="17.6" transform="matrix(1 0 0 1.05 0 -89.175)">(P=2.40e-37)</text>
<text x="303.50" y="1827.00" font-size="17.6" transform="matrix(1 0 0 1.05 0 -91.350)">y=-0.08x + 9.44</text>
<text x="328.4" y="1851" font-size="17.6" transform="matrix(1 0 0 1.05 0 -92.550)">R<tspan font-size="10.5" dy="-7.5">2</tspan><tspan dy="7.5">=0.08</tspan></text>
<text x="574.50" y="1645.60" font-size="21" font-weight="bold" transform="matrix(1 0 0 1.05 0 -82.280)">l</text>
<rect x="616.60" y="1665.50" width="262.60" height="247.50" fill="none" stroke="#444" stroke-width="1.4"/>
<line x1="612.50" y1="1668.30" x2="616.60" y2="1668.30" stroke="#444" stroke-width="1.2"/>
<text x="610.50" y="1671.60" font-size="9" font-weight="bold" text-anchor="end" fill="#222" transform="matrix(1 0 0 1.05 0 -83.580)">10</text>
<line x1="612.50" y1="1738.65" x2="616.60" y2="1738.65" stroke="#444" stroke-width="1.2"/>
<text x="610.50" y="1741.95" font-size="9" font-weight="bold" text-anchor="end" fill="#222" transform="matrix(1 0 0 1.05 0 -87.098)">5</text>
<line x1="612.50" y1="1809.00" x2="616.60" y2="1809.00" stroke="#444" stroke-width="1.2"/>
<text x="610.50" y="1812.30" font-size="9" font-weight="bold" text-anchor="end" fill="#222" transform="matrix(1 0 0 1.05 0 -90.615)">0</text>
<line x1="612.50" y1="1879.35" x2="616.60" y2="1879.35" stroke="#444" stroke-width="1.2"/>
<text x="610.50" y="1882.65" font-size="9" font-weight="bold" text-anchor="end" fill="#222" transform="matrix(1 0 0 1.05 0 -94.133)">-5</text>
<line x1="686.60" y1="1783.00" x2="686.60" y2="1804.00" stroke="#2f4f4f" stroke-width="1.3"/>
<line x1="686.60" y1="1818.40" x2="686.60" y2="1839.40" stroke="#2f4f4f" stroke-width="1.3"/>
<line x1="671.20" y1="1783.00" x2="702.00" y2="1783.00" stroke="#2f4f4f" stroke-width="1.4"/>
<line x1="671.20" y1="1839.40" x2="702.00" y2="1839.40" stroke="#2f4f4f" stroke-width="1.4"/>
<line x1="686.60" y1="1760.00" x2="686.60" y2="1783.00" stroke="#2f4f4f" stroke-width="2.3"/>
<line x1="686.60" y1="1839.40" x2="686.60" y2="1862.00" stroke="#2f4f4f" stroke-width="2.3"/>
<circle cx="686.6" cy="1758.0" r="1.15" fill="#2f4f4f"/>
<circle cx="686.6" cy="1864.5" r="1.15" fill="#2f4f4f"/>
<circle cx="686.6" cy="1868.0" r="1.15" fill="#2f4f4f"/>
<circle cx="686.6" cy="1871.5" r="1.15" fill="#2f4f4f"/>
<circle cx="686.6" cy="1875.0" r="1.15" fill="#2f4f4f"/>
<circle cx="686.6" cy="1702.6" r="1.15" fill="#2f4f4f"/>
<circle cx="686.6" cy="1893.0" r="1.15" fill="#2f4f4f"/>
<rect x="656.10" y="1804.00" width="61.00" height="14.40" fill="#25b6c8" stroke="#2f4f4f" stroke-width="1.2"/>
<line x1="657.60" y1="1811.00" x2="715.60" y2="1811.00" stroke="#fff" stroke-width="2.6"/>
<line x1="658.60" y1="1811.00" x2="714.60" y2="1811.00" stroke="#2f4f4f" stroke-width="1.1" stroke-dasharray="1.2 2"/>
<line x1="686.60" y1="1913.00" x2="686.60" y2="1916.50" stroke="#444" stroke-width="1.2"/>
<line x1="808.50" y1="1774.30" x2="808.50" y2="1796.40" stroke="#2f4f4f" stroke-width="1.3"/>
<line x1="808.50" y1="1811.60" x2="808.50" y2="1833.70" stroke="#2f4f4f" stroke-width="1.3"/>
<line x1="793.10" y1="1774.30" x2="823.90" y2="1774.30" stroke="#2f4f4f" stroke-width="1.4"/>
<line x1="793.10" y1="1833.70" x2="823.90" y2="1833.70" stroke="#2f4f4f" stroke-width="1.4"/>
<line x1="808.50" y1="1751.00" x2="808.50" y2="1774.30" stroke="#2f4f4f" stroke-width="2.3"/>
<line x1="808.50" y1="1833.70" x2="808.50" y2="1846.00" stroke="#2f4f4f" stroke-width="2.3"/>
<circle cx="808.5" cy="1749.2" r="1.15" fill="#2f4f4f"/>
<circle cx="808.5" cy="1847.0" r="1.15" fill="#2f4f4f"/>
<circle cx="808.5" cy="1675.0" r="1.15" fill="#2f4f4f"/>
<circle cx="808.5" cy="1880.4" r="1.15" fill="#2f4f4f"/>
<rect x="778.00" y="1796.40" width="61.00" height="15.20" fill="#e85c0f" stroke="#2f4f4f" stroke-width="1.2"/>
<line x1="779.50" y1="1804.40" x2="837.50" y2="1804.40" stroke="#fff" stroke-width="2.6"/>
<line x1="780.50" y1="1804.40" x2="836.50" y2="1804.40" stroke="#2f4f4f" stroke-width="1.1" stroke-dasharray="1.2 2"/>
<line x1="808.50" y1="1913.00" x2="808.50" y2="1916.50" stroke="#444" stroke-width="1.2"/>
<text x="592.00" y="1789.50" font-size="22" text-anchor="middle" textLength="211.00" lengthAdjust="spacingAndGlyphs" transform="rotate(-90 592.00 1789.50) matrix(1 0 0 1.05 0 -89.475)">ANKRD11 mRNA level</text>
<text x="660.70" y="1941.30" font-size="20.7" transform="matrix(1 0 0 1.05 0 -97.065)">ER</text>
<line x1="692.90" y1="1933.90" x2="708.70" y2="1933.90" stroke="#333" stroke-width="1.3"/>
<line x1="700.80" y1="1926.00" x2="700.80" y2="1941.80" stroke="#333" stroke-width="1.3"/>
<text x="782.80" y="1941.30" font-size="20.7" transform="matrix(1 0 0 1.05 0 -97.065)">ER</text>
<line x1="815.00" y1="1933.40" x2="830.80" y2="1933.40" stroke="#333" stroke-width="1.3"/>
<text x="830.00" y="1901.20" font-size="9" font-weight="bold" fill="#222" textLength="42.50" lengthAdjust="spacingAndGlyphs" transform="matrix(1 0 0 1.05 0 -95.060)">p &lt; 0.0001</text>
<rect x="830.00" y="1905.20" width="5.50" height="5.60" fill="#25b6c8" stroke="none" stroke-width="0"/>
<text x="838.50" y="1911.00" font-size="9" font-weight="bold" fill="#222" transform="matrix(1 0 0 1.05 0 -95.550)">&lt;</text>
<rect x="846.00" y="1905.20" width="5.70" height="5.60" fill="#e85c0f" stroke="none" stroke-width="0"/>
<g stroke="#333" stroke-width="1" stroke-dasharray="1.6 1.4"><line x1="118.5" y1="2101.0" x2="182.0" y2="2160.5"/><line x1="118.5" y1="2121.2" x2="182.0" y2="2191.0"/><line x1="118.5" y1="2126.5" x2="182.0" y2="2205.5"/><line x1="118.5" y1="2145.0" x2="182.0" y2="2185.0"/><line x1="118.5" y1="2149.0" x2="182.0" y2="2128.5"/><line x1="118.5" y1="2150.5" x2="182.0" y2="2154.5"/><line x1="118.5" y1="2152.0" x2="182.0" y2="2200.0"/><line x1="118.5" y1="2155.0" x2="182.0" y2="2173.0"/><line x1="118.5" y1="2156.5" x2="182.0" y2="2170.5"/><line x1="118.5" y1="2158.0" x2="182.0" y2="2182.0"/><line x1="118.5" y1="2160.0" x2="182.0" y2="2230.0"/><line x1="118.5" y1="2161.0" x2="182.0" y2="2179.0"/><line x1="118.5" y1="2163.0" x2="182.0" y2="2142.8"/><line x1="118.5" y1="2173.0" x2="182.0" y2="2167.0"/><line x1="118.5" y1="2174.0" x2="182.0" y2="2203.0"/><line x1="118.5" y1="2176.5" x2="182.0" y2="2227.5"/><line x1="118.5" y1="2185.0" x2="182.0" y2="2112.5"/><line x1="118.5" y1="2190.0" x2="182.0" y2="2131.5"/><line x1="118.5" y1="2192.5" x2="182.0" y2="2188.0"/><line x1="118.5" y1="2196.0" x2="182.0" y2="2176.0"/><line x1="118.5" y1="2198.5" x2="182.0" y2="2146.0"/><line x1="118.5" y1="2204.5" x2="182.0" y2="2194.0"/><line x1="118.5" y1="2207.0" x2="182.0" y2="2197.0"/><line x1="118.5" y1="2209.5" x2="182.0" y2="2164.0"/></g>
<g fill="#f00"><circle cx="118.5" cy="2101.0" r="3.1"/><circle cx="118.5" cy="2121.2" r="3.1"/><circle cx="118.5" cy="2126.5" r="3.1"/><circle cx="118.5" cy="2145.0" r="3.1"/><circle cx="118.5" cy="2149.0" r="3.1"/><circle cx="118.5" cy="2152.0" r="3.1"/><circle cx="118.5" cy="2155.0" r="3.1"/><circle cx="118.5" cy="2158.0" r="3.1"/><circle cx="118.5" cy="2161.0" r="3.1"/><circle cx="118.5" cy="2163.0" r="3.1"/><circle cx="118.5" cy="2174.0" r="3.1"/><circle cx="118.5" cy="2176.5" r="3.1"/><circle cx="118.5" cy="2185.0" r="3.1"/><circle cx="118.5" cy="2192.5" r="3.1"/><circle cx="118.5" cy="2198.5" r="3.1"/><circle cx="118.5" cy="2204.5" r="3.1"/><circle cx="118.5" cy="2209.5" r="3.1"/><circle cx="118.5" cy="2150.5" r="3.1"/><circle cx="118.5" cy="2156.5" r="3.1"/><circle cx="118.5" cy="2173.0" r="3.1"/><circle cx="118.5" cy="2190.0" r="3.1"/><circle cx="118.5" cy="2196.0" r="3.1"/><circle cx="118.5" cy="2207.0" r="3.1"/><circle cx="118.5" cy="2160.0" r="3.1"/></g>
<g fill="#00f"><circle cx="182.0" cy="2112.5" r="3.1"/><circle cx="182.0" cy="2128.5" r="3.1"/><circle cx="182.0" cy="2131.5" r="3.1"/><circle cx="182.0" cy="2142.8" r="3.1"/><circle cx="182.0" cy="2146.0" r="3.1"/><circle cx="182.0" cy="2154.5" r="3.1"/><circle cx="182.0" cy="2160.5" r="3.1"/><circle cx="182.0" cy="2164.0" r="3.1"/><circle cx="182.0" cy="2170.5" r="3.1"/><circle cx="182.0" cy="2173.0" r="3.1"/><circle cx="182.0" cy="2176.0" r="3.1"/><circle cx="182.0" cy="2179.0" r="3.1"/><circle cx="182.0" cy="2182.0" r="3.1"/><circle cx="182.0" cy="2185.0" r="3.1"/><circle cx="182.0" cy="2188.0" r="3.1"/><circle cx="182.0" cy="2191.0" r="3.1"/><circle cx="182.0" cy="2194.0" r="3.1"/><circle cx="182.0" cy="2197.0" r="3.1"/><circle cx="182.0" cy="2200.0" r="3.1"/><circle cx="182.0" cy="2203.0" r="3.1"/><circle cx="182.0" cy="2205.5" r="3.1"/><circle cx="182.0" cy="2227.5" r="3.1"/><circle cx="182.0" cy="2230.0" r="3.1"/><circle cx="182.0" cy="2167.0" r="3.1"/></g>
<line x1="76.75" y1="2049.50" x2="76.75" y2="2238.50" stroke="#000" stroke-width="2"/>
<line x1="75.75" y1="2237.50" x2="225.00" y2="2237.50" stroke="#000" stroke-width="2"/>
<line x1="69.25" y1="2083.25" x2="76.75" y2="2083.25" stroke="#000" stroke-width="1.8"/>
<text x="66.45" y="2090.29" font-size="19.5" font-weight="bold" text-anchor="end" transform="matrix(1 0 0 1.05 0 -104.515)">11</text>
<line x1="69.25" y1="2120.50" x2="76.75" y2="2120.50" stroke="#000" stroke-width="1.8"/>
<text x="66.45" y="2127.54" font-size="19.5" font-weight="bold" text-anchor="end" transform="matrix(1 0 0 1.05 0 -106.377)">10</text>
<line x1="69.25" y1="2157.50" x2="76.75" y2="2157.50" stroke="#000" stroke-width="1.8"/>
<text x="66.45" y="2164.54" font-size="19.5" font-weight="bold" text-anchor="end" transform="matrix(1 0 0 1.05 0 -108.227)">9</text>
<line x1="69.25" y1="2194.25" x2="76.75" y2="2194.25" stroke="#000" stroke-width="1.8"/>
<text x="66.45" y="2201.29" font-size="19.5" font-weight="bold" text-anchor="end" transform="matrix(1 0 0 1.05 0 -110.065)">8</text>
<line x1="69.25" y1="2231.25" x2="76.75" y2="2231.25" stroke="#000" stroke-width="1.8"/>
<text x="66.45" y="2238.29" font-size="19.5" font-weight="bold" text-anchor="end" transform="matrix(1 0 0 1.05 0 -111.915)">7</text>
<line x1="118.50" y1="2237.50" x2="118.50" y2="2246.50" stroke="#000" stroke-width="1.8"/>
<line x1="182.00" y1="2237.50" x2="182.00" y2="2246.50" stroke="#000" stroke-width="1.8"/>
<text x="1.90" y="1995.00" font-size="21" font-weight="bold" transform="matrix(1 0 0 1.05 0 -99.750)">m</text>
<text x="150.00" y="2018.75" font-size="17.5" font-weight="bold" text-anchor="middle" textLength="95.00" lengthAdjust="spacingAndGlyphs" transform="matrix(1 0 0 1.05 0 -100.938)">SERPINA3</text>
<text x="151.50" y="2045.50" font-size="15.2" text-anchor="middle" textLength="58.00" lengthAdjust="spacingAndGlyphs" transform="matrix(1 0 0 1.05 0 -102.275)">P=0.028</text>
<path d="M118.50 2090.00V2078.75H182.00V2101.25" fill="none" stroke="#000" stroke-width="1.7"/>
<path d="M150.25 2060.40V2069.20M146.44 2062.60L154.06 2067.00M146.44 2067.00L154.06 2062.60" stroke="#000" stroke-width="1.9" stroke-linecap="round" fill="none"/>
<text x="118.40" y="2265.50" font-size="17.5" font-weight="bold" text-anchor="middle" textLength="59.25" lengthAdjust="spacingAndGlyphs" transform="matrix(1 0 0 1.05 0 -113.275)">Before</text>
<text x="183.40" y="2265.50" font-size="17.5" font-weight="bold" text-anchor="middle" textLength="44.25" lengthAdjust="spacingAndGlyphs" transform="matrix(1 0 0 1.05 0 -113.275)">After</text>
<text x="145.25" y="2297.50" font-size="17.5" font-weight="bold" text-anchor="middle" textLength="104.50" lengthAdjust="spacingAndGlyphs" transform="matrix(1 0 0 1.05 0 -114.875)">GSE147271</text>
<text x="35.50" y="2139.40" font-size="19" font-weight="bold" text-anchor="middle" textLength="216.00" lengthAdjust="spacingAndGlyphs" transform="rotate(-90 35.50 2139.40) matrix(1 0 0 1.05 0 -106.970)">mRNA expression level</text>
<g stroke="#333" stroke-width="1" stroke-dasharray="1.6 1.4"><line x1="378.0" y1="2115.5" x2="441.5" y2="2155.0"/><line x1="378.0" y1="2132.5" x2="441.5" y2="2170.0"/><line x1="378.0" y1="2136.5" x2="441.5" y2="2173.5"/><line x1="378.0" y1="2141.0" x2="441.5" y2="2124.0"/><line x1="378.0" y1="2153.0" x2="441.5" y2="2183.0"/><line x1="378.0" y1="2155.0" x2="441.5" y2="2145.0"/><line x1="378.0" y1="2156.0" x2="441.5" y2="2100.5"/><line x1="378.0" y1="2159.0" x2="441.5" y2="2150.0"/><line x1="378.0" y1="2162.0" x2="441.5" y2="2126.5"/><line x1="378.0" y1="2165.0" x2="441.5" y2="2143.0"/><line x1="378.0" y1="2177.0" x2="441.5" y2="2111.8"/><line x1="378.0" y1="2184.5" x2="441.5" y2="2121.0"/><line x1="378.0" y1="2190.0" x2="441.5" y2="2152.0"/><line x1="378.0" y1="2192.0" x2="441.5" y2="2146.0"/><line x1="378.0" y1="2193.0" x2="441.5" y2="2149.0"/><line x1="378.0" y1="2196.0" x2="441.5" y2="2160.0"/><line x1="378.0" y1="2199.0" x2="441.5" y2="2135.5"/><line x1="378.0" y1="2200.0" x2="441.5" y2="2140.0"/><line x1="378.0" y1="2202.0" x2="441.5" y2="2167.0"/><line x1="378.0" y1="2205.0" x2="441.5" y2="2161.0"/><line x1="378.0" y1="2208.0" x2="441.5" y2="2178.5"/><line x1="378.0" y1="2211.0" x2="441.5" y2="2205.0"/><line x1="378.0" y1="2214.0" x2="441.5" y2="2164.0"/><line x1="378.0" y1="2231.0" x2="441.5" y2="2158.0"/></g>
<g fill="#00f"><circle cx="378.0" cy="2115.5" r="3.1"/><circle cx="378.0" cy="2132.5" r="3.1"/><circle cx="378.0" cy="2136.5" r="3.1"/><circle cx="378.0" cy="2141.0" r="3.1"/><circle cx="378.0" cy="2153.0" r="3.1"/><circle cx="378.0" cy="2156.0" r="3.1"/><circle cx="378.0" cy="2159.0" r="3.1"/><circle cx="378.0" cy="2162.0" r="3.1"/><circle cx="378.0" cy="2165.0" r="3.1"/><circle cx="378.0" cy="2177.0" r="3.1"/><circle cx="378.0" cy="2184.5" r="3.1"/><circle cx="378.0" cy="2190.0" r="3.1"/><circle cx="378.0" cy="2193.0" r="3.1"/><circle cx="378.0" cy="2196.0" r="3.1"/><circle cx="378.0" cy="2199.0" r="3.1"/><circle cx="378.0" cy="2202.0" r="3.1"/><circle cx="378.0" cy="2205.0" r="3.1"/><circle cx="378.0" cy="2208.0" r="3.1"/><circle cx="378.0" cy="2211.0" r="3.1"/><circle cx="378.0" cy="2214.0" r="3.1"/><circle cx="378.0" cy="2231.0" r="3.1"/><circle cx="378.0" cy="2155.0" r="3.1"/><circle cx="378.0" cy="2192.0" r="3.1"/><circle cx="378.0" cy="2200.0" r="3.1"/></g>
<g fill="#f00"><circle cx="441.5" cy="2100.5" r="3.1"/><circle cx="441.5" cy="2111.8" r="3.1"/><circle cx="441.5" cy="2121.0" r="3.1"/><circle cx="441.5" cy="2124.0" r="3.1"/><circle cx="441.5" cy="2126.5" r="3.1"/><circle cx="441.5" cy="2135.5" r="3.1"/><circle cx="441.5" cy="2140.0" r="3.1"/><circle cx="441.5" cy="2143.0" r="3.1"/><circle cx="441.5" cy="2146.0" r="3.1"/><circle cx="441.5" cy="2149.0" r="3.1"/><circle cx="441.5" cy="2152.0" r="3.1"/><circle cx="441.5" cy="2155.0" r="3.1"/><circle cx="441.5" cy="2158.0" r="3.1"/><circle cx="441.5" cy="2161.0" r="3.1"/><circle cx="441.5" cy="2164.0" r="3.1"/><circle cx="441.5" cy="2167.0" r="3.1"/><circle cx="441.5" cy="2170.0" r="3.1"/><circle cx="441.5" cy="2173.5" r="3.1"/><circle cx="441.5" cy="2178.5" r="3.1"/><circle cx="441.5" cy="2183.0" r="3.1"/><circle cx="441.5" cy="2205.0" r="3.1"/><circle cx="441.5" cy="2145.0" r="3.1"/><circle cx="441.5" cy="2160.0" r="3.1"/><circle cx="441.5" cy="2150.0" r="3.1"/></g>
<line x1="335.50" y1="2051.25" x2="335.50" y2="2240.25" stroke="#000" stroke-width="2"/>
<line x1="334.50" y1="2239.25" x2="483.75" y2="2239.25" stroke="#000" stroke-width="2"/>
<line x1="328.00" y1="2056.25" x2="335.50" y2="2056.25" stroke="#000" stroke-width="1.8"/>
<text x="325.20" y="2063.37" font-size="19.7" font-weight="bold" text-anchor="end" transform="matrix(1 0 0 1.05 0 -103.168)">13.0</text>
<line x1="328.00" y1="2080.75" x2="335.50" y2="2080.75" stroke="#000" stroke-width="1.8"/>
<text x="325.20" y="2087.87" font-size="19.7" font-weight="bold" text-anchor="end" transform="matrix(1 0 0 1.05 0 -104.393)">12.5</text>
<line x1="328.00" y1="2105.50" x2="335.50" y2="2105.50" stroke="#000" stroke-width="1.8"/>
<text x="325.20" y="2112.62" font-size="19.7" font-weight="bold" text-anchor="end" transform="matrix(1 0 0 1.05 0 -105.631)">12.0</text>
<line x1="328.00" y1="2130.50" x2="335.50" y2="2130.50" stroke="#000" stroke-width="1.8"/>
<text x="325.20" y="2137.62" font-size="19.7" font-weight="bold" text-anchor="end" transform="matrix(1 0 0 1.05 0 -106.881)">11.5</text>
<line x1="328.00" y1="2155.50" x2="335.50" y2="2155.50" stroke="#000" stroke-width="1.8"/>
<text x="325.20" y="2162.62" font-size="19.7" font-weight="bold" text-anchor="end" transform="matrix(1 0 0 1.05 0 -108.131)">11.0</text>
<line x1="328.00" y1="2180.00" x2="335.50" y2="2180.00" stroke="#000" stroke-width="1.8"/>
<text x="325.20" y="2187.12" font-size="19.7" font-weight="bold" text-anchor="end" transform="matrix(1 0 0 1.05 0 -109.356)">10.5</text>
<line x1="328.00" y1="2205.00" x2="335.50" y2="2205.00" stroke="#000" stroke-width="1.8"/>
<text x="325.20" y="2212.12" font-size="19.7" font-weight="bold" text-anchor="end" transform="matrix(1 0 0 1.05 0 -110.606)">10.0</text>
<line x1="328.00" y1="2229.50" x2="335.50" y2="2229.50" stroke="#000" stroke-width="1.8"/>
<text x="325.20" y="2236.62" font-size="19.7" font-weight="bold" text-anchor="end" transform="matrix(1 0 0 1.05 0 -111.831)">9.5</text>
<line x1="378.00" y1="2239.25" x2="378.00" y2="2248.25" stroke="#000" stroke-width="1.8"/>
<line x1="441.50" y1="2239.25" x2="441.50" y2="2248.25" stroke="#000" stroke-width="1.8"/>
<text x="243.60" y="1995.00" font-size="21" font-weight="bold" transform="matrix(1 0 0 1.05 0 -99.750)">n</text>
<text x="409.00" y="2019.50" font-size="17.5" font-weight="bold" text-anchor="middle" textLength="89.25" lengthAdjust="spacingAndGlyphs" transform="matrix(1 0 0 1.05 0 -100.975)">ANKRD11</text>
<text x="408.75" y="2046.25" font-size="15.2" text-anchor="middle" textLength="65.00" lengthAdjust="spacingAndGlyphs" transform="matrix(1 0 0 1.05 0 -102.313)">P&lt;0.0001</text>
<path d="M378.00 2103.75V2077.50H441.50V2088.75" fill="none" stroke="#000" stroke-width="1.7"/>
<path d="M392.95 2060.40V2069.20M389.14 2062.60L396.76 2067.00M389.14 2067.00L396.76 2062.60" stroke="#000" stroke-width="1.9" stroke-linecap="round" fill="none"/>
<path d="M404.15 2060.40V2069.20M400.34 2062.60L407.96 2067.00M400.34 2067.00L407.96 2062.60" stroke="#000" stroke-width="1.9" stroke-linecap="round" fill="none"/>
<path d="M415.35 2060.40V2069.20M411.54 2062.60L419.16 2067.00M411.54 2067.00L419.16 2062.60" stroke="#000" stroke-width="1.9" stroke-linecap="round" fill="none"/>
<path d="M426.55 2060.40V2069.20M422.74 2062.60L430.36 2067.00M422.74 2067.00L430.36 2062.60" stroke="#000" stroke-width="1.9" stroke-linecap="round" fill="none"/>
<text x="377.25" y="2266.25" font-size="17.5" font-weight="bold" text-anchor="middle" textLength="59.50" lengthAdjust="spacingAndGlyphs" transform="matrix(1 0 0 1.05 0 -113.313)">Before</text>
<text x="442.25" y="2266.25" font-size="17.5" font-weight="bold" text-anchor="middle" textLength="44.50" lengthAdjust="spacingAndGlyphs" transform="matrix(1 0 0 1.05 0 -113.313)">After</text>
<text x="405.00" y="2300.00" font-size="17.5" font-weight="bold" text-anchor="middle" textLength="104.00" lengthAdjust="spacingAndGlyphs" transform="matrix(1 0 0 1.05 0 -115.000)">GSE147271</text>
<text x="276.50" y="2140.60" font-size="19" font-weight="bold" text-anchor="middle" textLength="216.25" lengthAdjust="spacingAndGlyphs" transform="rotate(-90 276.50 2140.60) matrix(1 0 0 1.05 0 -107.030)">mRNA expression level</text>
<text x="518.00" y="1995.00" font-size="21" font-weight="bold" transform="matrix(1 0 0 1.05 0 -99.750)">o</text>
<text x="792.40" y="2017.60" font-size="15.5" font-weight="bold" text-anchor="middle" textLength="79.80" lengthAdjust="spacingAndGlyphs" transform="matrix(1 0 0 1.05 0 -100.880)">Luminal A</text>
<line x1="590.50" y1="2026.70" x2="986.50" y2="2026.70" stroke="#666" stroke-width="1.2"/>
<line x1="986.50" y1="2026.70" x2="986.50" y2="2311.20" stroke="#444" stroke-width="1.2"/>
<line x1="590.50" y1="2026.70" x2="590.50" y2="2315.00" stroke="#444" stroke-width="1.2"/>
<line x1="590.50" y1="2269.60" x2="986.50" y2="2269.60" stroke="#333" stroke-width="1.2"/>
<line x1="590.50" y1="2311.20" x2="986.50" y2="2311.20" stroke="#333" stroke-width="1.2"/>
<line x1="586.00" y1="2039.50" x2="590.50" y2="2039.50" stroke="#444" stroke-width="1.2"/>
<text x="583.00" y="2045.00" font-size="15.5" font-weight="bold" text-anchor="end" transform="matrix(1 0 0 1.05 0 -102.250)">1.00</text>
<line x1="586.00" y1="2093.90" x2="590.50" y2="2093.90" stroke="#444" stroke-width="1.2"/>
<text x="583.00" y="2099.40" font-size="15.5" font-weight="bold" text-anchor="end" transform="matrix(1 0 0 1.05 0 -104.970)">0.75</text>
<line x1="586.00" y1="2148.30" x2="590.50" y2="2148.30" stroke="#444" stroke-width="1.2"/>
<text x="583.00" y="2153.80" font-size="15.5" font-weight="bold" text-anchor="end" transform="matrix(1 0 0 1.05 0 -107.690)">0.50</text>
<line x1="586.00" y1="2202.70" x2="590.50" y2="2202.70" stroke="#444" stroke-width="1.2"/>
<text x="583.00" y="2208.20" font-size="15.5" font-weight="bold" text-anchor="end" transform="matrix(1 0 0 1.05 0 -110.410)">0.25</text>
<line x1="586.00" y1="2257.10" x2="590.50" y2="2257.10" stroke="#444" stroke-width="1.2"/>
<text x="583.00" y="2262.60" font-size="15.5" font-weight="bold" text-anchor="end" transform="matrix(1 0 0 1.05 0 -113.130)">0.00</text>
<path d="M594.7 2039.0 L616.0 2040.3 L629.0 2042.1 L636.8 2046.0 L642.0 2048.1 L652.4 2049.1 L660.2 2053.8 L673.2 2053.8 L678.4 2059.0 L682.3 2065.5 L697.9 2065.5 L701.8 2070.2 L717.4 2070.2 L725.2 2081.1 L735.6 2081.9 L737.7 2088.9 L760.8 2088.9 L773.8 2101.3 L879.9 2101.3 L893.4 2140.3 L981.8 2140.3" fill="none" stroke="#0000ff" stroke-width="3.2" stroke-linejoin="round"/>
<path d="M594.7 2039.5 L600.4 2039.5 L603.0 2041.3 L610.8 2042.9 L618.6 2045.0 L623.8 2046.5 L631.6 2048.0 L639.4 2051.2 L642.0 2053.3 L657.6 2053.8 L662.8 2056.4 L668.0 2059.0 L673.2 2064.2 L679.7 2064.7 L682.3 2072.0 L686.2 2074.6 L696.6 2075.1 L701.8 2082.4 L714.8 2083.7 L716.1 2089.7 L726.5 2090.2 L729.1 2105.3 L740.8 2105.3 L743.4 2116.2 L748.6 2126.6 L751.2 2137.0 L751.7 2148.7 L759.0 2148.7 L770.7 2161.7 L772.5 2175.2 L779.8 2175.2 L796.7 2195.7 L917.6 2195.7" fill="none" stroke="#ff0000" stroke-width="3.2" stroke-linejoin="round"/>
<line x1="776.00" y1="2098.80" x2="776.00" y2="2103.80" stroke="#0000ff" stroke-width="1.5"/>
<line x1="781.00" y1="2098.80" x2="781.00" y2="2103.80" stroke="#0000ff" stroke-width="1.5"/>
<line x1="791.00" y1="2098.80" x2="791.00" y2="2103.80" stroke="#0000ff" stroke-width="1.5"/>
<line x1="817.00" y1="2098.80" x2="817.00" y2="2103.80" stroke="#0000ff" stroke-width="1.5"/>
<line x1="822.00" y1="2098.80" x2="822.00" y2="2103.80" stroke="#0000ff" stroke-width="1.5"/>
<line x1="828.00" y1="2098.80" x2="828.00" y2="2103.80" stroke="#0000ff" stroke-width="1.5"/>
<line x1="957.00" y1="2137.80" x2="957.00" y2="2142.80" stroke="#0000ff" stroke-width="1.5"/>
<line x1="975.00" y1="2137.80" x2="975.00" y2="2142.80" stroke="#0000ff" stroke-width="1.5"/>
<line x1="822.50" y1="2192.70" x2="822.50" y2="2198.70" stroke="#ff0000" stroke-width="1.5"/>
<line x1="854.00" y1="2192.70" x2="854.00" y2="2198.70" stroke="#ff0000" stroke-width="1.5"/>
<line x1="917.00" y1="2192.70" x2="917.00" y2="2198.70" stroke="#ff0000" stroke-width="1.5"/>
<text x="905.90" y="2051.90" font-size="14.5" font-weight="bold" textLength="70.20" lengthAdjust="spacingAndGlyphs" transform="matrix(1 0 0 1.05 0 -102.595)">ANKRD11</text>
<rect x="905.60" y="2061.00" width="11.20" height="10.90" fill="#ff0000" stroke="none" stroke-width="0"/>
<text x="924.60" y="2071.40" font-size="15" font-weight="bold" fill="#ff0000" transform="matrix(1 0 0 1.05 0 -103.570)">High</text>
<rect x="905.60" y="2079.70" width="11.20" height="10.70" fill="#0000ff" stroke="none" stroke-width="0"/>
<text x="924.60" y="2090.10" font-size="15" font-weight="bold" fill="#0000ff" transform="matrix(1 0 0 1.05 0 -104.505)">Low</text>
<text x="605.3" y="2225.4" font-size="15" font-weight="bold" transform="matrix(1 0 0 1.05 0 -111.270)"><tspan font-style="italic">P</tspan> = 0.04</text>
<text x="605.10" y="2250.00" font-size="15.3" font-weight="bold" textLength="206.50" lengthAdjust="spacingAndGlyphs" transform="matrix(1 0 0 1.05 0 -112.500)">HR = 1.87, 95CI% (1.04, 3.38)</text>
<text x="594.10" y="2281.30" font-size="15.3" font-weight="bold" textLength="107.40" lengthAdjust="spacingAndGlyphs" transform="matrix(1 0 0 1.05 0 -114.065)">Number at risk</text>
<line x1="591.00" y1="2283.10" x2="986.00" y2="2283.10" stroke="#aaa" stroke-width="0.8" stroke-dasharray="2 2"/>
<line x1="591.00" y1="2297.40" x2="986.00" y2="2297.40" stroke="#aaa" stroke-width="0.8" stroke-dasharray="2 2"/>
<line x1="692.40" y1="2270.00" x2="692.40" y2="2311.00" stroke="#bbb" stroke-width="0.8" stroke-dasharray="2 2"/>
<line x1="788.60" y1="2270.00" x2="788.60" y2="2311.00" stroke="#bbb" stroke-width="0.8" stroke-dasharray="2 2"/>
<line x1="884.80" y1="2270.00" x2="884.80" y2="2311.00" stroke="#bbb" stroke-width="0.8" stroke-dasharray="2 2"/>
<line x1="981.30" y1="2270.00" x2="981.30" y2="2311.00" stroke="#bbb" stroke-width="0.8" stroke-dasharray="2 2"/>
<text x="583.70" y="2294.30" font-size="15" font-weight="bold" text-anchor="end" fill="#ff0000" transform="matrix(1 0 0 1.05 0 -114.715)">High</text>
<text x="583.70" y="2309.10" font-size="15" font-weight="bold" text-anchor="end" fill="#0000ff" transform="matrix(1 0 0 1.05 0 -115.455)">Low</text>
<text x="593.60" y="2294.30" font-size="15" font-weight="bold" fill="#ff0000" transform="matrix(1 0 0 1.05 0 -114.715)">267</text>
<text x="593.60" y="2309.10" font-size="15" font-weight="bold" fill="#0000ff" transform="matrix(1 0 0 1.05 0 -115.455)">233</text>
<text x="692.40" y="2294.30" font-size="15" font-weight="bold" text-anchor="middle" fill="#ff0000" transform="matrix(1 0 0 1.05 0 -114.715)">50</text>
<text x="692.40" y="2309.10" font-size="15" font-weight="bold" text-anchor="middle" fill="#0000ff" transform="matrix(1 0 0 1.05 0 -115.455)">46</text>
<text x="788.60" y="2294.30" font-size="15" font-weight="bold" text-anchor="middle" fill="#ff0000" transform="matrix(1 0 0 1.05 0 -114.715)">4</text>
<text x="788.60" y="2309.10" font-size="15" font-weight="bold" text-anchor="middle" fill="#0000ff" transform="matrix(1 0 0 1.05 0 -115.455)">10</text>
<text x="884.80" y="2294.30" font-size="15" font-weight="bold" text-anchor="middle" fill="#ff0000" transform="matrix(1 0 0 1.05 0 -114.715)">1</text>
<text x="884.80" y="2309.10" font-size="15" font-weight="bold" text-anchor="middle" fill="#0000ff" transform="matrix(1 0 0 1.05 0 -115.455)">4</text>
<text x="981.30" y="2294.30" font-size="15" font-weight="bold" text-anchor="middle" fill="#ff0000" transform="matrix(1 0 0 1.05 0 -114.715)">1</text>
<text x="981.30" y="2309.10" font-size="15" font-weight="bold" text-anchor="middle" fill="#0000ff" transform="matrix(1 0 0 1.05 0 -115.455)">1</text>
<line x1="595.70" y1="2311.20" x2="595.70" y2="2315.00" stroke="#333" stroke-width="1.2"/>
<text x="595.70" y="2330.70" font-size="15" font-weight="bold" text-anchor="middle" transform="matrix(1 0 0 1.05 0 -116.535)">0</text>
<line x1="692.40" y1="2311.20" x2="692.40" y2="2315.00" stroke="#333" stroke-width="1.2"/>
<text x="692.40" y="2330.70" font-size="15" font-weight="bold" text-anchor="middle" transform="matrix(1 0 0 1.05 0 -116.535)">2,139</text>
<line x1="788.60" y1="2311.20" x2="788.60" y2="2315.00" stroke="#333" stroke-width="1.2"/>
<text x="788.60" y="2330.70" font-size="15" font-weight="bold" text-anchor="middle" transform="matrix(1 0 0 1.05 0 -116.535)">4,278</text>
<line x1="884.80" y1="2311.20" x2="884.80" y2="2315.00" stroke="#333" stroke-width="1.2"/>
<text x="884.80" y="2330.70" font-size="15" font-weight="bold" text-anchor="middle" transform="matrix(1 0 0 1.05 0 -116.535)">6,417</text>
<line x1="981.30" y1="2311.20" x2="981.30" y2="2315.00" stroke="#333" stroke-width="1.2"/>
<text x="981.30" y="2330.70" font-size="15" font-weight="bold" text-anchor="middle" transform="matrix(1 0 0 1.05 0 -116.535)">8,556</text>
<text x="793.30" y="2356.70" font-size="15.5" font-weight="bold" text-anchor="middle" textLength="91.00" lengthAdjust="spacingAndGlyphs" transform="matrix(1 0 0 1.05 0 -117.835)">Time (days)</text>
<text x="541.00" y="2150.75" font-size="15" font-weight="bold" text-anchor="middle" textLength="153.50" lengthAdjust="spacingAndGlyphs" transform="rotate(-90 541.00 2150.75) matrix(1 0 0 1.05 0 -107.538)">Survival probability</text></svg></body></html>
